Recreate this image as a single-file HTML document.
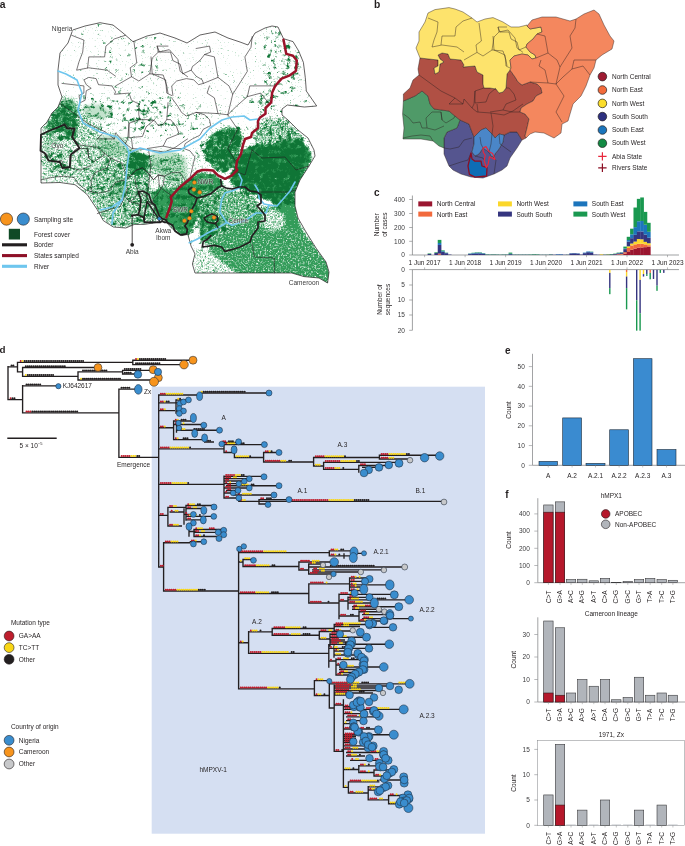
<!DOCTYPE html>
<html><head><meta charset="utf-8"><title>Figure</title>
<style>html,body{margin:0;padding:0;background:#fff}svg{display:block}text{font-family:'Liberation Sans', sans-serif}</style>
</head><body>
<svg width="685" height="846" viewBox="0 0 685 846">
<rect width="685" height="846" fill="#fff"/>
<!-- mapa.panel_a -->
<text x="-0.3" y="7.7" font-size="10.3" font-weight="bold" fill="#231f20">a</text>
<defs>
<clipPath id="landclip"><polygon points="72.7,30.0 85.0,26.0 100.0,22.7 113.0,25.0 123.0,33.0 133.0,41.7 147.0,36.0 160.0,33.0 175.0,38.0 187.0,43.0 200.0,35.0 215.0,32.0 228.0,38.0 240.0,42.0 248.0,45.0 255.0,33.0 265.0,28.0 272.0,26.0 278.0,27.0 283.5,38.7 293.0,41.6 298.7,51.0 303.4,62.4 305.3,77.6 306.3,91.0 316.7,106.0 304.4,107.0 287.3,105.0 282.0,109.0 282.0,115.0 288.0,120.0 298.0,130.0 308.0,138.0 314.0,150.0 315.0,156.0 309.0,166.0 300.0,180.0 295.0,192.0 295.0,206.0 298.0,218.0 306.0,232.0 316.0,248.0 326.0,262.0 329.0,272.0 327.6,283.0 319.0,278.0 304.0,276.6 291.7,273.0 274.3,273.0 224.7,273.0 195.0,273.0 192.4,264.0 195.0,254.0 191.0,246.0 190.3,243.0 187.8,234.4 181.6,235.6 172.9,229.4 166.0,222.0 159.3,222.0 144.4,224.4 134.4,224.4 125.8,228.0 113.3,227.0 103.4,220.7 97.2,209.6 87.3,194.7 75.0,184.7 60.0,182.5 41.0,183.0 41.0,128.0 47.0,122.0 52.0,113.0 58.0,107.0 62.0,97.0 58.0,85.0 58.0,70.0 60.0,53.0 68.0,43.0"/></clipPath>
<filter id="fz" x="30" y="15" width="305" height="275" filterUnits="userSpaceOnUse" color-interpolation-filters="sRGB">
<feGaussianBlur in="SourceGraphic" stdDeviation="2.4" result="d0"/>
<feColorMatrix in="d0" type="matrix" values="0 0 0 0 0 0 0 0 0 0 0 0 0 0 0 1 0 0 0 0" result="d"/>
<feTurbulence type="fractalNoise" baseFrequency="0.22" numOctaves="4" seed="11" result="n"/>
<feTurbulence type="fractalNoise" baseFrequency="0.7" numOctaves="2" seed="3" result="n2"/>
<feColorMatrix in="n" type="matrix" values="0 0 0 0 0 0 0 0 0 0 0 0 0 0 0 1.0 0.5 0 0 -0.25" result="na"/>
<feColorMatrix in="n2" type="matrix" values="0 0 0 0 0 0 0 0 0 0 0 0 0 0 0 0 0 0.5 0 -0.25" result="nb"/>
<feComposite in="na" in2="nb" operator="arithmetic" k1="0" k2="1" k3="1" k4="0" result="nn"/>
<feComposite in="d" in2="nn" operator="arithmetic" k1="0" k2="0.5" k3="0.5" k4="0" result="s"/>
<feColorMatrix in="s" type="matrix" values="0 0 0 0 0.06 0 0 0 0 0.46 0 0 0 0 0.21 0 0 0 7 -3"/>
</filter>
<filter id="fz2" x="30" y="15" width="305" height="275" filterUnits="userSpaceOnUse" color-interpolation-filters="sRGB">
<feGaussianBlur in="SourceGraphic" stdDeviation="1.6" result="d0"/>
<feColorMatrix in="d0" type="matrix" values="0 0 0 0 0 0 0 0 0 0 0 0 0 0 0 1 0 0 0 0" result="d"/>
<feTurbulence type="fractalNoise" baseFrequency="0.6" numOctaves="3" seed="5" result="n"/>
<feColorMatrix in="n" type="matrix" values="0 0 0 0 0 0 0 0 0 0 0 0 0 0 0 1.0 0.5 0 0 -0.25" result="na"/>
<feComposite in="d" in2="na" operator="arithmetic" k1="0" k2="0.5" k3="0.5" k4="0" result="s"/>
<feColorMatrix in="s" type="matrix" values="0 0 0 0 0.2 0 0 0 0 0.61 0 0 0 0 0.35 0 0 0 4 -1.4"/>
</filter>
<filter id="pale" x="30" y="15" width="305" height="275" filterUnits="userSpaceOnUse"><feGaussianBlur stdDeviation="1.5"/></filter>
</defs>
<polygon points="72.7,30.0 85.0,26.0 100.0,22.7 113.0,25.0 123.0,33.0 133.0,41.7 147.0,36.0 160.0,33.0 175.0,38.0 187.0,43.0 200.0,35.0 215.0,32.0 228.0,38.0 240.0,42.0 248.0,45.0 255.0,33.0 265.0,28.0 272.0,26.0 278.0,27.0 283.5,38.7 293.0,41.6 298.7,51.0 303.4,62.4 305.3,77.6 306.3,91.0 316.7,106.0 304.4,107.0 287.3,105.0 282.0,109.0 282.0,115.0 288.0,120.0 298.0,130.0 308.0,138.0 314.0,150.0 315.0,156.0 309.0,166.0 300.0,180.0 295.0,192.0 295.0,206.0 298.0,218.0 306.0,232.0 316.0,248.0 326.0,262.0 329.0,272.0 327.6,283.0 319.0,278.0 304.0,276.6 291.7,273.0 274.3,273.0 224.7,273.0 195.0,273.0 192.4,264.0 195.0,254.0 191.0,246.0 190.3,243.0 187.8,234.4 181.6,235.6 172.9,229.4 166.0,222.0 159.3,222.0 144.4,224.4 134.4,224.4 125.8,228.0 113.3,227.0 103.4,220.7 97.2,209.6 87.3,194.7 75.0,184.7 60.0,182.5 41.0,183.0 41.0,128.0 47.0,122.0 52.0,113.0 58.0,107.0 62.0,97.0 58.0,85.0 58.0,70.0 60.0,53.0 68.0,43.0" fill="#fff"/>
<g clip-path="url(#landclip)">
<g filter="url(#pale)" fill="#a8d6b6" fill-opacity="0.7">
<polygon points="97.0,137.0 112.0,134.0 127.0,140.0 128.0,152.0 118.0,157.0 100.0,155.0"/>
<polygon points="152.0,153.0 170.0,150.0 186.0,158.0 187.0,178.0 172.0,184.0 160.0,176.0 150.0,165.0"/>
<polygon points="84.0,106.0 100.0,104.0 112.0,112.0 104.0,120.0 86.0,118.0"/>
<polygon points="60.0,100.0 72.0,98.0 80.0,110.0 70.0,118.0"/>
<polygon points="110.0,180.0 125.0,178.0 128.0,195.0 115.0,200.0"/>
</g>
<g filter="url(#fz2)">
<rect x="0" y="0" width="343" height="300" fill="#000"/>
<polygon points="41.0,128.0 56.0,108.0 60.0,96.0 76.0,98.0 84.0,112.0 100.0,126.0 128.0,140.0 150.0,142.0 170.0,150.0 187.0,158.0 188.0,178.0 172.0,198.0 167.0,218.0 146.0,224.0 126.0,228.0 112.0,226.0 100.0,218.0 90.0,198.0 76.0,184.0 41.0,183.0" fill="rgb(92,92,92)"/>
<polygon points="41.0,166.0 52.0,174.0 78.0,176.0 76.0,184.0 41.0,183.0" fill="rgb(71,71,71)"/>
<polygon points="46.0,126.0 58.0,104.0 74.0,104.0 79.0,122.0 76.0,140.0 62.0,146.0 48.0,140.0" fill="rgb(153,153,153)"/>
<polygon points="96.0,168.0 112.0,162.0 129.0,164.0 146.0,172.0 168.0,180.0 170.0,200.0 166.0,220.0 146.0,224.0 126.0,228.0 114.0,226.0 100.0,212.0 90.0,190.0" fill="rgb(107,107,107)"/>
<polygon points="129.0,150.0 142.0,146.0 149.0,154.0 148.0,172.0 138.0,178.0 129.0,172.0" fill="rgb(173,173,173)"/>
<polygon points="182.0,157.0 200.0,154.0 206.0,166.0 198.0,176.0 186.0,176.0" fill="rgb(38,38,38)"/>
<polygon points="149.0,174.0 164.0,174.0 165.0,190.0 151.0,190.0" fill="rgb(38,38,38)"/>
<polygon points="66.0,140.0 80.0,140.0 80.0,166.0 68.0,166.0" fill="rgb(71,71,71)"/>
<polygon points="52.0,133.0 64.0,131.0 66.0,146.0 54.0,148.0" fill="rgb(71,71,71)"/>
<polygon points="100.0,128.0 128.0,142.0 150.0,142.0 180.0,140.0 204.0,130.0 216.0,118.0 236.0,112.0 258.0,114.0 258.0,124.0 236.0,124.0 212.0,136.0 196.0,148.0 160.0,158.0 134.0,150.0 118.0,142.0 100.0,136.0" fill="rgb(0,0,0)"/>
<polygon points="206.0,140.0 214.0,132.0 226.0,126.0 238.0,128.0 244.0,136.0 240.0,152.0 234.0,166.0 224.0,174.0 212.0,168.0 204.0,154.0" fill="rgb(153,153,153)"/>
<polygon points="232.0,172.0 238.0,160.0 245.0,149.0 260.0,143.0 272.0,145.0 284.0,140.0 296.0,139.0 304.0,143.0 311.0,152.0 312.0,160.0 304.0,174.0 298.0,184.0 294.0,200.0 280.0,204.0 262.0,198.0 246.0,190.0 238.0,188.0 230.0,184.0" fill="rgb(219,219,219)"/>
<polygon points="258.0,122.0 282.0,118.0 298.0,130.0 306.0,142.0 296.0,140.0 284.0,141.0 272.0,146.0 260.0,144.0 252.0,140.0" fill="rgb(107,107,107)"/>
<polygon points="152.0,196.0 160.0,186.0 170.0,190.0 180.0,186.0 190.0,178.0 200.0,172.0 214.0,174.0 224.0,182.0 216.0,194.0 204.0,200.0 198.0,214.0 192.0,232.0 182.0,236.0 172.0,228.0 164.0,220.0 156.0,214.0" fill="rgb(219,219,219)"/>
<polygon points="198.0,196.0 216.0,194.0 218.0,210.0 204.0,212.0" fill="rgb(71,71,71)"/>
<polygon points="203.0,190.0 222.0,188.0 250.0,192.0 260.0,204.0 256.0,222.0 242.0,244.0 218.0,250.0 203.0,244.0 198.0,222.0" fill="rgb(135,135,135)"/>
<polygon points="200.0,214.0 214.0,212.0 222.0,226.0 212.0,238.0 200.0,240.0" fill="rgb(173,173,173)"/>
<polygon points="207.0,250.0 216.0,240.0 236.0,228.0 253.0,216.0 264.0,206.0 280.0,208.0 294.0,204.0 297.0,213.0 300.0,224.0 306.0,234.0 318.0,250.0 330.0,266.0 332.0,288.0 300.0,282.0 240.0,277.0 226.0,266.0" fill="rgb(173,173,173)"/>
<polygon points="270.0,207.0 285.0,200.0 295.0,192.0 297.0,216.0 300.0,230.0 290.0,228.0 276.0,224.0" fill="rgb(219,219,219)"/>
<polygon points="262.0,214.0 272.0,208.0 284.0,214.0 286.0,226.0 272.0,232.0 262.0,226.0" fill="rgb(92,92,92)"/>
<polygon points="194.0,248.0 206.0,250.0 228.0,270.0 236.0,276.0 194.0,276.0" fill="rgb(71,71,71)"/>
</g>
<g filter="url(#fz)">
<rect x="0" y="0" width="343" height="300" fill="#000"/>
<polygon points="40.0,20.0 330.0,20.0 330.0,290.0 40.0,290.0" fill="rgb(20,20,20)"/>
<polygon points="40.0,92.0 330.0,92.0 330.0,290.0 40.0,290.0" fill="rgb(38,38,38)"/>
<polygon points="85.0,22.0 160.0,30.0 160.0,50.0 120.0,60.0 85.0,45.0" fill="rgb(38,38,38)"/>
<polygon points="100.0,50.0 180.0,50.0 200.0,80.0 175.0,95.0 110.0,92.0" fill="rgb(38,38,38)"/>
<polygon points="175.0,20.0 260.0,20.0 262.0,80.0 230.0,105.0 180.0,100.0 160.0,60.0" fill="rgb(0,0,0)"/>
<polygon points="55.0,40.0 100.0,40.0 100.0,92.0 84.0,96.0 64.0,80.0 55.0,60.0" fill="rgb(0,0,0)"/>
<polygon points="264.0,28.0 280.0,28.0 296.0,50.0 302.0,70.0 298.0,88.0 284.0,96.0 268.0,92.0 262.0,70.0 266.0,50.0" fill="rgb(71,71,71)"/>
<polygon points="292.0,56.0 300.0,58.0 302.0,70.0 296.0,74.0 292.0,66.0" fill="rgb(120,120,120)"/>
<polygon points="258.0,92.0 272.0,88.0 276.0,104.0 262.0,112.0 254.0,104.0" fill="rgb(92,92,92)"/>
<polygon points="84.0,96.0 100.0,92.0 150.0,96.0 176.0,102.0 200.0,104.0 214.0,116.0 204.0,128.0 180.0,136.0 150.0,138.0 128.0,138.0 100.0,126.0 84.0,112.0" fill="rgb(56,56,56)"/>
<polygon points="137.0,102.0 159.0,100.0 162.0,116.0 150.0,126.0 136.0,120.0" fill="rgb(92,92,92)"/>
<polygon points="129.0,118.0 147.0,118.0 148.0,128.0 130.0,128.0" fill="rgb(92,92,92)"/>
<polygon points="84.0,104.0 112.0,104.0 116.0,120.0 100.0,124.0 84.0,116.0" fill="rgb(92,92,92)"/>
<polygon points="41.0,128.0 56.0,108.0 60.0,96.0 76.0,98.0 84.0,112.0 100.0,126.0 128.0,140.0 150.0,142.0 170.0,150.0 187.0,158.0 188.0,178.0 172.0,198.0 167.0,218.0 146.0,224.0 126.0,228.0 112.0,226.0 100.0,218.0 90.0,198.0 76.0,184.0 41.0,183.0" fill="rgb(71,71,71)"/>
<polygon points="48.0,118.0 58.0,102.0 72.0,104.0 77.0,120.0 74.0,136.0 62.0,140.0 50.0,134.0" fill="rgb(135,135,135)"/>
<polygon points="44.0,150.0 54.0,150.0 60.0,160.0 50.0,162.0" fill="rgb(120,120,120)"/>
<polygon points="52.0,166.0 70.0,166.0 70.0,174.0 54.0,174.0" fill="rgb(120,120,120)"/>
<polygon points="41.0,170.0 52.0,174.0 78.0,176.0 76.0,184.0 41.0,183.0" fill="rgb(38,38,38)"/>
<polygon points="96.0,168.0 110.0,162.0 128.0,166.0 128.0,196.0 116.0,204.0 102.0,200.0 94.0,186.0" fill="rgb(92,92,92)"/>
<polygon points="129.0,150.0 142.0,146.0 149.0,154.0 148.0,170.0 138.0,176.0 129.0,172.0" fill="rgb(173,173,173)"/>
<polygon points="128.0,172.0 150.0,172.0 168.0,180.0 170.0,200.0 166.0,220.0 146.0,224.0 126.0,228.0 114.0,226.0 124.0,210.0 128.0,196.0" fill="rgb(92,92,92)"/>
<polygon points="100.0,128.0 128.0,142.0 150.0,142.0 180.0,140.0 204.0,130.0 216.0,118.0 236.0,112.0 258.0,114.0 258.0,124.0 236.0,124.0 212.0,136.0 196.0,148.0 160.0,158.0 134.0,150.0 118.0,142.0 100.0,136.0" fill="rgb(0,0,0)"/>
<polygon points="182.0,157.0 200.0,154.0 206.0,166.0 198.0,176.0 186.0,176.0" fill="rgb(0,0,0)"/>
<polygon points="149.0,174.0 164.0,174.0 164.0,188.0 150.0,188.0" fill="rgb(20,20,20)"/>
<polygon points="206.0,140.0 214.0,132.0 226.0,126.0 238.0,128.0 244.0,136.0 240.0,152.0 234.0,166.0 224.0,174.0 212.0,168.0 204.0,154.0" fill="rgb(153,153,153)"/>
<polygon points="196.0,142.0 206.0,138.0 206.0,160.0 198.0,164.0" fill="rgb(92,92,92)"/>
<polygon points="258.0,106.0 284.0,108.0 300.0,108.0 316.0,106.0 300.0,132.0 282.0,118.0 270.0,120.0 258.0,128.0" fill="rgb(71,71,71)"/>
<polygon points="258.0,120.0 282.0,116.0 300.0,132.0 312.0,146.0 296.0,146.0 270.0,140.0 254.0,136.0" fill="rgb(92,92,92)"/>
<polygon points="232.0,172.0 238.0,160.0 245.0,149.0 260.0,143.0 272.0,145.0 284.0,140.0 296.0,139.0 304.0,143.0 311.0,152.0 312.0,160.0 304.0,174.0 298.0,184.0 294.0,200.0 280.0,204.0 262.0,198.0 246.0,190.0 238.0,188.0 230.0,184.0" fill="rgb(173,173,173)"/>
<polygon points="300.0,162.0 312.0,156.0 312.0,166.0 304.0,176.0" fill="rgb(92,92,92)"/>
<polygon points="168.0,198.0 186.0,182.0 200.0,174.0 214.0,176.0 224.0,184.0 214.0,198.0 204.0,212.0 198.0,230.0 186.0,237.0 172.0,228.0 166.0,218.0" fill="rgb(107,107,107)"/>
<polygon points="199.0,194.0 214.0,192.0 217.0,206.0 204.0,208.0" fill="rgb(38,38,38)"/>
<polygon points="270.0,207.0 285.0,200.0 295.0,192.0 297.0,216.0 292.0,228.0 276.0,224.0" fill="rgb(135,135,135)"/>
<polygon points="290.0,215.0 298.0,218.0 306.0,234.0 300.0,238.0 292.0,230.0" fill="rgb(135,135,135)"/>
<polygon points="203.0,190.0 222.0,188.0 250.0,192.0 260.0,204.0 256.0,222.0 242.0,244.0 218.0,250.0 203.0,244.0 198.0,222.0" fill="rgb(92,92,92)"/>
<polygon points="200.0,214.0 214.0,212.0 222.0,226.0 212.0,238.0 200.0,240.0" fill="rgb(120,120,120)"/>
<polygon points="224.0,196.0 244.0,196.0 248.0,214.0 232.0,222.0 222.0,212.0" fill="rgb(38,38,38)"/>
<polygon points="194.0,248.0 206.0,248.0 230.0,268.0 238.0,276.0 194.0,276.0" fill="rgb(38,38,38)"/>
<polygon points="207.0,251.0 216.0,241.0 236.0,229.0 253.0,217.0 264.0,208.0 280.0,209.0 294.0,205.0 300.0,224.0 318.0,250.0 330.0,266.0 332.0,288.0 240.0,278.0 226.0,267.0" fill="rgb(0,0,0)"/>
</g>
</g>
<polyline points="71.7,35.3 83.9,40.1 82.7,52.1 79.0,61.8 76.6,70.2 88.8,67.8 107.1,70.2 115.6,76.2" fill="none" stroke="#231f20" stroke-width="0.6" stroke-linejoin="round" stroke-linecap="round"/>
<polyline points="87.6,67.8 88.8,56.9 104.6,56.9 105.9,46.1 114.4,38.9 125.4,35.3" fill="none" stroke="#231f20" stroke-width="0.6" stroke-linejoin="round" stroke-linecap="round"/>
<polyline points="133.9,41.3 136.8,63.0 130.2,67.8 131.5,76.7 115.6,85.9" fill="none" stroke="#231f20" stroke-width="0.6" stroke-linejoin="round" stroke-linecap="round"/>
<polyline points="131.5,76.7 138.8,81.0 149.8,73.8 163.2,75.0 166.8,85.9 168.0,93.1" fill="none" stroke="#231f20" stroke-width="0.6" stroke-linejoin="round" stroke-linecap="round"/>
<polyline points="149.8,73.8 152.2,58.1 158.3,52.1 169.3,49.7 177.8,59.3 180.2,71.4 187.6,76.7" fill="none" stroke="#231f20" stroke-width="0.6" stroke-linejoin="round" stroke-linecap="round"/>
<polyline points="158.3,52.1 157.1,46.1 168.0,46.1" fill="none" stroke="#231f20" stroke-width="0.6" stroke-linejoin="round" stroke-linecap="round"/>
<polyline points="157.1,46.1 159.5,52.1 170.5,52.1 172.9,60.6 180.2,64.2 182.7,73.8 191.2,70.2" fill="none" stroke="#231f20" stroke-width="0.6" stroke-linejoin="round" stroke-linecap="round"/>
<polyline points="151.0,56.9 152.2,73.8 165.6,79.8 166.8,93.1 171.7,95.5" fill="none" stroke="#231f20" stroke-width="0.6" stroke-linejoin="round" stroke-linecap="round"/>
<polyline points="203.4,83.4 218.0,77.4 229.0,85.9 232.7,94.3 227.8,114.8" fill="none" stroke="#231f20" stroke-width="0.6" stroke-linejoin="round" stroke-linecap="round"/>
<polyline points="209.5,85.9 207.1,93.1 214.4,97.9 218.0,113.6" fill="none" stroke="#231f20" stroke-width="0.6" stroke-linejoin="round" stroke-linecap="round"/>
<polyline points="196.1,112.4 218.0,113.6 227.8,114.8 236.3,106.3 247.3,96.7 260.7,93.1 269.3,103.9" fill="none" stroke="#231f20" stroke-width="0.6" stroke-linejoin="round" stroke-linecap="round"/>
<polyline points="232.7,94.3 247.3,71.4 244.9,56.9 251.0,47.3 252.2,36.5" fill="none" stroke="#231f20" stroke-width="0.6" stroke-linejoin="round" stroke-linecap="round"/>
<polyline points="218.0,77.4 214.4,56.9 204.6,54.5" fill="none" stroke="#231f20" stroke-width="0.6" stroke-linejoin="round" stroke-linecap="round"/>
<polyline points="227.8,114.8 237.6,129.2 227.8,148.5 235.1,160.6" fill="none" stroke="#231f20" stroke-width="0.6" stroke-linejoin="round" stroke-linecap="round"/>
<polyline points="247.3,96.7 249.8,85.9 269.3,85.9 276.6,85.9" fill="none" stroke="#231f20" stroke-width="0.6" stroke-linejoin="round" stroke-linecap="round"/>
<polyline points="60.7,103.9 87.6,123.2 104.6,131.6 114.4,138.9 115.6,132.8 125.4,143.7 127.8,138.9 129.0,123.2 140.0,119.6" fill="none" stroke="#231f20" stroke-width="0.6" stroke-linejoin="round" stroke-linecap="round"/>
<polyline points="129.0,123.2 129.0,137.7 142.4,136.5 146.1,126.8 154.6,119.6" fill="none" stroke="#231f20" stroke-width="0.6" stroke-linejoin="round" stroke-linecap="round"/>
<polyline points="97.3,138.9 104.6,131.6" fill="none" stroke="#231f20" stroke-width="0.6" stroke-linejoin="round" stroke-linecap="round"/>
<polyline points="97.3,138.9 114.4,138.9" fill="none" stroke="#231f20" stroke-width="0.6" stroke-linejoin="round" stroke-linecap="round"/>
<polyline points="125.4,143.7 131.5,148.5 148.5,149.7 151.0,165.4 149.8,175.0" fill="none" stroke="#231f20" stroke-width="0.6" stroke-linejoin="round" stroke-linecap="round"/>
<polyline points="131.5,138.9 132.7,148.5" fill="none" stroke="#231f20" stroke-width="0.6" stroke-linejoin="round" stroke-linecap="round"/>
<polyline points="148.5,149.7 164.4,152.1 175.4,147.3 183.9,141.3 187.6,138.9" fill="none" stroke="#231f20" stroke-width="0.6" stroke-linejoin="round" stroke-linecap="round"/>
<polyline points="147.3,148.5 163.2,146.1 174.1,148.5 183.9,148.5" fill="none" stroke="#231f20" stroke-width="0.6" stroke-linejoin="round" stroke-linecap="round"/>
<polyline points="163.2,146.1 166.8,138.9 179.0,134.0 176.6,126.8 170.5,119.6 166.8,119.6" fill="none" stroke="#231f20" stroke-width="0.6" stroke-linejoin="round" stroke-linecap="round"/>
<polyline points="41.7,150.9 48.5,155.7 53.4,161.8 62.0,160.6 64.4,167.8 70.5,167.8 80.2,170.2 91.2,165.4" fill="none" stroke="#231f20" stroke-width="0.6" stroke-linejoin="round" stroke-linecap="round"/>
<polyline points="70.5,167.8 69.3,155.7 76.6,148.5 87.6,148.5 88.8,158.1 93.7,161.8 103.4,155.7 104.6,153.3" fill="none" stroke="#231f20" stroke-width="0.6" stroke-linejoin="round" stroke-linecap="round"/>
<polyline points="87.6,148.5 88.8,158.1" fill="none" stroke="#231f20" stroke-width="0.6" stroke-linejoin="round" stroke-linecap="round"/>
<polyline points="41.2,179.8 52.2,177.4 63.2,176.2 74.1,177.4 77.8,183.4" fill="none" stroke="#231f20" stroke-width="0.6" stroke-linejoin="round" stroke-linecap="round"/>
<polyline points="91.2,191.9 98.5,193.1 109.5,190.7 115.6,182.2 125.4,179.8" fill="none" stroke="#231f20" stroke-width="0.6" stroke-linejoin="round" stroke-linecap="round"/>
<polyline points="97.3,213.6 112.0,208.7 120.5,206.3 124.1,197.9" fill="none" stroke="#231f20" stroke-width="0.6" stroke-linejoin="round" stroke-linecap="round"/>
<polyline points="135.1,178.6 136.3,187.1 138.8,191.9" fill="none" stroke="#231f20" stroke-width="0.6" stroke-linejoin="round" stroke-linecap="round"/>
<polyline points="149.8,175.0 148.5,187.1 146.1,196.7" fill="none" stroke="#231f20" stroke-width="0.6" stroke-linejoin="round" stroke-linecap="round"/>
<polyline points="129.0,201.5 138.8,203.9 140.2,206.8" fill="none" stroke="#231f20" stroke-width="0.6" stroke-linejoin="round" stroke-linecap="round"/>
<polyline points="158.3,175.0 159.5,187.1 172.9,196.7" fill="none" stroke="#231f20" stroke-width="0.6" stroke-linejoin="round" stroke-linecap="round"/>
<polyline points="152.2,223.2 154.6,206.3 149.8,201.5" fill="none" stroke="#231f20" stroke-width="0.6" stroke-linejoin="round" stroke-linecap="round"/>
<polyline points="190.0,177.4 192.4,167.8 194.9,156.9 190.0,150.9 183.9,148.5 185.1,143.7 192.4,138.9 199.8,135.3 203.4,129.2 210.7,125.6 209.5,119.6 204.6,114.8 196.1,112.4 186.3,116.0 181.5,112.4 177.8,106.3 171.7,97.9" fill="none" stroke="#231f20" stroke-width="0.6" stroke-linejoin="round" stroke-linecap="round"/>
<polyline points="172.9,95.5 171.7,85.9 176.6,81.0 186.3,78.6 193.7,79.8 198.5,84.7 203.4,83.4 202.2,79.8 196.1,76.2 191.2,70.2 192.4,66.6 199.8,60.6 204.6,54.5 210.7,52.1 209.5,46.1 196.1,48.5" fill="none" stroke="#231f20" stroke-width="0.6" stroke-linejoin="round" stroke-linecap="round"/>
<polyline points="168.0,102.7 166.8,119.6 163.2,124.4 158.3,125.6 154.6,120.8 147.3,119.6 140.0,119.6 138.8,114.8 138.8,103.9 131.5,100.3 129.0,93.1 114.4,94.3 115.6,91.9 112.0,85.9 98.5,84.7 96.1,78.6 88.8,77.4 83.9,79.8 86.3,84.7 91.2,88.3 86.3,90.7 85.1,100.3 80.2,102.7 79.0,95.5 83.9,93.1 83.9,85.9 62.0,83.4" fill="none" stroke="#231f20" stroke-width="0.6" stroke-linejoin="round" stroke-linecap="round"/>
<polyline points="55.9,129.2 64.4,123.2 71.7,129.2 74.1,138.9 79.0,144.9 97.3,147.3 104.6,153.3 110.7,158.1 121.7,163.0 125.4,172.6 127.8,178.6 136.3,170.2 142.4,167.8 149.8,175.0 153.4,179.8 158.3,175.0 164.4,176.2 171.7,172.6 180.2,172.6 186.3,182.2 191.2,179.8" fill="none" stroke="#231f20" stroke-width="0.6" stroke-linejoin="round" stroke-linecap="round"/>
<polyline points="110.7,158.1 107.1,167.8 94.9,172.6 91.2,179.8 91.2,191.9 85.1,189.5 77.8,183.4" fill="none" stroke="#231f20" stroke-width="0.6" stroke-linejoin="round" stroke-linecap="round"/>
<polyline points="127.8,178.6 136.3,170.2 142.4,167.8 149.8,175.0 153.4,179.8 158.3,175.0 164.4,176.2 163.2,184.7 158.3,193.1 153.4,199.1 151.0,205.1 146.1,196.7 138.8,191.9 133.9,199.1 129.0,201.5 125.4,196.7 127.8,187.1" fill="none" stroke="#231f20" stroke-width="0.6" stroke-linejoin="round" stroke-linecap="round"/>
<polyline points="252.0,150.0 262.0,158.0 285.0,157.0 296.0,170.0 309.0,166.0" fill="none" stroke="#231f20" stroke-width="0.6" stroke-linejoin="round" stroke-linecap="round"/>
<polyline points="258.0,192.0 290.0,192.0 295.0,190.0" fill="none" stroke="#231f20" stroke-width="0.6" stroke-linejoin="round" stroke-linecap="round"/>
<polyline points="252.0,244.0 254.4,257.0 274.3,258.0 274.3,273.0" fill="none" stroke="#231f20" stroke-width="0.6" stroke-linejoin="round" stroke-linecap="round"/>
<polyline points="232.0,170.0 245.0,175.0 252.0,150.0" fill="none" stroke="#231f20" stroke-width="0.6" stroke-linejoin="round" stroke-linecap="round"/>
<polygon points="72.7,30.0 85.0,26.0 100.0,22.7 113.0,25.0 123.0,33.0 133.0,41.7 147.0,36.0 160.0,33.0 175.0,38.0 187.0,43.0 200.0,35.0 215.0,32.0 228.0,38.0 240.0,42.0 248.0,45.0 255.0,33.0 265.0,28.0 272.0,26.0 278.0,27.0 283.5,38.7 293.0,41.6 298.7,51.0 303.4,62.4 305.3,77.6 306.3,91.0 316.7,106.0 304.4,107.0 287.3,105.0 282.0,109.0 282.0,115.0 288.0,120.0 298.0,130.0 308.0,138.0 314.0,150.0 315.0,156.0 309.0,166.0 300.0,180.0 295.0,192.0 295.0,206.0 298.0,218.0 306.0,232.0 316.0,248.0 326.0,262.0 329.0,272.0 327.6,283.0 319.0,278.0 304.0,276.6 291.7,273.0 274.3,273.0 224.7,273.0 195.0,273.0 192.4,264.0 195.0,254.0 191.0,246.0 190.3,243.0 187.8,234.4 181.6,235.6 172.9,229.4 166.0,222.0 159.3,222.0 144.4,224.4 134.4,224.4 125.8,228.0 113.3,227.0 103.4,220.7 97.2,209.6 87.3,194.7 75.0,184.7 60.0,182.5 41.0,183.0 41.0,128.0 47.0,122.0 52.0,113.0 58.0,107.0 62.0,97.0 58.0,85.0 58.0,70.0 60.0,53.0 68.0,43.0" fill="none" stroke="#231f20" stroke-width="0.7" stroke-linejoin="round"/>
<polyline points="58.0,71.0 66.0,74.0 77.0,80.0 82.0,93.0 78.0,110.0 83.0,123.0 100.0,132.0 117.0,137.0 127.0,147.0 129.0,153.0" fill="none" stroke="#6ec6ee" stroke-width="1.6" stroke-linejoin="round" stroke-linecap="round"/>
<polyline points="129.0,153.0 128.0,160.0 127.0,167.0 125.0,187.0 122.0,200.0 113.0,213.0 112.0,224.0" fill="none" stroke="#6ec6ee" stroke-width="1.6" stroke-linejoin="round" stroke-linecap="round"/>
<polyline points="122.0,200.0 112.0,207.0 100.0,210.0" fill="none" stroke="#6ec6ee" stroke-width="1.6" stroke-linejoin="round" stroke-linecap="round"/>
<polyline points="129.0,153.0 140.0,148.0 160.0,153.0 180.0,150.0 200.0,139.0 210.0,128.0 222.0,120.0 232.0,117.0 244.0,116.0 250.0,120.0 258.0,119.0" fill="none" stroke="#6ec6ee" stroke-width="1.6" stroke-linejoin="round" stroke-linecap="round"/>
<polyline points="239.0,174.0 242.0,180.0 240.0,187.5 232.0,191.0 225.0,192.8 221.6,199.8 219.8,212.0 223.3,217.3 226.8,222.5 218.0,227.8 207.6,233.0 197.0,239.2 189.2,242.7" fill="none" stroke="#6ec6ee" stroke-width="1.6" stroke-linejoin="round" stroke-linecap="round"/>
<polyline points="226.8,222.5 232.0,225.2 240.0,222.5 246.0,220.0 256.0,213.0 266.0,213.0 269.0,205.0 277.0,206.0 284.0,198.0 290.0,191.0 295.0,182.0" fill="none" stroke="#6ec6ee" stroke-width="1.6" stroke-linejoin="round" stroke-linecap="round"/>
<polyline points="255.0,185.0 258.0,190.0 259.0,198.0 264.0,204.0 269.0,205.0" fill="none" stroke="#6ec6ee" stroke-width="1.6" stroke-linejoin="round" stroke-linecap="round"/>
<polygon points="41.0,134.7 48.6,131.0 64.7,124.7 67.0,128.5 74.7,128.5 72.0,137.0 79.6,148.3 71.0,154.5 69.7,167.0 62.3,168.0 59.8,162.0 48.6,160.7 44.9,153.3 40.5,150.8" fill="none" stroke="#231f20" stroke-width="1.8" stroke-linejoin="round"/>
<polyline points="138.4,191.9 142.8,191.0 148.9,194.5 151.5,202.4 155.0,205.0 159.4,216.4 162.9,219.0 165.9,219.9 167.3,222.5 164.7,222.5 162.0,220.8 160.3,222.5 144.5,222.5 143.6,217.3 141.0,216.4 138.4,214.7 132.3,215.5 138.4,214.7 140.1,207.7 141.0,199.8 138.4,191.9" fill="none" stroke="#231f20" stroke-width="1.7" stroke-linejoin="round" stroke-linecap="round"/>
<polyline points="147.1,201.5 144.2,216.4 144.5,222.3 160.0,222.3 157.7,217.3 147.1,201.5" fill="none" stroke="#231f20" stroke-width="1.4" stroke-linejoin="round" stroke-linecap="round"/>
<polyline points="167.3,222.5 172.5,225.2 175.2,231.3 180.4,234.8 186.5,233.9 187.4,229.5 184.8,226.0 187.4,222.5 190.0,216.4 190.9,211.2 195.3,203.3 197.0,198.0 189.2,193.6 188.3,190.1 191.8,187.5" fill="none" stroke="#231f20" stroke-width="1.7" stroke-linejoin="round" stroke-linecap="round"/>
<polyline points="197.0,198.0 204.0,196.3 211.0,193.6 218.0,187.5 221.6,185.8 220.7,179.6" fill="none" stroke="#231f20" stroke-width="1.7" stroke-linejoin="round" stroke-linecap="round"/>
<polyline points="204.0,218.2 207.6,215.9 212.0,213.8 217.2,216.4 218.0,220.8 215.4,223.4 208.4,222.5 205.8,220.8 204.0,218.2" fill="none" stroke="#231f20" stroke-width="1.5" stroke-linejoin="round" stroke-linecap="round"/>
<polyline points="215.4,223.4 218.0,227.8" fill="none" stroke="#231f20" stroke-width="1.2" stroke-linejoin="round" stroke-linecap="round"/>
<polyline points="221.6,185.8 226.0,188.0 232.0,189.0 239.0,187.0 245.0,187.0 250.0,191.0 257.0,192.0 261.0,195.0 261.0,203.0 257.0,206.0 260.0,209.0 265.0,215.0 265.0,221.0 258.0,222.0 258.0,228.0 252.0,236.0 250.0,242.0 240.0,247.0 234.0,249.0 225.0,251.4 221.6,247.0 214.6,245.3 202.3,247.0 203.2,241.8 207.6,239.2 211.0,235.7" fill="none" stroke="#231f20" stroke-width="1.7" stroke-linejoin="round" stroke-linecap="round"/>
<polyline points="283.5,39.7 286.3,53.9 293.0,55.8 296.8,60.5 295.8,71.0 289.2,75.7 281.6,78.6 275.0,86.2 272.1,92.8 271.2,102.3 265.5,108.0 265.5,113.7 260.0,117.5 258.0,121.0 258.0,128.0 252.0,133.0 251.0,137.0 245.0,139.0 243.0,145.0 241.0,154.0 237.0,161.0 236.0,168.0 237.3,170.0 232.0,175.3 225.0,178.8 218.0,175.3 213.0,170.5 207.0,170.0 202.3,170.0 197.0,171.8 190.0,178.8 179.5,187.5 170.8,197.1 171.7,201.5 169.0,210.3 166.4,217.3" fill="none" stroke="#9a1329" stroke-width="2.5" stroke-linejoin="round" stroke-linecap="round"/>
<circle cx="194.4" cy="182.6" r="2.0" fill="#f7941d" stroke="#7a4a10" stroke-width="0.3"/>
<circle cx="193.9" cy="189.6" r="2.0" fill="#f7941d" stroke="#7a4a10" stroke-width="0.3"/>
<circle cx="199.7" cy="192.2" r="2.0" fill="#f7941d" stroke="#7a4a10" stroke-width="0.3"/>
<circle cx="191.3" cy="211.2" r="2.0" fill="#f7941d" stroke="#7a4a10" stroke-width="0.3"/>
<circle cx="189.5" cy="218.2" r="2.0" fill="#f7941d" stroke="#7a4a10" stroke-width="0.3"/>
<circle cx="184.4" cy="220.8" r="2.0" fill="#f7941d" stroke="#7a4a10" stroke-width="0.3"/>
<circle cx="214.0" cy="217.6" r="2.0" fill="#f7941d" stroke="#7a4a10" stroke-width="0.3"/>
<circle cx="159.3" cy="218.7" r="1.8" fill="#3a8dce" stroke="#231f20" stroke-width="0.3"/>
<line x1="132.2" y1="215.8" x2="132.2" y2="244.8" stroke="#231f20" stroke-width="0.8"/>
<circle cx="132.2" cy="215.8" r="1.3" fill="#231f20"/>
<circle cx="132.2" cy="244.8" r="1.9" fill="#231f20"/>
<text x="62" y="30.5" font-size="6.5" text-anchor="middle" fill="#3a3a3a" stroke="#fff" stroke-width="1.1" stroke-opacity="0.55" paint-order="stroke" stroke-linejoin="round">Nigeria</text>
<text x="304" y="285.3" font-size="6.5" text-anchor="middle" fill="#3a3a3a" stroke="#fff" stroke-width="1.1" stroke-opacity="0.55" paint-order="stroke" stroke-linejoin="round">Cameroon</text>
<text x="57.3" y="148.2" font-size="6.5" text-anchor="middle" fill="#3a3a3a" stroke="#fff" stroke-width="1.1" stroke-opacity="0.55" paint-order="stroke" stroke-linejoin="round">Oyo</text>
<text x="132.2" y="253.7" font-size="6.5" text-anchor="middle" fill="#3a3a3a" stroke="#fff" stroke-width="1.1" stroke-opacity="0.55" paint-order="stroke" stroke-linejoin="round">Abia</text>
<text x="163.3" y="232.5" font-size="6.5" text-anchor="middle" fill="#3a3a3a" stroke="#fff" stroke-width="1.1" stroke-opacity="0.55" paint-order="stroke" stroke-linejoin="round">Akwa</text>
<text x="163.3" y="239.5" font-size="6.5" text-anchor="middle" fill="#3a3a3a" stroke="#fff" stroke-width="1.1" stroke-opacity="0.55" paint-order="stroke" stroke-linejoin="round">Ibom</text>
<text x="205.4" y="184.4" font-size="6.5" text-anchor="middle" fill="#3a3a3a" stroke="#fff" stroke-width="1.1" stroke-opacity="0.55" paint-order="stroke" stroke-linejoin="round">NWR</text>
<text x="180.4" y="211.7" font-size="6.5" text-anchor="middle" fill="#3a3a3a" stroke="#fff" stroke-width="1.1" stroke-opacity="0.55" paint-order="stroke" stroke-linejoin="round">SWR</text>
<text x="238.3" y="222.9" font-size="6.5" text-anchor="middle" fill="#3a3a3a" stroke="#fff" stroke-width="1.1" stroke-opacity="0.55" paint-order="stroke" stroke-linejoin="round">Centre</text>
<circle cx="6.5" cy="219.1" r="6.1" fill="#f7941d" stroke="#231f20" stroke-width="0.6"/>
<circle cx="23.3" cy="219.1" r="6.1" fill="#3a8dce" stroke="#231f20" stroke-width="0.6"/>
<rect x="8.80" y="228.80" width="11.20" height="10.70" fill="#0f4a26"/>
<line x1="2" y1="244.8" x2="27" y2="244.8" stroke="#231f20" stroke-width="3.1"/>
<line x1="2" y1="255.6" x2="27" y2="255.6" stroke="#8e1027" stroke-width="3.1"/>
<line x1="2" y1="266.3" x2="27" y2="266.3" stroke="#6ec6ee" stroke-width="3.1"/>
<text x="34" y="221.5" font-size="6.5" fill="#231f20">Sampling site</text>
<text x="34" y="236.5" font-size="6.5" fill="#231f20">Forest cover</text>
<text x="34" y="247.2" font-size="6.5" fill="#231f20">Border</text>
<text x="34" y="257.9" font-size="6.5" fill="#231f20">States sampled</text>
<text x="34" y="268.5" font-size="6.5" fill="#231f20">River</text>
<!-- mapb.panel_b -->
<text x="374.0" y="7.6" font-size="10.3" font-weight="bold" fill="#231f20">b</text>
<polygon points="460.0,120.0 469.0,124.0 472.0,132.0 474.0,137.0 474.0,144.0 472.0,152.0 475.0,156.0 479.0,154.0 483.0,148.0 489.0,152.0 493.0,159.0 495.0,154.0 499.0,149.0 503.0,142.0 504.0,135.0 510.0,132.0 517.0,132.0 522.0,140.0 517.0,148.0 510.0,158.0 507.0,166.0 502.0,170.0 494.0,174.0 483.0,178.0 471.0,177.0 461.0,174.0 453.0,170.0 449.0,166.0 444.0,154.0 444.0,148.0 444.0,138.0 447.0,132.0 457.0,128.0" fill="#55558f" stroke="#2b1f1f" stroke-width="0.45" stroke-linejoin="round"/>
<polygon points="403.4,101.0 415.0,96.0 422.0,91.0 428.0,96.0 430.0,104.0 434.0,109.0 449.0,111.0 455.0,116.0 460.0,120.0 457.0,128.0 447.0,132.0 444.0,138.0 444.0,148.0 439.0,146.0 433.0,141.0 421.0,139.0 403.0,139.0 404.0,128.0 402.6,114.0" fill="#4f9a68" stroke="#2b1f1f" stroke-width="0.45" stroke-linejoin="round"/>
<polygon points="403.4,101.0 403.4,94.0 410.0,88.0 413.0,80.0 419.0,75.0 418.0,69.0 420.0,58.0 420.0,58.0 438.0,60.0 438.0,66.0 434.0,68.0 435.0,74.0 439.0,72.0 440.0,64.0 444.0,62.0 440.0,59.0 438.0,55.0 442.0,53.0 448.0,54.0 450.0,59.0 461.0,60.0 464.0,65.0 463.0,67.0 475.0,66.0 477.0,72.0 483.0,75.0 483.0,84.0 484.0,88.0 490.0,88.0 496.0,89.0 499.0,93.0 503.0,92.0 506.0,88.0 507.0,74.0 510.0,70.0 510.0,70.0 515.0,77.0 518.0,82.0 522.0,85.0 530.0,82.0 537.0,84.0 541.0,88.0 542.0,93.0 536.0,96.0 533.0,101.0 527.0,104.0 521.0,108.0 520.0,112.0 525.0,114.0 529.0,119.0 527.0,128.0 525.0,136.0 526.0,138.0 522.0,140.0 517.0,132.0 510.0,132.0 504.0,135.0 499.0,134.0 495.0,138.0 492.0,134.0 486.0,128.0 481.0,130.0 474.0,137.0 472.0,132.0 469.0,124.0 460.0,120.0 455.0,116.0 449.0,111.0 434.0,109.0 430.0,104.0 428.0,96.0 422.0,91.0 415.0,96.0" fill="#b05044" stroke="#2b1f1f" stroke-width="0.45" stroke-linejoin="round"/>
<polygon points="428.0,13.0 435.0,9.6 449.0,7.6 455.0,9.0 463.0,12.0 472.0,18.0 477.0,22.0 485.0,19.0 493.0,17.6 503.0,22.0 511.0,27.0 519.0,27.0 527.0,25.0 527.0,26.0 530.0,29.0 541.0,27.0 542.0,32.0 537.0,34.0 533.0,39.0 527.0,44.0 526.0,47.0 530.0,52.0 535.0,55.0 536.0,58.0 532.0,59.0 528.0,55.0 522.0,54.0 514.0,56.0 510.0,60.0 511.0,68.0 510.0,70.0 507.0,74.0 506.0,88.0 503.0,92.0 499.0,93.0 496.0,89.0 490.0,88.0 484.0,88.0 483.0,84.0 483.0,75.0 477.0,72.0 475.0,66.0 463.0,67.0 464.0,65.0 461.0,60.0 450.0,59.0 448.0,54.0 442.0,53.0 438.0,55.0 440.0,59.0 444.0,62.0 440.0,64.0 439.0,72.0 435.0,74.0 434.0,68.0 438.0,66.0 438.0,60.0 420.0,58.0 416.0,48.0 419.0,41.0 419.0,32.0 425.0,22.0" fill="#fde36c" stroke="#2b1f1f" stroke-width="0.45" stroke-linejoin="round"/>
<polygon points="527.0,26.0 532.0,20.0 542.0,17.0 556.0,17.0 570.0,21.0 576.0,19.0 584.0,14.0 594.0,10.0 599.0,14.0 604.0,25.0 610.0,36.0 614.0,41.0 612.0,49.0 602.0,55.0 596.0,60.0 594.0,68.0 590.0,75.0 586.0,86.0 581.0,96.0 573.0,104.0 570.0,114.0 568.0,121.0 562.0,124.0 561.0,133.0 554.0,138.0 544.0,133.0 535.0,132.0 530.0,134.0 526.0,138.0 525.0,136.0 527.0,128.0 529.0,119.0 525.0,114.0 520.0,112.0 521.0,108.0 527.0,104.0 533.0,101.0 536.0,96.0 542.0,93.0 541.0,88.0 537.0,84.0 530.0,82.0 522.0,85.0 518.0,82.0 515.0,77.0 510.0,70.0 511.0,68.0 510.0,60.0 514.0,56.0 522.0,54.0 528.0,55.0 532.0,59.0 536.0,58.0 535.0,55.0 530.0,52.0 526.0,47.0 527.0,44.0 533.0,39.0 537.0,34.0 542.0,32.0 541.0,27.0 530.0,29.0" fill="#f4875e" stroke="#2b1f1f" stroke-width="0.45" stroke-linejoin="round"/>
<polygon points="474.0,137.0 481.0,130.0 486.0,128.0 492.0,134.0 495.0,138.0 499.0,134.0 504.0,135.0 503.0,142.0 499.0,149.0 495.0,154.0 493.0,159.0 489.0,152.0 483.0,148.0 479.0,154.0 475.0,156.0 472.0,152.0 474.0,144.0" fill="#4a86c8" stroke="#2b1f1f" stroke-width="0.45" stroke-linejoin="round"/>
<polyline points="428.0,18.0 438.0,22.0 437.0,32.0 434.0,40.0 432.0,47.0 442.0,45.0 457.0,47.0 464.0,52.0" fill="none" stroke="#2b1f1f" stroke-width="0.45" stroke-linejoin="round"/>
<polyline points="441.0,45.0 442.0,36.0 455.0,36.0 456.0,27.0 463.0,21.0 472.0,18.0" fill="none" stroke="#2b1f1f" stroke-width="0.45" stroke-linejoin="round"/>
<polyline points="479.0,23.0 481.4,41.0 476.0,45.0 477.0,52.4 464.0,60.0" fill="none" stroke="#2b1f1f" stroke-width="0.45" stroke-linejoin="round"/>
<polyline points="477.0,52.4 483.0,56.0 492.0,50.0 503.0,51.0 506.0,60.0 507.0,66.0" fill="none" stroke="#2b1f1f" stroke-width="0.45" stroke-linejoin="round"/>
<polyline points="492.0,50.0 494.0,37.0 499.0,32.0 508.0,30.0 515.0,38.0 517.0,48.0 523.0,52.4" fill="none" stroke="#2b1f1f" stroke-width="0.45" stroke-linejoin="round"/>
<polyline points="499.0,32.0 498.0,27.0 507.0,27.0" fill="none" stroke="#2b1f1f" stroke-width="0.45" stroke-linejoin="round"/>
<polyline points="498.0,27.0 500.0,32.0 509.0,32.0 511.0,39.0 517.0,42.0 519.0,50.0 526.0,47.0" fill="none" stroke="#2b1f1f" stroke-width="0.45" stroke-linejoin="round"/>
<polyline points="493.0,36.0 494.0,50.0 505.0,55.0 506.0,66.0 510.0,68.0" fill="none" stroke="#2b1f1f" stroke-width="0.45" stroke-linejoin="round"/>
<polyline points="536.0,58.0 548.0,53.0 557.0,60.0 560.0,67.0 556.0,84.0" fill="none" stroke="#2b1f1f" stroke-width="0.45" stroke-linejoin="round"/>
<polyline points="541.0,60.0 539.0,66.0 545.0,70.0 548.0,83.0" fill="none" stroke="#2b1f1f" stroke-width="0.45" stroke-linejoin="round"/>
<polyline points="530.0,82.0 548.0,83.0 556.0,84.0 563.0,77.0 572.0,69.0 583.0,66.0 590.0,75.0" fill="none" stroke="#2b1f1f" stroke-width="0.45" stroke-linejoin="round"/>
<polyline points="560.0,67.0 572.0,48.0 570.0,36.0 575.0,28.0 576.0,19.0" fill="none" stroke="#2b1f1f" stroke-width="0.45" stroke-linejoin="round"/>
<polyline points="548.0,53.0 545.0,36.0 537.0,34.0" fill="none" stroke="#2b1f1f" stroke-width="0.45" stroke-linejoin="round"/>
<polyline points="556.0,84.0 564.0,96.0 556.0,112.0 562.0,122.0" fill="none" stroke="#2b1f1f" stroke-width="0.45" stroke-linejoin="round"/>
<polyline points="572.0,69.0 574.0,60.0 590.0,60.0 596.0,60.0" fill="none" stroke="#2b1f1f" stroke-width="0.45" stroke-linejoin="round"/>
<polyline points="419.0,75.0 441.0,91.0 455.0,98.0 463.0,104.0 464.0,99.0 472.0,108.0 474.0,104.0 475.0,91.0 484.0,88.0" fill="none" stroke="#2b1f1f" stroke-width="0.45" stroke-linejoin="round"/>
<polyline points="475.0,91.0 475.0,103.0 486.0,102.0 489.0,94.0 496.0,88.0" fill="none" stroke="#2b1f1f" stroke-width="0.45" stroke-linejoin="round"/>
<polyline points="449.0,104.0 455.0,98.0" fill="none" stroke="#2b1f1f" stroke-width="0.45" stroke-linejoin="round"/>
<polyline points="449.0,104.0 463.0,104.0" fill="none" stroke="#2b1f1f" stroke-width="0.45" stroke-linejoin="round"/>
<polyline points="472.0,108.0 477.0,112.0 491.0,113.0 493.0,126.0 492.0,134.0" fill="none" stroke="#2b1f1f" stroke-width="0.45" stroke-linejoin="round"/>
<polyline points="477.0,104.0 478.0,112.0" fill="none" stroke="#2b1f1f" stroke-width="0.45" stroke-linejoin="round"/>
<polyline points="491.0,113.0 504.0,115.0 513.0,111.0 520.0,106.0 523.0,104.0" fill="none" stroke="#2b1f1f" stroke-width="0.45" stroke-linejoin="round"/>
<polyline points="490.0,112.0 503.0,110.0 512.0,112.0 520.0,112.0" fill="none" stroke="#2b1f1f" stroke-width="0.45" stroke-linejoin="round"/>
<polyline points="503.0,110.0 506.0,104.0 516.0,100.0 514.0,94.0 509.0,88.0 506.0,88.0" fill="none" stroke="#2b1f1f" stroke-width="0.45" stroke-linejoin="round"/>
<polyline points="403.4,114.0 409.0,118.0 413.0,123.0 420.0,122.0 422.0,128.0 427.0,128.0 435.0,130.0 444.0,126.0" fill="none" stroke="#2b1f1f" stroke-width="0.45" stroke-linejoin="round"/>
<polyline points="427.0,128.0 426.0,118.0 432.0,112.0 441.0,112.0 442.0,120.0 446.0,123.0 454.0,118.0 455.0,116.0" fill="none" stroke="#2b1f1f" stroke-width="0.45" stroke-linejoin="round"/>
<polyline points="441.0,112.0 442.0,120.0" fill="none" stroke="#2b1f1f" stroke-width="0.45" stroke-linejoin="round"/>
<polyline points="403.0,138.0 412.0,136.0 421.0,135.0 430.0,136.0 433.0,141.0" fill="none" stroke="#2b1f1f" stroke-width="0.45" stroke-linejoin="round"/>
<polyline points="444.0,148.0 450.0,149.0 459.0,147.0 464.0,140.0 472.0,138.0" fill="none" stroke="#2b1f1f" stroke-width="0.45" stroke-linejoin="round"/>
<polyline points="449.0,166.0 461.0,162.0 468.0,160.0 471.0,153.0" fill="none" stroke="#2b1f1f" stroke-width="0.45" stroke-linejoin="round"/>
<polyline points="480.0,137.0 481.0,144.0 483.0,148.0" fill="none" stroke="#2b1f1f" stroke-width="0.45" stroke-linejoin="round"/>
<polyline points="492.0,134.0 491.0,144.0 489.0,152.0" fill="none" stroke="#2b1f1f" stroke-width="0.45" stroke-linejoin="round"/>
<polyline points="475.0,156.0 483.0,158.0 484.2,160.4" fill="none" stroke="#2b1f1f" stroke-width="0.45" stroke-linejoin="round"/>
<polyline points="499.0,134.0 500.0,144.0 511.0,152.0" fill="none" stroke="#2b1f1f" stroke-width="0.45" stroke-linejoin="round"/>
<polyline points="494.0,174.0 496.0,160.0 492.0,156.0" fill="none" stroke="#2b1f1f" stroke-width="0.45" stroke-linejoin="round"/>
<polygon points="471.0,153.0 472.0,159.0 475.0,161.2 481.0,161.2 482.0,166.0 487.0,167.6 486.6,176.0 475.0,177.2 469.4,174.4 468.0,166.0 469.4,160.0" fill="#0d6db5" stroke="#8b0f24" stroke-width="1.3" stroke-linejoin="round"/>
<polygon points="483.0,148.0 486.0,146.6 489.0,151.6 492.6,153.6 495.0,159.4 492.0,158.0 489.4,156.8 488.2,164.0 486.2,167.6 484.2,160.4 485.2,155.2 483.2,152.0" fill="none" stroke="#e8283c" stroke-width="1.2" stroke-linejoin="round"/>
<circle cx="602.4" cy="76.6" r="4.3" fill="#9e1b32" stroke="#231f20" stroke-width="0.7"/>
<text x="612" y="78.8" font-size="6.5" fill="#231f20">North Central</text>
<circle cx="602.4" cy="90.0" r="4.3" fill="#f26b3c" stroke="#231f20" stroke-width="0.7"/>
<text x="612" y="92.2" font-size="6.5" fill="#231f20">North East</text>
<circle cx="602.4" cy="103.4" r="4.3" fill="#fbdd2b" stroke="#231f20" stroke-width="0.7"/>
<text x="612" y="105.60000000000001" font-size="6.5" fill="#231f20">North West</text>
<circle cx="602.4" cy="116.6" r="4.3" fill="#2e3180" stroke="#231f20" stroke-width="0.7"/>
<text x="612" y="118.8" font-size="6.5" fill="#231f20">South South</text>
<circle cx="602.4" cy="130.0" r="4.3" fill="#1b75bc" stroke="#231f20" stroke-width="0.7"/>
<text x="612" y="132.2" font-size="6.5" fill="#231f20">South East</text>
<circle cx="602.4" cy="143.2" r="4.3" fill="#128a43" stroke="#231f20" stroke-width="0.7"/>
<text x="612" y="145.39999999999998" font-size="6.5" fill="#231f20">South West</text>
<path d="M598.1999999999999 156.4h8.4M602.4 152.20000000000002v8.4" stroke="#e8283c" stroke-width="1.2" fill="none"/>
<text x="612" y="158.6" font-size="6.5" fill="#231f20">Abia State</text>
<path d="M598.1999999999999 167.8h8.4M602.4 163.60000000000002v8.4" stroke="#8b0f24" stroke-width="1.2" fill="none"/>
<text x="612" y="170.0" font-size="6.5" fill="#231f20">Rivers State</text>
<!-- charts.panel_c -->
<text x="374.0" y="195.6" font-size="10" font-weight="bold" fill="#231f20">c</text>
<line x1="412.4" y1="195.5" x2="412.4" y2="255" stroke="#77787b" stroke-width="0.7"/>
<line x1="409.2" y1="199.5" x2="412.4" y2="199.5" stroke="#77787b" stroke-width="0.6"/>
<text x="404.9" y="201.8" font-size="6.5" text-anchor="end" fill="#3a3a3c">400</text>
<line x1="409.2" y1="213.5" x2="412.4" y2="213.5" stroke="#77787b" stroke-width="0.6"/>
<text x="404.9" y="215.8" font-size="6.5" text-anchor="end" fill="#3a3a3c">300</text>
<line x1="409.2" y1="227.5" x2="412.4" y2="227.5" stroke="#77787b" stroke-width="0.6"/>
<text x="404.9" y="229.8" font-size="6.5" text-anchor="end" fill="#3a3a3c">200</text>
<line x1="409.2" y1="241.3" x2="412.4" y2="241.3" stroke="#77787b" stroke-width="0.6"/>
<text x="404.9" y="243.60000000000002" font-size="6.5" text-anchor="end" fill="#3a3a3c">100</text>
<line x1="409.2" y1="255" x2="412.4" y2="255" stroke="#77787b" stroke-width="0.6"/>
<text x="404.9" y="257.3" font-size="6.5" text-anchor="end" fill="#3a3a3c">0</text>
<line x1="412.4" y1="255" x2="679" y2="255" stroke="#77787b" stroke-width="0.7"/>
<line x1="424.6" y1="255" x2="424.6" y2="257.2" stroke="#77787b" stroke-width="0.5"/>
<text x="424.6" y="264.7" font-size="6.5" text-anchor="middle" fill="#231f20">1 Jun 2017</text>
<line x1="465.1" y1="255" x2="465.1" y2="257.2" stroke="#77787b" stroke-width="0.5"/>
<text x="465.1" y="264.7" font-size="6.5" text-anchor="middle" fill="#231f20">1 Jun 2018</text>
<line x1="505.6" y1="255" x2="505.6" y2="257.2" stroke="#77787b" stroke-width="0.5"/>
<text x="505.6" y="264.7" font-size="6.5" text-anchor="middle" fill="#231f20">1 Jun 2019</text>
<line x1="546" y1="255" x2="546" y2="257.2" stroke="#77787b" stroke-width="0.5"/>
<text x="546" y="264.7" font-size="6.5" text-anchor="middle" fill="#231f20">1 Jun 2020</text>
<line x1="586.5" y1="255" x2="586.5" y2="257.2" stroke="#77787b" stroke-width="0.5"/>
<text x="586.5" y="264.7" font-size="6.5" text-anchor="middle" fill="#231f20">1 Jun 2021</text>
<line x1="627" y1="255" x2="627" y2="257.2" stroke="#77787b" stroke-width="0.5"/>
<text x="627" y="264.7" font-size="6.5" text-anchor="middle" fill="#231f20">1 Jun 2022</text>
<line x1="667.5" y1="255" x2="667.5" y2="257.2" stroke="#77787b" stroke-width="0.5"/>
<text x="667.5" y="264.7" font-size="6.5" text-anchor="middle" fill="#231f20">1 Jun 2023</text>
<line x1="412.4" y1="269.6" x2="679" y2="269.6" stroke="#77787b" stroke-width="0.7"/>
<line x1="412.4" y1="269.6" x2="412.4" y2="330.3" stroke="#77787b" stroke-width="0.7"/>
<line x1="424.6" y1="267.4" x2="424.6" y2="269.6" stroke="#77787b" stroke-width="0.5"/>
<line x1="465.1" y1="267.4" x2="465.1" y2="269.6" stroke="#77787b" stroke-width="0.5"/>
<line x1="505.6" y1="267.4" x2="505.6" y2="269.6" stroke="#77787b" stroke-width="0.5"/>
<line x1="546" y1="267.4" x2="546" y2="269.6" stroke="#77787b" stroke-width="0.5"/>
<line x1="586.5" y1="267.4" x2="586.5" y2="269.6" stroke="#77787b" stroke-width="0.5"/>
<line x1="627" y1="267.4" x2="627" y2="269.6" stroke="#77787b" stroke-width="0.5"/>
<line x1="667.5" y1="267.4" x2="667.5" y2="269.6" stroke="#77787b" stroke-width="0.5"/>
<line x1="409.2" y1="269.6" x2="412.4" y2="269.6" stroke="#77787b" stroke-width="0.6"/>
<text x="404.9" y="271.90000000000003" font-size="6.5" text-anchor="end" fill="#3a3a3c">0</text>
<line x1="409.2" y1="285" x2="412.4" y2="285" stroke="#77787b" stroke-width="0.6"/>
<text x="404.9" y="287.3" font-size="6.5" text-anchor="end" fill="#3a3a3c">5</text>
<line x1="409.2" y1="300" x2="412.4" y2="300" stroke="#77787b" stroke-width="0.6"/>
<text x="404.9" y="302.3" font-size="6.5" text-anchor="end" fill="#3a3a3c">10</text>
<line x1="409.2" y1="315" x2="412.4" y2="315" stroke="#77787b" stroke-width="0.6"/>
<text x="404.9" y="317.3" font-size="6.5" text-anchor="end" fill="#3a3a3c">15</text>
<line x1="409.2" y1="330.3" x2="412.4" y2="330.3" stroke="#77787b" stroke-width="0.6"/>
<text x="404.9" y="332.6" font-size="6.5" text-anchor="end" fill="#3a3a3c">20</text>
<text x="379" y="224.7" font-size="6.5" text-anchor="middle" fill="#231f20" transform="rotate(-90 379 224.7)">Number</text>
<text x="387" y="224.7" font-size="6.5" text-anchor="middle" fill="#231f20" transform="rotate(-90 387 224.7)">of cases</text>
<text x="381.5" y="299.5" font-size="6.5" text-anchor="middle" fill="#231f20" transform="rotate(-90 381.5 299.5)">Number of</text>
<text x="389.5" y="299.5" font-size="6.5" text-anchor="middle" fill="#231f20" transform="rotate(-90 389.5 299.5)">sequences</text>
<rect x="418.30" y="201.40" width="13.90" height="5.00" fill="#9a1630"/>
<text x="436.7" y="206.3" font-size="6.5" fill="#231f20">North Central</text>
<rect x="418.30" y="211.60" width="13.90" height="5.00" fill="#f26a3d"/>
<text x="436.7" y="216.5" font-size="6.5" fill="#231f20">North East</text>
<rect x="498.00" y="201.40" width="13.90" height="5.00" fill="#fbd72b"/>
<text x="516.4" y="206.3" font-size="6.5" fill="#231f20">North West</text>
<rect x="498.00" y="211.60" width="13.90" height="5.00" fill="#35357f"/>
<text x="516.4" y="216.5" font-size="6.5" fill="#231f20">South South</text>
<rect x="573.40" y="201.40" width="13.90" height="5.00" fill="#1c75bc"/>
<text x="591.8" y="206.3" font-size="6.5" fill="#231f20">South East</text>
<rect x="573.40" y="211.60" width="13.90" height="5.00" fill="#1a9850"/>
<text x="591.8" y="216.5" font-size="6.5" fill="#231f20">South West</text>
<rect x="427.60" y="254.02" width="3.67" height="0.98" fill="#35357f"/>
<rect x="427.60" y="253.46" width="3.67" height="0.56" fill="#1a9850"/>
<rect x="434.35" y="253.04" width="3.67" height="1.96" fill="#35357f"/>
<rect x="434.35" y="252.34" width="3.67" height="0.70" fill="#1a9850"/>
<rect x="437.73" y="254.44" width="3.67" height="0.56" fill="#9a1630"/>
<rect x="437.73" y="253.60" width="3.67" height="0.84" fill="#f26a3d"/>
<rect x="437.73" y="244.92" width="3.67" height="8.68" fill="#35357f"/>
<rect x="437.73" y="242.96" width="3.67" height="1.96" fill="#1c75bc"/>
<rect x="437.73" y="239.88" width="3.67" height="3.08" fill="#1a9850"/>
<rect x="441.10" y="251.92" width="3.67" height="3.08" fill="#35357f"/>
<rect x="441.10" y="251.22" width="3.67" height="0.70" fill="#1c75bc"/>
<rect x="441.10" y="250.38" width="3.67" height="0.84" fill="#1a9850"/>
<rect x="444.48" y="253.18" width="3.67" height="1.82" fill="#35357f"/>
<rect x="444.48" y="252.90" width="3.67" height="0.28" fill="#1c75bc"/>
<rect x="444.48" y="252.62" width="3.67" height="0.28" fill="#1a9850"/>
<rect x="447.85" y="254.58" width="3.67" height="0.42" fill="#35357f"/>
<rect x="468.10" y="254.08" width="3.67" height="0.92" fill="#35357f"/>
<rect x="468.10" y="253.69" width="3.67" height="0.39" fill="#1c75bc"/>
<rect x="468.10" y="253.46" width="3.67" height="0.23" fill="#1a9850"/>
<rect x="471.48" y="253.66" width="3.67" height="1.34" fill="#35357f"/>
<rect x="471.48" y="253.10" width="3.67" height="0.56" fill="#1c75bc"/>
<rect x="471.48" y="252.76" width="3.67" height="0.34" fill="#1a9850"/>
<rect x="474.85" y="253.40" width="3.67" height="1.60" fill="#35357f"/>
<rect x="474.85" y="252.74" width="3.67" height="0.67" fill="#1c75bc"/>
<rect x="474.85" y="252.34" width="3.67" height="0.40" fill="#1a9850"/>
<rect x="478.23" y="253.40" width="3.67" height="1.60" fill="#35357f"/>
<rect x="478.23" y="252.74" width="3.67" height="0.67" fill="#1c75bc"/>
<rect x="478.23" y="252.34" width="3.67" height="0.40" fill="#1a9850"/>
<rect x="481.60" y="253.82" width="3.67" height="1.18" fill="#35357f"/>
<rect x="481.60" y="253.33" width="3.67" height="0.49" fill="#1c75bc"/>
<rect x="481.60" y="253.04" width="3.67" height="0.29" fill="#1a9850"/>
<rect x="484.98" y="254.65" width="3.67" height="0.35" fill="#35357f"/>
<rect x="484.98" y="254.30" width="3.67" height="0.35" fill="#1a9850"/>
<rect x="488.35" y="254.72" width="3.67" height="0.28" fill="#35357f"/>
<rect x="488.35" y="254.44" width="3.67" height="0.28" fill="#1a9850"/>
<rect x="491.73" y="254.65" width="3.67" height="0.35" fill="#35357f"/>
<rect x="491.73" y="254.30" width="3.67" height="0.35" fill="#1a9850"/>
<rect x="495.10" y="254.72" width="3.67" height="0.28" fill="#35357f"/>
<rect x="495.10" y="254.44" width="3.67" height="0.28" fill="#1a9850"/>
<rect x="498.48" y="254.79" width="3.67" height="0.21" fill="#35357f"/>
<rect x="498.48" y="254.58" width="3.67" height="0.21" fill="#1a9850"/>
<rect x="501.85" y="254.72" width="3.67" height="0.28" fill="#35357f"/>
<rect x="501.85" y="254.44" width="3.67" height="0.28" fill="#1a9850"/>
<rect x="505.23" y="254.72" width="3.67" height="0.28" fill="#35357f"/>
<rect x="505.23" y="254.44" width="3.67" height="0.28" fill="#1a9850"/>
<rect x="508.60" y="254.16" width="3.67" height="0.84" fill="#35357f"/>
<rect x="508.60" y="253.74" width="3.67" height="0.42" fill="#1c75bc"/>
<rect x="508.60" y="252.62" width="3.67" height="1.12" fill="#1a9850"/>
<rect x="511.98" y="254.72" width="3.67" height="0.28" fill="#35357f"/>
<rect x="511.98" y="254.51" width="3.67" height="0.21" fill="#1a9850"/>
<rect x="515.35" y="254.72" width="3.67" height="0.28" fill="#35357f"/>
<rect x="515.35" y="254.51" width="3.67" height="0.21" fill="#1a9850"/>
<rect x="518.73" y="254.72" width="3.67" height="0.28" fill="#35357f"/>
<rect x="518.73" y="254.51" width="3.67" height="0.21" fill="#1a9850"/>
<rect x="522.10" y="254.72" width="3.67" height="0.28" fill="#35357f"/>
<rect x="522.10" y="254.51" width="3.67" height="0.21" fill="#1a9850"/>
<rect x="525.48" y="254.72" width="3.67" height="0.28" fill="#35357f"/>
<rect x="525.48" y="254.51" width="3.67" height="0.21" fill="#1a9850"/>
<rect x="528.85" y="254.78" width="3.67" height="0.22" fill="#35357f"/>
<rect x="528.85" y="254.44" width="3.67" height="0.34" fill="#1a9850"/>
<rect x="532.23" y="254.66" width="3.67" height="0.34" fill="#35357f"/>
<rect x="532.23" y="254.16" width="3.67" height="0.50" fill="#1a9850"/>
<rect x="535.60" y="254.72" width="3.67" height="0.28" fill="#35357f"/>
<rect x="535.60" y="254.30" width="3.67" height="0.42" fill="#1a9850"/>
<rect x="538.98" y="254.79" width="3.67" height="0.21" fill="#35357f"/>
<rect x="538.98" y="254.65" width="3.67" height="0.14" fill="#1a9850"/>
<rect x="542.35" y="254.79" width="3.67" height="0.21" fill="#35357f"/>
<rect x="542.35" y="254.65" width="3.67" height="0.14" fill="#1a9850"/>
<rect x="545.73" y="254.79" width="3.67" height="0.21" fill="#35357f"/>
<rect x="545.73" y="254.65" width="3.67" height="0.14" fill="#1a9850"/>
<rect x="549.10" y="254.58" width="3.67" height="0.42" fill="#35357f"/>
<rect x="549.10" y="254.30" width="3.67" height="0.28" fill="#1a9850"/>
<rect x="552.48" y="254.72" width="3.67" height="0.28" fill="#35357f"/>
<rect x="555.85" y="254.58" width="3.67" height="0.42" fill="#35357f"/>
<rect x="555.85" y="254.16" width="3.67" height="0.42" fill="#1c75bc"/>
<rect x="559.23" y="254.58" width="3.67" height="0.42" fill="#35357f"/>
<rect x="559.23" y="254.16" width="3.67" height="0.42" fill="#1c75bc"/>
<rect x="562.60" y="254.72" width="3.67" height="0.28" fill="#35357f"/>
<rect x="565.98" y="254.72" width="3.67" height="0.28" fill="#35357f"/>
<rect x="565.98" y="254.58" width="3.67" height="0.14" fill="#1a9850"/>
<rect x="569.35" y="253.46" width="3.67" height="1.54" fill="#35357f"/>
<rect x="569.35" y="253.18" width="3.67" height="0.28" fill="#1c75bc"/>
<rect x="572.73" y="253.32" width="3.67" height="1.68" fill="#35357f"/>
<rect x="572.73" y="253.04" width="3.67" height="0.28" fill="#1c75bc"/>
<rect x="576.10" y="253.60" width="3.67" height="1.40" fill="#35357f"/>
<rect x="576.10" y="253.32" width="3.67" height="0.28" fill="#1c75bc"/>
<rect x="579.48" y="254.58" width="3.67" height="0.42" fill="#35357f"/>
<rect x="582.85" y="253.18" width="3.67" height="1.82" fill="#35357f"/>
<rect x="582.85" y="252.62" width="3.67" height="0.56" fill="#1c75bc"/>
<rect x="586.23" y="252.20" width="3.67" height="2.80" fill="#35357f"/>
<rect x="586.23" y="251.50" width="3.67" height="0.70" fill="#1c75bc"/>
<rect x="589.60" y="252.48" width="3.67" height="2.52" fill="#35357f"/>
<rect x="589.60" y="251.92" width="3.67" height="0.56" fill="#1c75bc"/>
<rect x="589.60" y="251.64" width="3.67" height="0.28" fill="#1a9850"/>
<rect x="592.98" y="254.58" width="3.67" height="0.42" fill="#35357f"/>
<rect x="596.35" y="254.72" width="3.67" height="0.28" fill="#35357f"/>
<rect x="599.73" y="254.30" width="3.67" height="0.70" fill="#fbd72b"/>
<rect x="599.73" y="254.16" width="3.67" height="0.14" fill="#35357f"/>
<rect x="603.10" y="254.72" width="3.67" height="0.28" fill="#35357f"/>
<rect x="603.10" y="254.58" width="3.67" height="0.14" fill="#1a9850"/>
<rect x="606.48" y="254.58" width="3.67" height="0.42" fill="#fbd72b"/>
<rect x="606.48" y="254.30" width="3.67" height="0.28" fill="#35357f"/>
<rect x="606.48" y="254.02" width="3.67" height="0.28" fill="#1a9850"/>
<rect x="609.85" y="254.44" width="3.67" height="0.56" fill="#35357f"/>
<rect x="609.85" y="254.02" width="3.67" height="0.42" fill="#1a9850"/>
<rect x="613.23" y="254.72" width="3.67" height="0.28" fill="#9a1630"/>
<rect x="613.23" y="254.02" width="3.67" height="0.70" fill="#35357f"/>
<rect x="613.23" y="253.60" width="3.67" height="0.42" fill="#1a9850"/>
<rect x="616.60" y="254.58" width="3.67" height="0.42" fill="#9a1630"/>
<rect x="616.60" y="254.16" width="3.67" height="0.42" fill="#f26a3d"/>
<rect x="616.60" y="253.32" width="3.67" height="0.84" fill="#35357f"/>
<rect x="616.60" y="253.04" width="3.67" height="0.28" fill="#1c75bc"/>
<rect x="616.60" y="252.62" width="3.67" height="0.42" fill="#1a9850"/>
<rect x="619.98" y="254.58" width="3.67" height="0.42" fill="#9a1630"/>
<rect x="619.98" y="254.16" width="3.67" height="0.42" fill="#f26a3d"/>
<rect x="619.98" y="253.88" width="3.67" height="0.28" fill="#fbd72b"/>
<rect x="619.98" y="252.76" width="3.67" height="1.12" fill="#35357f"/>
<rect x="619.98" y="252.48" width="3.67" height="0.28" fill="#1c75bc"/>
<rect x="619.98" y="252.20" width="3.67" height="0.28" fill="#1a9850"/>
<rect x="623.35" y="253.60" width="3.67" height="1.40" fill="#9a1630"/>
<rect x="623.35" y="252.20" width="3.67" height="1.40" fill="#f26a3d"/>
<rect x="623.35" y="249.12" width="3.67" height="3.08" fill="#35357f"/>
<rect x="623.35" y="248.42" width="3.67" height="0.70" fill="#1c75bc"/>
<rect x="623.35" y="246.60" width="3.67" height="1.82" fill="#1a9850"/>
<rect x="626.73" y="251.36" width="3.67" height="3.64" fill="#9a1630"/>
<rect x="626.73" y="248.00" width="3.67" height="3.36" fill="#f26a3d"/>
<rect x="626.73" y="246.32" width="3.67" height="1.68" fill="#fbd72b"/>
<rect x="626.73" y="241.70" width="3.67" height="4.62" fill="#35357f"/>
<rect x="626.73" y="240.02" width="3.67" height="1.68" fill="#1c75bc"/>
<rect x="626.73" y="236.80" width="3.67" height="3.22" fill="#1a9850"/>
<rect x="630.10" y="249.68" width="3.67" height="5.32" fill="#9a1630"/>
<rect x="630.10" y="245.48" width="3.67" height="4.20" fill="#f26a3d"/>
<rect x="630.10" y="243.52" width="3.67" height="1.96" fill="#fbd72b"/>
<rect x="630.10" y="238.20" width="3.67" height="5.32" fill="#35357f"/>
<rect x="630.10" y="234.28" width="3.67" height="3.92" fill="#1c75bc"/>
<rect x="630.10" y="228.68" width="3.67" height="5.60" fill="#1a9850"/>
<rect x="633.48" y="248.56" width="3.67" height="6.44" fill="#9a1630"/>
<rect x="633.48" y="244.36" width="3.67" height="4.20" fill="#f26a3d"/>
<rect x="633.48" y="241.56" width="3.67" height="2.80" fill="#fbd72b"/>
<rect x="633.48" y="234.84" width="3.67" height="6.72" fill="#35357f"/>
<rect x="633.48" y="227.14" width="3.67" height="7.70" fill="#1c75bc"/>
<rect x="633.48" y="207.54" width="3.67" height="19.60" fill="#1a9850"/>
<rect x="636.85" y="247.72" width="3.67" height="7.28" fill="#9a1630"/>
<rect x="636.85" y="243.80" width="3.67" height="3.92" fill="#f26a3d"/>
<rect x="636.85" y="239.04" width="3.67" height="4.76" fill="#fbd72b"/>
<rect x="636.85" y="231.34" width="3.67" height="7.70" fill="#35357f"/>
<rect x="636.85" y="221.26" width="3.67" height="10.08" fill="#1c75bc"/>
<rect x="636.85" y="198.86" width="3.67" height="22.40" fill="#1a9850"/>
<rect x="640.23" y="247.44" width="3.67" height="7.56" fill="#9a1630"/>
<rect x="640.23" y="243.80" width="3.67" height="3.64" fill="#f26a3d"/>
<rect x="640.23" y="239.32" width="3.67" height="4.48" fill="#fbd72b"/>
<rect x="640.23" y="231.48" width="3.67" height="7.84" fill="#35357f"/>
<rect x="640.23" y="220.98" width="3.67" height="10.50" fill="#1c75bc"/>
<rect x="640.23" y="197.46" width="3.67" height="23.52" fill="#1a9850"/>
<rect x="643.60" y="247.16" width="3.67" height="7.84" fill="#9a1630"/>
<rect x="643.60" y="244.36" width="3.67" height="2.80" fill="#f26a3d"/>
<rect x="643.60" y="241.84" width="3.67" height="2.52" fill="#fbd72b"/>
<rect x="643.60" y="234.56" width="3.67" height="7.28" fill="#35357f"/>
<rect x="643.60" y="224.76" width="3.67" height="9.80" fill="#1c75bc"/>
<rect x="643.60" y="211.88" width="3.67" height="12.88" fill="#1a9850"/>
<rect x="646.98" y="246.60" width="3.67" height="8.40" fill="#9a1630"/>
<rect x="646.98" y="245.20" width="3.67" height="1.40" fill="#f26a3d"/>
<rect x="646.98" y="243.24" width="3.67" height="1.96" fill="#fbd72b"/>
<rect x="646.98" y="237.64" width="3.67" height="5.60" fill="#35357f"/>
<rect x="646.98" y="231.76" width="3.67" height="5.88" fill="#1c75bc"/>
<rect x="646.98" y="222.80" width="3.67" height="8.96" fill="#1a9850"/>
<rect x="609.10" y="269.85" width="1.40" height="3.04" fill="#fbd72b"/>
<rect x="609.10" y="272.89" width="1.40" height="15.20" fill="#35357f"/>
<rect x="609.10" y="288.09" width="1.40" height="6.08" fill="#1a9850"/>
<rect x="625.90" y="269.85" width="1.40" height="2.13" fill="#f26a3d"/>
<rect x="625.90" y="271.98" width="1.40" height="4.56" fill="#fbd72b"/>
<rect x="625.90" y="276.54" width="1.40" height="11.55" fill="#35357f"/>
<rect x="625.90" y="288.09" width="1.40" height="21.28" fill="#1a9850"/>
<rect x="636.00" y="269.85" width="1.40" height="30.40" fill="#35357f"/>
<rect x="636.00" y="300.25" width="1.40" height="30.40" fill="#1a9850"/>
<rect x="639.40" y="269.85" width="1.40" height="10.03" fill="#fbd72b"/>
<rect x="639.40" y="279.88" width="1.40" height="33.44" fill="#35357f"/>
<rect x="639.40" y="313.32" width="1.40" height="17.33" fill="#1a9850"/>
<rect x="642.80" y="269.85" width="1.40" height="4.26" fill="#fbd72b"/>
<rect x="642.80" y="274.11" width="1.40" height="2.43" fill="#35357f"/>
<rect x="646.10" y="269.85" width="1.40" height="4.26" fill="#35357f"/>
<rect x="646.10" y="274.11" width="1.40" height="1.82" fill="#1a9850"/>
<rect x="649.50" y="269.85" width="1.40" height="3.04" fill="#f26a3d"/>
<rect x="649.50" y="272.89" width="1.40" height="6.38" fill="#1a9850"/>
<rect x="652.80" y="269.85" width="1.40" height="9.12" fill="#35357f"/>
<rect x="656.30" y="269.85" width="1.40" height="15.81" fill="#35357f"/>
<rect x="656.30" y="285.66" width="1.40" height="5.17" fill="#1a9850"/>
<rect x="659.60" y="269.85" width="1.40" height="3.04" fill="#1a9850"/>
<rect x="663.10" y="269.85" width="1.40" height="3.04" fill="#35357f"/>
<!-- charts.panel_e -->
<text x="505.0" y="353.6" font-size="10" font-weight="bold" fill="#231f20">e</text>
<line x1="532.5" y1="353.8" x2="532.5" y2="465.3" stroke="#8a8c8e" stroke-width="0.8"/>
<line x1="532.5" y1="465.3" x2="685" y2="465.3" stroke="#8a8c8e" stroke-width="0.8"/>
<line x1="528.8" y1="465.3" x2="532.3" y2="465.3" stroke="#8a8c8e" stroke-width="0.6"/>
<text x="524.8" y="467.6" font-size="6.5" text-anchor="end" fill="#3a3a3c">0</text>
<line x1="528.8" y1="445.56" x2="532.3" y2="445.56" stroke="#8a8c8e" stroke-width="0.6"/>
<text x="524.8" y="447.86" font-size="6.5" text-anchor="end" fill="#3a3a3c">10</text>
<line x1="528.8" y1="425.82" x2="532.3" y2="425.82" stroke="#8a8c8e" stroke-width="0.6"/>
<text x="524.8" y="428.12" font-size="6.5" text-anchor="end" fill="#3a3a3c">20</text>
<line x1="528.8" y1="406.08000000000004" x2="532.3" y2="406.08000000000004" stroke="#8a8c8e" stroke-width="0.6"/>
<text x="524.8" y="408.38000000000005" font-size="6.5" text-anchor="end" fill="#3a3a3c">30</text>
<line x1="528.8" y1="386.34000000000003" x2="532.3" y2="386.34000000000003" stroke="#8a8c8e" stroke-width="0.6"/>
<text x="524.8" y="388.64000000000004" font-size="6.5" text-anchor="end" fill="#3a3a3c">40</text>
<line x1="528.8" y1="366.6" x2="532.3" y2="366.6" stroke="#8a8c8e" stroke-width="0.6"/>
<text x="524.8" y="368.90000000000003" font-size="6.5" text-anchor="end" fill="#3a3a3c">50</text>
<rect x="539.00" y="461.35" width="18.50" height="3.95" fill="#3a8bd0" stroke="#1d2b3a" stroke-width="0.6"/>
<line x1="548.25" y1="465.3" x2="548.25" y2="467.5" stroke="#8a8c8e" stroke-width="0.5"/>
<text x="548.25" y="478" font-size="6.5" text-anchor="middle" fill="#231f20">A</text>
<rect x="562.70" y="417.92" width="18.80" height="47.38" fill="#3a8bd0" stroke="#1d2b3a" stroke-width="0.6"/>
<line x1="572.1" y1="465.3" x2="572.1" y2="467.5" stroke="#8a8c8e" stroke-width="0.5"/>
<text x="572.1" y="478" font-size="6.5" text-anchor="middle" fill="#231f20">A.2</text>
<rect x="586.00" y="463.33" width="19.00" height="1.97" fill="#3a8bd0" stroke="#1d2b3a" stroke-width="0.6"/>
<line x1="595.5" y1="465.3" x2="595.5" y2="467.5" stroke="#8a8c8e" stroke-width="0.5"/>
<text x="595.5" y="478" font-size="6.5" text-anchor="middle" fill="#231f20">A.2.1</text>
<rect x="609.70" y="429.77" width="18.80" height="35.53" fill="#3a8bd0" stroke="#1d2b3a" stroke-width="0.6"/>
<line x1="619.1" y1="465.3" x2="619.1" y2="467.5" stroke="#8a8c8e" stroke-width="0.5"/>
<text x="619.1" y="478" font-size="6.5" text-anchor="middle" fill="#231f20">A.2.2</text>
<rect x="633.40" y="358.70" width="18.60" height="106.60" fill="#3a8bd0" stroke="#1d2b3a" stroke-width="0.6"/>
<line x1="642.7" y1="465.3" x2="642.7" y2="467.5" stroke="#8a8c8e" stroke-width="0.5"/>
<text x="642.7" y="478" font-size="6.5" text-anchor="middle" fill="#231f20">A.2.3</text>
<rect x="657.00" y="449.51" width="19.00" height="15.79" fill="#3a8bd0" stroke="#1d2b3a" stroke-width="0.6"/>
<line x1="666.5" y1="465.3" x2="666.5" y2="467.5" stroke="#8a8c8e" stroke-width="0.5"/>
<text x="666.5" y="478" font-size="6.5" text-anchor="middle" fill="#231f20">A.3</text>
<text x="511.2" y="410" font-size="6.5" text-anchor="middle" fill="#231f20" transform="rotate(-90 511.2 410)">Count</text>
<!-- charts.panel_f -->
<text x="505.2" y="497.6" font-size="10" font-weight="bold" fill="#231f20">f</text>
<text x="611.3" y="498.2" font-size="6.5" text-anchor="middle" fill="#231f20">hMPX1</text>
<line x1="537.8" y1="498.2" x2="537.8" y2="582.7" stroke="#8a8c8e" stroke-width="0.8"/>
<line x1="537.8" y1="582.7" x2="685" y2="582.7" stroke="#8a8c8e" stroke-width="0.8"/>
<line x1="534.3" y1="582.7" x2="537.8" y2="582.7" stroke="#8a8c8e" stroke-width="0.6"/>
<text x="529.8" y="585.0" font-size="6.5" text-anchor="end" fill="#3a3a3c">0</text>
<line x1="534.3" y1="565.5" x2="537.8" y2="565.5" stroke="#8a8c8e" stroke-width="0.6"/>
<text x="529.8" y="567.8" font-size="6.5" text-anchor="end" fill="#3a3a3c">100</text>
<line x1="534.3" y1="548.3000000000001" x2="537.8" y2="548.3000000000001" stroke="#8a8c8e" stroke-width="0.6"/>
<text x="529.8" y="550.6" font-size="6.5" text-anchor="end" fill="#3a3a3c">200</text>
<line x1="534.3" y1="531.1" x2="537.8" y2="531.1" stroke="#8a8c8e" stroke-width="0.6"/>
<text x="529.8" y="533.4" font-size="6.5" text-anchor="end" fill="#3a3a3c">300</text>
<line x1="534.3" y1="513.9000000000001" x2="537.8" y2="513.9000000000001" stroke="#8a8c8e" stroke-width="0.6"/>
<text x="529.8" y="516.2" font-size="6.5" text-anchor="end" fill="#3a3a3c">400</text>
<rect x="543.70" y="504.96" width="9.40" height="77.74" fill="#b1b5bb" stroke="#3a3a3c" stroke-width="0.6"/>
<rect x="543.70" y="512.18" width="9.40" height="70.52" fill="#b5182b" stroke="#3a1a1c" stroke-width="0.6"/>
<line x1="548.4" y1="582.7" x2="548.4" y2="584.9000000000001" stroke="#8a8c8e" stroke-width="0.5"/>
<text x="550.6" y="596.7" font-size="6.5" text-anchor="middle" fill="#231f20" transform="rotate(-90 550.6 596.7)">C&gt;T</text>
<rect x="555.30" y="501.86" width="9.40" height="80.84" fill="#b1b5bb" stroke="#3a3a3c" stroke-width="0.6"/>
<rect x="555.30" y="512.18" width="9.40" height="70.52" fill="#b5182b" stroke="#3a1a1c" stroke-width="0.6"/>
<line x1="560" y1="582.7" x2="560" y2="584.9000000000001" stroke="#8a8c8e" stroke-width="0.5"/>
<text x="562.2" y="596.7" font-size="6.5" text-anchor="middle" fill="#231f20" transform="rotate(-90 562.2 596.7)">G&gt;A</text>
<rect x="566.30" y="579.60" width="9.40" height="3.10" fill="#b1b5bb" stroke="#3a3a3c" stroke-width="0.6"/>
<line x1="571" y1="582.7" x2="571" y2="584.9000000000001" stroke="#8a8c8e" stroke-width="0.5"/>
<text x="573.2" y="596.7" font-size="6.5" text-anchor="middle" fill="#231f20" transform="rotate(-90 573.2 596.7)">A&gt;C</text>
<rect x="577.60" y="579.26" width="9.40" height="3.44" fill="#b1b5bb" stroke="#3a3a3c" stroke-width="0.6"/>
<line x1="582.3" y1="582.7" x2="582.3" y2="584.9000000000001" stroke="#8a8c8e" stroke-width="0.5"/>
<text x="584.5" y="596.7" font-size="6.5" text-anchor="middle" fill="#231f20" transform="rotate(-90 584.5 596.7)">A&gt;G</text>
<rect x="589.10" y="580.81" width="9.40" height="1.89" fill="#b1b5bb" stroke="#3a3a3c" stroke-width="0.6"/>
<line x1="593.8" y1="582.7" x2="593.8" y2="584.9000000000001" stroke="#8a8c8e" stroke-width="0.5"/>
<text x="596.0" y="596.7" font-size="6.5" text-anchor="middle" fill="#231f20" transform="rotate(-90 596.0 596.7)">A&gt;T</text>
<rect x="600.30" y="578.40" width="9.40" height="4.30" fill="#b1b5bb" stroke="#3a3a3c" stroke-width="0.6"/>
<line x1="605" y1="582.7" x2="605" y2="584.9000000000001" stroke="#8a8c8e" stroke-width="0.5"/>
<text x="607.2" y="596.7" font-size="6.5" text-anchor="middle" fill="#231f20" transform="rotate(-90 607.2 596.7)">C&gt;A</text>
<rect x="611.60" y="582.36" width="9.40" height="0.34" fill="#b1b5bb" stroke="#3a3a3c" stroke-width="0.6"/>
<line x1="616.3" y1="582.7" x2="616.3" y2="584.9000000000001" stroke="#8a8c8e" stroke-width="0.5"/>
<text x="618.5" y="596.7" font-size="6.5" text-anchor="middle" fill="#231f20" transform="rotate(-90 618.5 596.7)">C&gt;G</text>
<rect x="623.10" y="581.50" width="9.40" height="1.20" fill="#b1b5bb" stroke="#3a3a3c" stroke-width="0.6"/>
<line x1="627.8" y1="582.7" x2="627.8" y2="584.9000000000001" stroke="#8a8c8e" stroke-width="0.5"/>
<text x="630.0" y="596.7" font-size="6.5" text-anchor="middle" fill="#231f20" transform="rotate(-90 630.0 596.7)">G&gt;C</text>
<rect x="634.30" y="579.60" width="9.40" height="3.10" fill="#b1b5bb" stroke="#3a3a3c" stroke-width="0.6"/>
<line x1="639" y1="582.7" x2="639" y2="584.9000000000001" stroke="#8a8c8e" stroke-width="0.5"/>
<text x="641.2" y="596.7" font-size="6.5" text-anchor="middle" fill="#231f20" transform="rotate(-90 641.2 596.7)">G&gt;T</text>
<rect x="645.50" y="578.40" width="9.40" height="4.30" fill="#b1b5bb" stroke="#3a3a3c" stroke-width="0.6"/>
<line x1="650.2" y1="582.7" x2="650.2" y2="584.9000000000001" stroke="#8a8c8e" stroke-width="0.5"/>
<text x="652.4000000000001" y="596.7" font-size="6.5" text-anchor="middle" fill="#231f20" transform="rotate(-90 652.4000000000001 596.7)">T&gt;A</text>
<rect x="657.00" y="579.60" width="9.40" height="3.10" fill="#b1b5bb" stroke="#3a3a3c" stroke-width="0.6"/>
<line x1="661.7" y1="582.7" x2="661.7" y2="584.9000000000001" stroke="#8a8c8e" stroke-width="0.5"/>
<text x="663.9000000000001" y="596.7" font-size="6.5" text-anchor="middle" fill="#231f20" transform="rotate(-90 663.9000000000001 596.7)">T&gt;C</text>
<rect x="668.20" y="580.29" width="9.40" height="2.41" fill="#b1b5bb" stroke="#3a3a3c" stroke-width="0.6"/>
<line x1="672.9" y1="582.7" x2="672.9" y2="584.9000000000001" stroke="#8a8c8e" stroke-width="0.5"/>
<text x="675.1" y="596.7" font-size="6.5" text-anchor="middle" fill="#231f20" transform="rotate(-90 675.1 596.7)">T&gt;G</text>
<text x="511.2" y="540" font-size="6.5" text-anchor="middle" fill="#231f20" transform="rotate(-90 511.2 540)">Count</text>
<circle cx="605.7" cy="513.9" r="4.3" fill="#b5182b" stroke="#231f20" stroke-width="0.6"/>
<circle cx="605.7" cy="524.3" r="4.3" fill="#b1b5bb" stroke="#231f20" stroke-width="0.6"/>
<text x="615" y="516.1" font-size="6.5" fill="#231f20">APOBEC</text>
<text x="615" y="526.5" font-size="6.5" fill="#231f20">Non-APOBEC</text>
<text x="611.3" y="615.8" font-size="6.5" text-anchor="middle" fill="#231f20">Cameroon lineage</text>
<line x1="537.8" y1="617.3" x2="537.8" y2="702" stroke="#8a8c8e" stroke-width="0.8"/>
<line x1="537.8" y1="702" x2="685" y2="702" stroke="#8a8c8e" stroke-width="0.8"/>
<line x1="534.3" y1="702.0" x2="537.8" y2="702.0" stroke="#8a8c8e" stroke-width="0.6"/>
<text x="529.8" y="704.3" font-size="6.5" text-anchor="end" fill="#3a3a3c">0</text>
<line x1="534.3" y1="679.5" x2="537.8" y2="679.5" stroke="#8a8c8e" stroke-width="0.6"/>
<text x="529.8" y="681.8" font-size="6.5" text-anchor="end" fill="#3a3a3c">10</text>
<line x1="534.3" y1="657.0" x2="537.8" y2="657.0" stroke="#8a8c8e" stroke-width="0.6"/>
<text x="529.8" y="659.3" font-size="6.5" text-anchor="end" fill="#3a3a3c">20</text>
<line x1="534.3" y1="634.5" x2="537.8" y2="634.5" stroke="#8a8c8e" stroke-width="0.6"/>
<text x="529.8" y="636.8" font-size="6.5" text-anchor="end" fill="#3a3a3c">30</text>
<rect x="543.70" y="621.00" width="9.40" height="81.00" fill="#b1b5bb" stroke="#3a3a3c" stroke-width="0.6"/>
<rect x="543.70" y="693.00" width="9.40" height="9.00" fill="#b5182b" stroke="#3a1a1c" stroke-width="0.6"/>
<line x1="548.4" y1="702" x2="548.4" y2="704.2" stroke="#8a8c8e" stroke-width="0.5"/>
<text x="550.6" y="714.8" font-size="6.5" text-anchor="middle" fill="#231f20" transform="rotate(-90 550.6 714.8)">C&gt;T</text>
<rect x="555.30" y="627.75" width="9.40" height="74.25" fill="#b1b5bb" stroke="#3a3a3c" stroke-width="0.6"/>
<rect x="555.30" y="695.25" width="9.40" height="6.75" fill="#b5182b" stroke="#3a1a1c" stroke-width="0.6"/>
<line x1="560" y1="702" x2="560" y2="704.2" stroke="#8a8c8e" stroke-width="0.5"/>
<text x="562.2" y="714.8" font-size="6.5" text-anchor="middle" fill="#231f20" transform="rotate(-90 562.2 714.8)">G&gt;A</text>
<rect x="566.30" y="693.00" width="9.40" height="9.00" fill="#b1b5bb" stroke="#3a3a3c" stroke-width="0.6"/>
<line x1="571" y1="702" x2="571" y2="704.2" stroke="#8a8c8e" stroke-width="0.5"/>
<text x="573.2" y="714.8" font-size="6.5" text-anchor="middle" fill="#231f20" transform="rotate(-90 573.2 714.8)">A&gt;C</text>
<rect x="577.60" y="679.50" width="9.40" height="22.50" fill="#b1b5bb" stroke="#3a3a3c" stroke-width="0.6"/>
<line x1="582.3" y1="702" x2="582.3" y2="704.2" stroke="#8a8c8e" stroke-width="0.5"/>
<text x="584.5" y="714.8" font-size="6.5" text-anchor="middle" fill="#231f20" transform="rotate(-90 584.5 714.8)">A&gt;G</text>
<rect x="589.10" y="686.25" width="9.40" height="15.75" fill="#b1b5bb" stroke="#3a3a3c" stroke-width="0.6"/>
<line x1="593.8" y1="702" x2="593.8" y2="704.2" stroke="#8a8c8e" stroke-width="0.5"/>
<text x="596.0" y="714.8" font-size="6.5" text-anchor="middle" fill="#231f20" transform="rotate(-90 596.0 714.8)">A&gt;T</text>
<rect x="600.30" y="679.50" width="9.40" height="22.50" fill="#b1b5bb" stroke="#3a3a3c" stroke-width="0.6"/>
<line x1="605" y1="702" x2="605" y2="704.2" stroke="#8a8c8e" stroke-width="0.5"/>
<text x="607.2" y="714.8" font-size="6.5" text-anchor="middle" fill="#231f20" transform="rotate(-90 607.2 714.8)">C&gt;A</text>
<rect x="611.60" y="699.75" width="9.40" height="2.25" fill="#b1b5bb" stroke="#3a3a3c" stroke-width="0.6"/>
<line x1="616.3" y1="702" x2="616.3" y2="704.2" stroke="#8a8c8e" stroke-width="0.5"/>
<text x="618.5" y="714.8" font-size="6.5" text-anchor="middle" fill="#231f20" transform="rotate(-90 618.5 714.8)">C&gt;G</text>
<rect x="623.10" y="697.50" width="9.40" height="4.50" fill="#b1b5bb" stroke="#3a3a3c" stroke-width="0.6"/>
<line x1="627.8" y1="702" x2="627.8" y2="704.2" stroke="#8a8c8e" stroke-width="0.5"/>
<text x="630.0" y="714.8" font-size="6.5" text-anchor="middle" fill="#231f20" transform="rotate(-90 630.0 714.8)">G&gt;C</text>
<rect x="634.30" y="677.25" width="9.40" height="24.75" fill="#b1b5bb" stroke="#3a3a3c" stroke-width="0.6"/>
<line x1="639" y1="702" x2="639" y2="704.2" stroke="#8a8c8e" stroke-width="0.5"/>
<text x="641.2" y="714.8" font-size="6.5" text-anchor="middle" fill="#231f20" transform="rotate(-90 641.2 714.8)">G&gt;T</text>
<rect x="645.50" y="695.25" width="9.40" height="6.75" fill="#b1b5bb" stroke="#3a3a3c" stroke-width="0.6"/>
<line x1="650.2" y1="702" x2="650.2" y2="704.2" stroke="#8a8c8e" stroke-width="0.5"/>
<text x="652.4000000000001" y="714.8" font-size="6.5" text-anchor="middle" fill="#231f20" transform="rotate(-90 652.4000000000001 714.8)">T&gt;A</text>
<rect x="657.00" y="693.00" width="9.40" height="9.00" fill="#b1b5bb" stroke="#3a3a3c" stroke-width="0.6"/>
<line x1="661.7" y1="702" x2="661.7" y2="704.2" stroke="#8a8c8e" stroke-width="0.5"/>
<text x="663.9000000000001" y="714.8" font-size="6.5" text-anchor="middle" fill="#231f20" transform="rotate(-90 663.9000000000001 714.8)">T&gt;C</text>
<rect x="668.20" y="695.25" width="9.40" height="6.75" fill="#b1b5bb" stroke="#3a3a3c" stroke-width="0.6"/>
<line x1="672.9" y1="702" x2="672.9" y2="704.2" stroke="#8a8c8e" stroke-width="0.5"/>
<text x="675.1" y="714.8" font-size="6.5" text-anchor="middle" fill="#231f20" transform="rotate(-90 675.1 714.8)">T&gt;G</text>
<text x="515.7" y="659.7" font-size="6.5" text-anchor="middle" fill="#231f20" transform="rotate(-90 515.7 659.7)">Count</text>
<text x="611.3" y="737" font-size="6.5" text-anchor="middle" fill="#231f20">1971, Zx</text>
<rect x="537.50" y="740.50" width="146.90" height="84.80" fill="none" stroke="#808285" stroke-width="0.5"/>
<line x1="534.3" y1="825.3" x2="537.8" y2="825.3" stroke="#8a8c8e" stroke-width="0.6"/>
<text x="529.8" y="827.5999999999999" font-size="6.5" text-anchor="end" fill="#3a3a3c">0</text>
<line x1="534.3" y1="800.0" x2="537.8" y2="800.0" stroke="#8a8c8e" stroke-width="0.6"/>
<text x="529.8" y="802.3" font-size="6.5" text-anchor="end" fill="#3a3a3c">5</text>
<line x1="534.3" y1="774.6999999999999" x2="537.8" y2="774.6999999999999" stroke="#8a8c8e" stroke-width="0.6"/>
<text x="529.8" y="776.9999999999999" font-size="6.5" text-anchor="end" fill="#3a3a3c">10</text>
<line x1="534.3" y1="749.4" x2="537.8" y2="749.4" stroke="#8a8c8e" stroke-width="0.6"/>
<text x="529.8" y="751.6999999999999" font-size="6.5" text-anchor="end" fill="#3a3a3c">15</text>
<rect x="543.70" y="794.94" width="9.40" height="30.36" fill="#b1b5bb" stroke="#3a3a3c" stroke-width="0.6"/>
<line x1="548.4" y1="825.3" x2="548.4" y2="827.5" stroke="#8a8c8e" stroke-width="0.5"/>
<text x="550.6" y="838.3" font-size="6.5" text-anchor="middle" fill="#231f20" transform="rotate(-90 550.6 838.3)">C&gt;T</text>
<rect x="555.30" y="744.34" width="9.40" height="80.96" fill="#b1b5bb" stroke="#3a3a3c" stroke-width="0.6"/>
<rect x="555.30" y="805.06" width="9.40" height="20.24" fill="#b5182b" stroke="#3a1a1c" stroke-width="0.6"/>
<line x1="560" y1="825.3" x2="560" y2="827.5" stroke="#8a8c8e" stroke-width="0.5"/>
<text x="562.2" y="838.3" font-size="6.5" text-anchor="middle" fill="#231f20" transform="rotate(-90 562.2 838.3)">G&gt;A</text>
<line x1="566.3" y1="825.0" x2="575.7" y2="825.0" stroke="#b1b5bb" stroke-width="0.8"/>
<line x1="571" y1="825.3" x2="571" y2="827.5" stroke="#8a8c8e" stroke-width="0.5"/>
<text x="573.2" y="838.3" font-size="6.5" text-anchor="middle" fill="#231f20" transform="rotate(-90 573.2 838.3)">A&gt;C</text>
<rect x="577.60" y="810.12" width="9.40" height="15.18" fill="#b1b5bb" stroke="#3a3a3c" stroke-width="0.6"/>
<line x1="582.3" y1="825.3" x2="582.3" y2="827.5" stroke="#8a8c8e" stroke-width="0.5"/>
<text x="584.5" y="838.3" font-size="6.5" text-anchor="middle" fill="#231f20" transform="rotate(-90 584.5 838.3)">A&gt;G</text>
<line x1="589.0999999999999" y1="825.0" x2="598.5" y2="825.0" stroke="#b1b5bb" stroke-width="0.8"/>
<line x1="593.8" y1="825.3" x2="593.8" y2="827.5" stroke="#8a8c8e" stroke-width="0.5"/>
<text x="596.0" y="838.3" font-size="6.5" text-anchor="middle" fill="#231f20" transform="rotate(-90 596.0 838.3)">A&gt;T</text>
<rect x="600.30" y="800.00" width="9.40" height="25.30" fill="#b1b5bb" stroke="#3a3a3c" stroke-width="0.6"/>
<line x1="605" y1="825.3" x2="605" y2="827.5" stroke="#8a8c8e" stroke-width="0.5"/>
<text x="607.2" y="838.3" font-size="6.5" text-anchor="middle" fill="#231f20" transform="rotate(-90 607.2 838.3)">C&gt;A</text>
<line x1="611.5999999999999" y1="825.0" x2="621.0" y2="825.0" stroke="#b1b5bb" stroke-width="0.8"/>
<line x1="616.3" y1="825.3" x2="616.3" y2="827.5" stroke="#8a8c8e" stroke-width="0.5"/>
<text x="618.5" y="838.3" font-size="6.5" text-anchor="middle" fill="#231f20" transform="rotate(-90 618.5 838.3)">C&gt;G</text>
<line x1="623.0999999999999" y1="825.0" x2="632.5" y2="825.0" stroke="#b1b5bb" stroke-width="0.8"/>
<line x1="627.8" y1="825.3" x2="627.8" y2="827.5" stroke="#8a8c8e" stroke-width="0.5"/>
<text x="630.0" y="838.3" font-size="6.5" text-anchor="middle" fill="#231f20" transform="rotate(-90 630.0 838.3)">G&gt;C</text>
<rect x="634.30" y="810.12" width="9.40" height="15.18" fill="#b1b5bb" stroke="#3a3a3c" stroke-width="0.6"/>
<line x1="639" y1="825.3" x2="639" y2="827.5" stroke="#8a8c8e" stroke-width="0.5"/>
<text x="641.2" y="838.3" font-size="6.5" text-anchor="middle" fill="#231f20" transform="rotate(-90 641.2 838.3)">G&gt;T</text>
<line x1="645.5" y1="825.0" x2="654.9000000000001" y2="825.0" stroke="#b1b5bb" stroke-width="0.8"/>
<line x1="650.2" y1="825.3" x2="650.2" y2="827.5" stroke="#8a8c8e" stroke-width="0.5"/>
<text x="652.4000000000001" y="838.3" font-size="6.5" text-anchor="middle" fill="#231f20" transform="rotate(-90 652.4000000000001 838.3)">T&gt;A</text>
<rect x="657.00" y="805.06" width="9.40" height="20.24" fill="#b1b5bb" stroke="#3a3a3c" stroke-width="0.6"/>
<line x1="661.7" y1="825.3" x2="661.7" y2="827.5" stroke="#8a8c8e" stroke-width="0.5"/>
<text x="663.9000000000001" y="838.3" font-size="6.5" text-anchor="middle" fill="#231f20" transform="rotate(-90 663.9000000000001 838.3)">T&gt;C</text>
<line x1="668.1999999999999" y1="825.0" x2="677.6" y2="825.0" stroke="#b1b5bb" stroke-width="0.8"/>
<line x1="672.9" y1="825.3" x2="672.9" y2="827.5" stroke="#8a8c8e" stroke-width="0.5"/>
<text x="675.1" y="838.3" font-size="6.5" text-anchor="middle" fill="#231f20" transform="rotate(-90 675.1 838.3)">T&gt;G</text>
<text x="515.7" y="783" font-size="6.5" text-anchor="middle" fill="#231f20" transform="rotate(-90 515.7 783)">Count</text>
<!-- tree.panel_d -->
<rect x="151.70" y="386.70" width="333.30" height="447.00" fill="#d5dff2"/>
<path d="M8.0 366.1V400.3M8.0 366.8H17.5M17.5 361.7V372.6M17.5 362.4H132.8M132.8 359.5V365.3M132.8 360.2H193.0M132.8 364.6H184.0M17.5 371.9H22.6M22.6 366.8V377.0M22.6 367.5H97.0M22.6 376.3H78.0M78.0 371.2V380.7M78.0 371.9H122.6M122.6 369.7V374.7M122.6 370.4H150.0M122.6 374.0H135.0M78.0 380.0H153.0M8.0 399.6H22.6M22.6 385.1V413.5M22.6 385.8H56.2M22.6 412.8H118.9M118.9 388.4V458.0M118.9 389.1H136.0M118.9 457.3H158.7M158.7 394.3V567.7M158.7 395.0H199.6M199.6 393.0H269.0M158.7 402.9H178.0M176.0 399.3V413.7M176.0 400.0H188.0M176.0 408.6H180.0M176.0 411.0H183.0M158.7 410.6H175.0M158.7 427.7H173.6M173.6 420.3V440.3M173.6 421.0H193.0M173.6 424.5H203.0M176.5 423.8V432.7M176.5 430.2H219.5M173.6 439.6H204.0M204.0 442.0H214.0M158.7 448.8H224.0M224.0 443.9V453.2M224.0 444.6H264.4M221.0 442.5H238.0M224.0 452.5H234.4M234.4 448.3V458.2M234.4 457.5H263.6M263.6 451.8V462.7M263.6 452.5H279.0M263.6 462.0H313.6M313.6 456.8V466.7M313.6 457.5H379.4M379.4 454.5V459.7M379.4 455.2H439.7M379.4 459.0H408.0M313.6 466.0H323.6M323.6 461.7V470.1M323.6 462.4H399.0M323.6 469.4H358.8M358.8 464.8V472.7M358.8 465.5H388.0M362.0 467.4H379.0M158.7 484.3H224.0M224.0 475.6V498.7M224.0 476.3H264.0M224.0 478.6H249.0M224.0 481.0H244.0M224.0 483.6H238.0M226.0 485.7H279.0M224.0 488.0H249.0M226.0 490.5H238.0M224.0 493.0H233.0M233.0 495.0H274.0M224.0 498.0H238.8M238.8 492.3V502.0M238.8 501.3H259.0M259.0 498.9V504.7M259.0 499.6H289.0M259.0 504.0H266.0M259.0 501.3H443.0M158.7 515.4H167.9M167.9 506.7V526.7M167.9 507.4H186.0M186.0 504.8V520.7M186.0 505.5H214.0M186.0 508.5H203.0M169.5 512.0H184.0M184.0 508.3V524.7M184.0 514.4H193.0M186.0 516.4H213.0M186.0 519.9H203.0M167.9 526.0H182.0M189.0 525.3V536.7M189.0 531.5H196.0M194.0 528.8V537.2M194.0 529.5H223.0M194.0 532.3H218.0M194.0 536.5H219.0M158.7 567.0H163.6M163.6 542.0V591.7M163.6 542.7H190.0M189.7 541.7H203.0M163.6 591.0H238.6M238.6 546.3V689.5M238.6 552.6H329.3M238.6 562.0H243.0M243.0 558.8V567.2M243.0 559.5H252.0M243.0 566.5H298.9M238.6 593.5H308.8M329.3 550.2V556.5M329.3 550.9H352.0M329.3 555.8H350.0M344.0 553.3V558.7M354.0 553.3H364.0M298.9 561.3V570.7M298.9 562.0H331.0M298.9 570.0H308.7M308.7 563.3V574.7M308.7 564.0H321.0M308.7 567.0H404.0M312.0 569.8H383.0M312.0 572.0H360.0M308.7 574.0H331.0M308.8 583.2V603.7M308.8 583.9H349.6M349.6 577.3V591.3M349.6 578.0H366.0M349.6 581.4H362.0M349.6 584.9H389.8M349.6 587.0H360.0M349.6 590.6H361.0M308.8 603.0H339.0M339.0 593.6V619.3M339.0 594.3H394.0M339.0 601.0H348.0M348.0 596.6V609.7M348.0 597.3H369.0M348.0 599.8H409.2M348.0 603.0H374.0M352.0 606.7H398.8M352.0 609.2H378.0M339.0 616.0H359.0M359.0 610.3V621.7M359.0 611.7H384.0M362.0 614.6H389.0M362.0 618.6H410.9M359.0 621.0H384.0M238.6 642.7H248.6M248.6 631.1V654.0M248.6 631.8H272.2M272.2 627.8V635.9M272.2 628.5H334.2M272.2 635.2H319.3M248.6 653.3H328.8M334.2 623.8V631.7M334.2 624.5H372.0M334.2 626.5H360.0M372.0 627.3H393.0M334.2 631.0H352.0M319.3 630.8V639.7M319.3 631.5H340.0M319.3 639.0H330.0M330.0 633.3V646.7M330.0 634.2H340.0M330.0 637.2H366.0M330.0 640.0H345.0M330.0 642.0H350.0M330.0 644.2H389.3M328.8 644.0V667.7M328.8 648.4H369.0M334.0 651.0H348.0M334.0 655.0H358.0M334.0 645.3V657.7M328.8 661.0H336.0M336.0 658.3V675.7M336.0 659.6H364.0M336.0 665.0H343.0M339.0 667.0H383.8M339.0 669.5H364.0M339.0 672.5H357.0M336.0 675.0H351.0M238.6 688.8H314.4M314.4 679.9V696.2M314.4 680.6H329.0M314.4 695.5H329.3M329.3 683.1V708.7M329.3 683.8H409.7M334.2 686.0H390.0M334.2 688.0H378.0M334.2 690.5H383.0M334.2 693.0H373.0M334.2 695.0H349.0M329.3 708.0H334.2M334.2 684.8V752.1M334.2 705.0H343.4M343.4 699.3V788.0M343.4 706.7H353.0M343.4 709.4H403.7M343.4 713.6H363.0M346.0 716.9H378.0M346.0 720.6H363.0M343.4 723.6H353.0M343.4 729.0H378.0M343.4 734.7H393.8M343.4 736.5H356.0M343.4 738.5H356.0M343.4 740.5H356.0M343.4 742.5H356.0M343.4 745.9H373.0M334.2 751.4H343.4M343.4 749.0H365.0M346.0 752.5H383.0M346.0 756.0H365.0M350.0 760.3H388.0M343.4 769.5H358.8M358.8 765.1V773.2M358.8 765.8H380.0M358.8 772.5H374.0M374.0 769.3V776.7M374.0 770.0H392.0M374.0 776.0H386.0M343.4 787.3H348.4M348.4 781.2V793.7M348.4 781.9H379.4M379.4 780.0H402.0M348.4 793.0H368.2M368.2 786.1V800.5M368.2 786.8H383.0M368.2 790.0H378.0M368.2 799.8H388.6M388.6 794.8V804.4M388.6 795.5H405.0M388.6 803.7H400.0" fill="none" stroke="#231f20" stroke-width="1.35"/>
<path d="M19.7 361.1a1 1 0 1 0 2 0a1 1 0 1 0 -2 0zM135.0 358.9a1 1 0 1 0 2 0a1 1 0 1 0 -2 0zM9.6 398.3a1 1 0 1 0 2 0a1 1 0 1 0 -2 0zM25.5 411.5a1 1 0 1 0 2 0a1 1 0 1 0 -2 0zM27.4 411.5a1 1 0 1 0 2 0a1 1 0 1 0 -2 0zM29.4 411.5a1 1 0 1 0 2 0a1 1 0 1 0 -2 0zM120.7 456.0a1 1 0 1 0 2 0a1 1 0 1 0 -2 0zM122.7 456.0a1 1 0 1 0 2 0a1 1 0 1 0 -2 0zM124.6 456.0a1 1 0 1 0 2 0a1 1 0 1 0 -2 0zM126.6 456.0a1 1 0 1 0 2 0a1 1 0 1 0 -2 0zM128.5 456.0a1 1 0 1 0 2 0a1 1 0 1 0 -2 0zM159.9 393.7a1 1 0 1 0 2 0a1 1 0 1 0 -2 0zM161.8 393.7a1 1 0 1 0 2 0a1 1 0 1 0 -2 0zM163.8 393.7a1 1 0 1 0 2 0a1 1 0 1 0 -2 0zM159.9 401.6a1 1 0 1 0 2 0a1 1 0 1 0 -2 0zM161.8 401.6a1 1 0 1 0 2 0a1 1 0 1 0 -2 0zM159.9 409.3a1 1 0 1 0 2 0a1 1 0 1 0 -2 0zM161.8 409.3a1 1 0 1 0 2 0a1 1 0 1 0 -2 0zM159.9 426.4a1 1 0 1 0 2 0a1 1 0 1 0 -2 0zM161.8 426.4a1 1 0 1 0 2 0a1 1 0 1 0 -2 0zM174.8 419.7a1 1 0 1 0 2 0a1 1 0 1 0 -2 0zM174.8 423.2a1 1 0 1 0 2 0a1 1 0 1 0 -2 0zM176.7 423.2a1 1 0 1 0 2 0a1 1 0 1 0 -2 0zM178.7 423.2a1 1 0 1 0 2 0a1 1 0 1 0 -2 0zM177.7 428.9a1 1 0 1 0 2 0a1 1 0 1 0 -2 0zM179.6 428.9a1 1 0 1 0 2 0a1 1 0 1 0 -2 0zM174.8 438.3a1 1 0 1 0 2 0a1 1 0 1 0 -2 0zM159.9 447.5a1 1 0 1 0 2 0a1 1 0 1 0 -2 0zM161.8 447.5a1 1 0 1 0 2 0a1 1 0 1 0 -2 0zM163.8 447.5a1 1 0 1 0 2 0a1 1 0 1 0 -2 0zM165.7 447.5a1 1 0 1 0 2 0a1 1 0 1 0 -2 0zM167.7 447.5a1 1 0 1 0 2 0a1 1 0 1 0 -2 0zM225.2 443.3a1 1 0 1 0 2 0a1 1 0 1 0 -2 0zM222.2 441.2a1 1 0 1 0 2 0a1 1 0 1 0 -2 0zM224.1 441.2a1 1 0 1 0 2 0a1 1 0 1 0 -2 0zM225.2 451.2a1 1 0 1 0 2 0a1 1 0 1 0 -2 0zM264.8 451.2a1 1 0 1 0 2 0a1 1 0 1 0 -2 0zM266.8 451.2a1 1 0 1 0 2 0a1 1 0 1 0 -2 0zM264.8 460.7a1 1 0 1 0 2 0a1 1 0 1 0 -2 0zM266.8 460.7a1 1 0 1 0 2 0a1 1 0 1 0 -2 0zM268.7 460.7a1 1 0 1 0 2 0a1 1 0 1 0 -2 0zM270.6 460.7a1 1 0 1 0 2 0a1 1 0 1 0 -2 0zM272.6 460.7a1 1 0 1 0 2 0a1 1 0 1 0 -2 0zM274.5 460.7a1 1 0 1 0 2 0a1 1 0 1 0 -2 0zM276.5 460.7a1 1 0 1 0 2 0a1 1 0 1 0 -2 0zM278.4 460.7a1 1 0 1 0 2 0a1 1 0 1 0 -2 0zM314.8 456.2a1 1 0 1 0 2 0a1 1 0 1 0 -2 0zM316.8 456.2a1 1 0 1 0 2 0a1 1 0 1 0 -2 0zM318.7 456.2a1 1 0 1 0 2 0a1 1 0 1 0 -2 0zM320.6 456.2a1 1 0 1 0 2 0a1 1 0 1 0 -2 0zM322.6 456.2a1 1 0 1 0 2 0a1 1 0 1 0 -2 0zM380.6 453.9a1 1 0 1 0 2 0a1 1 0 1 0 -2 0zM382.5 453.9a1 1 0 1 0 2 0a1 1 0 1 0 -2 0zM384.5 453.9a1 1 0 1 0 2 0a1 1 0 1 0 -2 0zM386.4 453.9a1 1 0 1 0 2 0a1 1 0 1 0 -2 0zM380.6 457.7a1 1 0 1 0 2 0a1 1 0 1 0 -2 0zM382.5 457.7a1 1 0 1 0 2 0a1 1 0 1 0 -2 0zM384.5 457.7a1 1 0 1 0 2 0a1 1 0 1 0 -2 0zM386.4 457.7a1 1 0 1 0 2 0a1 1 0 1 0 -2 0zM324.8 461.1a1 1 0 1 0 2 0a1 1 0 1 0 -2 0zM326.8 461.1a1 1 0 1 0 2 0a1 1 0 1 0 -2 0zM328.7 461.1a1 1 0 1 0 2 0a1 1 0 1 0 -2 0zM330.6 461.1a1 1 0 1 0 2 0a1 1 0 1 0 -2 0zM332.6 461.1a1 1 0 1 0 2 0a1 1 0 1 0 -2 0zM334.5 461.1a1 1 0 1 0 2 0a1 1 0 1 0 -2 0zM336.5 461.1a1 1 0 1 0 2 0a1 1 0 1 0 -2 0zM338.4 461.1a1 1 0 1 0 2 0a1 1 0 1 0 -2 0zM324.8 468.1a1 1 0 1 0 2 0a1 1 0 1 0 -2 0zM326.8 468.1a1 1 0 1 0 2 0a1 1 0 1 0 -2 0zM328.7 468.1a1 1 0 1 0 2 0a1 1 0 1 0 -2 0zM330.6 468.1a1 1 0 1 0 2 0a1 1 0 1 0 -2 0zM332.6 468.1a1 1 0 1 0 2 0a1 1 0 1 0 -2 0zM360.0 464.2a1 1 0 1 0 2 0a1 1 0 1 0 -2 0zM361.9 464.2a1 1 0 1 0 2 0a1 1 0 1 0 -2 0zM363.9 464.2a1 1 0 1 0 2 0a1 1 0 1 0 -2 0zM159.9 483.0a1 1 0 1 0 2 0a1 1 0 1 0 -2 0zM161.8 483.0a1 1 0 1 0 2 0a1 1 0 1 0 -2 0zM163.8 483.0a1 1 0 1 0 2 0a1 1 0 1 0 -2 0zM165.7 483.0a1 1 0 1 0 2 0a1 1 0 1 0 -2 0zM167.7 483.0a1 1 0 1 0 2 0a1 1 0 1 0 -2 0zM169.6 483.0a1 1 0 1 0 2 0a1 1 0 1 0 -2 0zM225.2 475.0a1 1 0 1 0 2 0a1 1 0 1 0 -2 0zM227.1 475.0a1 1 0 1 0 2 0a1 1 0 1 0 -2 0zM229.1 475.0a1 1 0 1 0 2 0a1 1 0 1 0 -2 0zM231.0 475.0a1 1 0 1 0 2 0a1 1 0 1 0 -2 0zM233.0 475.0a1 1 0 1 0 2 0a1 1 0 1 0 -2 0zM225.2 477.3a1 1 0 1 0 2 0a1 1 0 1 0 -2 0zM227.1 477.3a1 1 0 1 0 2 0a1 1 0 1 0 -2 0zM229.1 477.3a1 1 0 1 0 2 0a1 1 0 1 0 -2 0zM225.2 479.7a1 1 0 1 0 2 0a1 1 0 1 0 -2 0zM227.1 479.7a1 1 0 1 0 2 0a1 1 0 1 0 -2 0zM225.2 482.3a1 1 0 1 0 2 0a1 1 0 1 0 -2 0zM227.2 484.4a1 1 0 1 0 2 0a1 1 0 1 0 -2 0zM229.1 484.4a1 1 0 1 0 2 0a1 1 0 1 0 -2 0zM225.2 486.7a1 1 0 1 0 2 0a1 1 0 1 0 -2 0zM227.1 486.7a1 1 0 1 0 2 0a1 1 0 1 0 -2 0zM229.1 486.7a1 1 0 1 0 2 0a1 1 0 1 0 -2 0zM227.2 489.2a1 1 0 1 0 2 0a1 1 0 1 0 -2 0zM229.1 489.2a1 1 0 1 0 2 0a1 1 0 1 0 -2 0zM225.2 491.7a1 1 0 1 0 2 0a1 1 0 1 0 -2 0zM238.1 493.7a1 1 0 1 0 2 0a1 1 0 1 0 -2 0zM225.2 496.7a1 1 0 1 0 2 0a1 1 0 1 0 -2 0zM227.1 496.7a1 1 0 1 0 2 0a1 1 0 1 0 -2 0zM240.0 500.0a1 1 0 1 0 2 0a1 1 0 1 0 -2 0zM260.2 498.3a1 1 0 1 0 2 0a1 1 0 1 0 -2 0zM262.1 498.3a1 1 0 1 0 2 0a1 1 0 1 0 -2 0zM291.4 500.0a1 1 0 1 0 2 0a1 1 0 1 0 -2 0zM293.3 500.0a1 1 0 1 0 2 0a1 1 0 1 0 -2 0zM295.3 500.0a1 1 0 1 0 2 0a1 1 0 1 0 -2 0zM297.2 500.0a1 1 0 1 0 2 0a1 1 0 1 0 -2 0zM299.2 500.0a1 1 0 1 0 2 0a1 1 0 1 0 -2 0zM301.1 500.0a1 1 0 1 0 2 0a1 1 0 1 0 -2 0zM303.1 500.0a1 1 0 1 0 2 0a1 1 0 1 0 -2 0zM305.0 500.0a1 1 0 1 0 2 0a1 1 0 1 0 -2 0zM307.0 500.0a1 1 0 1 0 2 0a1 1 0 1 0 -2 0zM308.9 500.0a1 1 0 1 0 2 0a1 1 0 1 0 -2 0zM310.9 500.0a1 1 0 1 0 2 0a1 1 0 1 0 -2 0zM312.8 500.0a1 1 0 1 0 2 0a1 1 0 1 0 -2 0zM314.8 500.0a1 1 0 1 0 2 0a1 1 0 1 0 -2 0zM316.7 500.0a1 1 0 1 0 2 0a1 1 0 1 0 -2 0zM318.7 500.0a1 1 0 1 0 2 0a1 1 0 1 0 -2 0zM320.6 500.0a1 1 0 1 0 2 0a1 1 0 1 0 -2 0zM322.6 500.0a1 1 0 1 0 2 0a1 1 0 1 0 -2 0zM324.5 500.0a1 1 0 1 0 2 0a1 1 0 1 0 -2 0zM326.5 500.0a1 1 0 1 0 2 0a1 1 0 1 0 -2 0zM159.9 514.1a1 1 0 1 0 2 0a1 1 0 1 0 -2 0zM161.8 514.1a1 1 0 1 0 2 0a1 1 0 1 0 -2 0zM169.1 506.1a1 1 0 1 0 2 0a1 1 0 1 0 -2 0zM171.0 506.1a1 1 0 1 0 2 0a1 1 0 1 0 -2 0zM187.2 504.2a1 1 0 1 0 2 0a1 1 0 1 0 -2 0zM187.2 507.2a1 1 0 1 0 2 0a1 1 0 1 0 -2 0zM189.1 507.2a1 1 0 1 0 2 0a1 1 0 1 0 -2 0zM170.7 510.7a1 1 0 1 0 2 0a1 1 0 1 0 -2 0zM185.2 513.1a1 1 0 1 0 2 0a1 1 0 1 0 -2 0zM187.2 515.1a1 1 0 1 0 2 0a1 1 0 1 0 -2 0zM187.2 518.6a1 1 0 1 0 2 0a1 1 0 1 0 -2 0zM189.1 518.6a1 1 0 1 0 2 0a1 1 0 1 0 -2 0zM169.1 524.7a1 1 0 1 0 2 0a1 1 0 1 0 -2 0zM171.0 524.7a1 1 0 1 0 2 0a1 1 0 1 0 -2 0zM195.2 528.2a1 1 0 1 0 2 0a1 1 0 1 0 -2 0zM208.8 528.2a1 1 0 1 0 2 0a1 1 0 1 0 -2 0zM210.8 528.2a1 1 0 1 0 2 0a1 1 0 1 0 -2 0zM212.7 528.2a1 1 0 1 0 2 0a1 1 0 1 0 -2 0zM195.2 531.0a1 1 0 1 0 2 0a1 1 0 1 0 -2 0zM197.1 531.0a1 1 0 1 0 2 0a1 1 0 1 0 -2 0zM195.2 535.2a1 1 0 1 0 2 0a1 1 0 1 0 -2 0zM197.1 535.2a1 1 0 1 0 2 0a1 1 0 1 0 -2 0zM159.9 565.7a1 1 0 1 0 2 0a1 1 0 1 0 -2 0zM161.8 565.7a1 1 0 1 0 2 0a1 1 0 1 0 -2 0zM164.8 541.4a1 1 0 1 0 2 0a1 1 0 1 0 -2 0zM166.7 541.4a1 1 0 1 0 2 0a1 1 0 1 0 -2 0zM168.7 541.4a1 1 0 1 0 2 0a1 1 0 1 0 -2 0zM190.9 540.4a1 1 0 1 0 2 0a1 1 0 1 0 -2 0zM192.8 540.4a1 1 0 1 0 2 0a1 1 0 1 0 -2 0zM164.8 589.7a1 1 0 1 0 2 0a1 1 0 1 0 -2 0zM166.7 589.7a1 1 0 1 0 2 0a1 1 0 1 0 -2 0zM168.7 589.7a1 1 0 1 0 2 0a1 1 0 1 0 -2 0zM170.6 589.7a1 1 0 1 0 2 0a1 1 0 1 0 -2 0zM172.6 589.7a1 1 0 1 0 2 0a1 1 0 1 0 -2 0zM174.5 589.7a1 1 0 1 0 2 0a1 1 0 1 0 -2 0zM239.8 551.3a1 1 0 1 0 2 0a1 1 0 1 0 -2 0zM241.7 551.3a1 1 0 1 0 2 0a1 1 0 1 0 -2 0zM243.7 551.3a1 1 0 1 0 2 0a1 1 0 1 0 -2 0zM245.6 551.3a1 1 0 1 0 2 0a1 1 0 1 0 -2 0zM247.6 551.3a1 1 0 1 0 2 0a1 1 0 1 0 -2 0zM249.5 551.3a1 1 0 1 0 2 0a1 1 0 1 0 -2 0zM251.5 551.3a1 1 0 1 0 2 0a1 1 0 1 0 -2 0zM253.4 551.3a1 1 0 1 0 2 0a1 1 0 1 0 -2 0zM255.4 551.3a1 1 0 1 0 2 0a1 1 0 1 0 -2 0zM257.3 551.3a1 1 0 1 0 2 0a1 1 0 1 0 -2 0zM259.3 551.3a1 1 0 1 0 2 0a1 1 0 1 0 -2 0zM261.2 551.3a1 1 0 1 0 2 0a1 1 0 1 0 -2 0zM244.2 565.2a1 1 0 1 0 2 0a1 1 0 1 0 -2 0zM246.1 565.2a1 1 0 1 0 2 0a1 1 0 1 0 -2 0zM248.1 565.2a1 1 0 1 0 2 0a1 1 0 1 0 -2 0zM250.0 565.2a1 1 0 1 0 2 0a1 1 0 1 0 -2 0zM252.0 565.2a1 1 0 1 0 2 0a1 1 0 1 0 -2 0zM253.9 565.2a1 1 0 1 0 2 0a1 1 0 1 0 -2 0zM239.8 592.2a1 1 0 1 0 2 0a1 1 0 1 0 -2 0zM241.7 592.2a1 1 0 1 0 2 0a1 1 0 1 0 -2 0zM243.7 592.2a1 1 0 1 0 2 0a1 1 0 1 0 -2 0zM245.6 592.2a1 1 0 1 0 2 0a1 1 0 1 0 -2 0zM247.6 592.2a1 1 0 1 0 2 0a1 1 0 1 0 -2 0zM249.5 592.2a1 1 0 1 0 2 0a1 1 0 1 0 -2 0zM251.5 592.2a1 1 0 1 0 2 0a1 1 0 1 0 -2 0zM253.4 592.2a1 1 0 1 0 2 0a1 1 0 1 0 -2 0zM330.5 549.6a1 1 0 1 0 2 0a1 1 0 1 0 -2 0zM332.4 549.6a1 1 0 1 0 2 0a1 1 0 1 0 -2 0zM330.5 554.5a1 1 0 1 0 2 0a1 1 0 1 0 -2 0zM332.4 554.5a1 1 0 1 0 2 0a1 1 0 1 0 -2 0zM300.1 560.7a1 1 0 1 0 2 0a1 1 0 1 0 -2 0zM302.0 560.7a1 1 0 1 0 2 0a1 1 0 1 0 -2 0zM304.0 560.7a1 1 0 1 0 2 0a1 1 0 1 0 -2 0zM305.9 560.7a1 1 0 1 0 2 0a1 1 0 1 0 -2 0zM307.9 560.7a1 1 0 1 0 2 0a1 1 0 1 0 -2 0zM300.1 568.7a1 1 0 1 0 2 0a1 1 0 1 0 -2 0zM302.0 568.7a1 1 0 1 0 2 0a1 1 0 1 0 -2 0zM309.9 562.7a1 1 0 1 0 2 0a1 1 0 1 0 -2 0zM313.2 568.5a1 1 0 1 0 2 0a1 1 0 1 0 -2 0zM315.1 568.5a1 1 0 1 0 2 0a1 1 0 1 0 -2 0zM313.2 570.7a1 1 0 1 0 2 0a1 1 0 1 0 -2 0zM315.1 570.7a1 1 0 1 0 2 0a1 1 0 1 0 -2 0zM317.1 570.7a1 1 0 1 0 2 0a1 1 0 1 0 -2 0zM309.9 572.7a1 1 0 1 0 2 0a1 1 0 1 0 -2 0zM311.8 572.7a1 1 0 1 0 2 0a1 1 0 1 0 -2 0zM313.8 572.7a1 1 0 1 0 2 0a1 1 0 1 0 -2 0zM315.7 572.7a1 1 0 1 0 2 0a1 1 0 1 0 -2 0zM310.0 582.6a1 1 0 1 0 2 0a1 1 0 1 0 -2 0zM311.9 582.6a1 1 0 1 0 2 0a1 1 0 1 0 -2 0zM313.9 582.6a1 1 0 1 0 2 0a1 1 0 1 0 -2 0zM315.8 582.6a1 1 0 1 0 2 0a1 1 0 1 0 -2 0zM317.8 582.6a1 1 0 1 0 2 0a1 1 0 1 0 -2 0zM319.7 582.6a1 1 0 1 0 2 0a1 1 0 1 0 -2 0zM321.7 582.6a1 1 0 1 0 2 0a1 1 0 1 0 -2 0zM350.8 576.7a1 1 0 1 0 2 0a1 1 0 1 0 -2 0zM352.8 576.7a1 1 0 1 0 2 0a1 1 0 1 0 -2 0zM350.8 580.1a1 1 0 1 0 2 0a1 1 0 1 0 -2 0zM352.8 580.1a1 1 0 1 0 2 0a1 1 0 1 0 -2 0zM350.8 583.6a1 1 0 1 0 2 0a1 1 0 1 0 -2 0zM350.8 585.7a1 1 0 1 0 2 0a1 1 0 1 0 -2 0zM352.8 585.7a1 1 0 1 0 2 0a1 1 0 1 0 -2 0zM350.8 589.3a1 1 0 1 0 2 0a1 1 0 1 0 -2 0zM352.8 589.3a1 1 0 1 0 2 0a1 1 0 1 0 -2 0zM310.0 601.7a1 1 0 1 0 2 0a1 1 0 1 0 -2 0zM311.9 601.7a1 1 0 1 0 2 0a1 1 0 1 0 -2 0zM313.9 601.7a1 1 0 1 0 2 0a1 1 0 1 0 -2 0zM315.8 601.7a1 1 0 1 0 2 0a1 1 0 1 0 -2 0zM317.8 601.7a1 1 0 1 0 2 0a1 1 0 1 0 -2 0zM319.7 601.7a1 1 0 1 0 2 0a1 1 0 1 0 -2 0zM340.2 593.0a1 1 0 1 0 2 0a1 1 0 1 0 -2 0zM342.1 593.0a1 1 0 1 0 2 0a1 1 0 1 0 -2 0zM344.1 593.0a1 1 0 1 0 2 0a1 1 0 1 0 -2 0zM346.0 593.0a1 1 0 1 0 2 0a1 1 0 1 0 -2 0zM340.2 599.7a1 1 0 1 0 2 0a1 1 0 1 0 -2 0zM342.1 599.7a1 1 0 1 0 2 0a1 1 0 1 0 -2 0zM349.2 596.0a1 1 0 1 0 2 0a1 1 0 1 0 -2 0zM351.1 596.0a1 1 0 1 0 2 0a1 1 0 1 0 -2 0zM349.2 598.5a1 1 0 1 0 2 0a1 1 0 1 0 -2 0zM349.2 601.7a1 1 0 1 0 2 0a1 1 0 1 0 -2 0zM351.1 601.7a1 1 0 1 0 2 0a1 1 0 1 0 -2 0zM353.1 601.7a1 1 0 1 0 2 0a1 1 0 1 0 -2 0zM353.2 605.4a1 1 0 1 0 2 0a1 1 0 1 0 -2 0zM355.1 605.4a1 1 0 1 0 2 0a1 1 0 1 0 -2 0zM364.9 605.4a1 1 0 1 0 2 0a1 1 0 1 0 -2 0zM366.8 605.4a1 1 0 1 0 2 0a1 1 0 1 0 -2 0zM368.8 605.4a1 1 0 1 0 2 0a1 1 0 1 0 -2 0zM353.2 607.9a1 1 0 1 0 2 0a1 1 0 1 0 -2 0zM340.2 614.7a1 1 0 1 0 2 0a1 1 0 1 0 -2 0zM342.1 614.7a1 1 0 1 0 2 0a1 1 0 1 0 -2 0zM344.1 614.7a1 1 0 1 0 2 0a1 1 0 1 0 -2 0zM360.2 610.4a1 1 0 1 0 2 0a1 1 0 1 0 -2 0zM362.1 610.4a1 1 0 1 0 2 0a1 1 0 1 0 -2 0zM364.1 610.4a1 1 0 1 0 2 0a1 1 0 1 0 -2 0zM363.2 613.3a1 1 0 1 0 2 0a1 1 0 1 0 -2 0zM363.2 617.3a1 1 0 1 0 2 0a1 1 0 1 0 -2 0zM365.1 617.3a1 1 0 1 0 2 0a1 1 0 1 0 -2 0zM367.1 617.3a1 1 0 1 0 2 0a1 1 0 1 0 -2 0zM360.2 619.7a1 1 0 1 0 2 0a1 1 0 1 0 -2 0zM362.1 619.7a1 1 0 1 0 2 0a1 1 0 1 0 -2 0zM239.8 641.4a1 1 0 1 0 2 0a1 1 0 1 0 -2 0zM249.8 630.5a1 1 0 1 0 2 0a1 1 0 1 0 -2 0zM273.4 627.2a1 1 0 1 0 2 0a1 1 0 1 0 -2 0zM275.3 627.2a1 1 0 1 0 2 0a1 1 0 1 0 -2 0zM277.3 627.2a1 1 0 1 0 2 0a1 1 0 1 0 -2 0zM279.2 627.2a1 1 0 1 0 2 0a1 1 0 1 0 -2 0zM281.2 627.2a1 1 0 1 0 2 0a1 1 0 1 0 -2 0zM283.1 627.2a1 1 0 1 0 2 0a1 1 0 1 0 -2 0zM273.4 633.9a1 1 0 1 0 2 0a1 1 0 1 0 -2 0zM275.3 633.9a1 1 0 1 0 2 0a1 1 0 1 0 -2 0zM277.3 633.9a1 1 0 1 0 2 0a1 1 0 1 0 -2 0zM279.2 633.9a1 1 0 1 0 2 0a1 1 0 1 0 -2 0zM281.2 633.9a1 1 0 1 0 2 0a1 1 0 1 0 -2 0zM283.1 633.9a1 1 0 1 0 2 0a1 1 0 1 0 -2 0zM285.1 633.9a1 1 0 1 0 2 0a1 1 0 1 0 -2 0zM287.0 633.9a1 1 0 1 0 2 0a1 1 0 1 0 -2 0zM249.8 652.0a1 1 0 1 0 2 0a1 1 0 1 0 -2 0zM251.7 652.0a1 1 0 1 0 2 0a1 1 0 1 0 -2 0zM253.7 652.0a1 1 0 1 0 2 0a1 1 0 1 0 -2 0zM255.6 652.0a1 1 0 1 0 2 0a1 1 0 1 0 -2 0zM257.6 652.0a1 1 0 1 0 2 0a1 1 0 1 0 -2 0zM259.5 652.0a1 1 0 1 0 2 0a1 1 0 1 0 -2 0zM335.4 623.2a1 1 0 1 0 2 0a1 1 0 1 0 -2 0zM337.3 623.2a1 1 0 1 0 2 0a1 1 0 1 0 -2 0zM339.3 623.2a1 1 0 1 0 2 0a1 1 0 1 0 -2 0zM341.2 623.2a1 1 0 1 0 2 0a1 1 0 1 0 -2 0zM335.4 625.2a1 1 0 1 0 2 0a1 1 0 1 0 -2 0zM337.3 625.2a1 1 0 1 0 2 0a1 1 0 1 0 -2 0zM339.3 625.2a1 1 0 1 0 2 0a1 1 0 1 0 -2 0zM335.4 629.7a1 1 0 1 0 2 0a1 1 0 1 0 -2 0zM337.3 629.7a1 1 0 1 0 2 0a1 1 0 1 0 -2 0zM320.5 630.2a1 1 0 1 0 2 0a1 1 0 1 0 -2 0zM322.4 630.2a1 1 0 1 0 2 0a1 1 0 1 0 -2 0zM324.4 630.2a1 1 0 1 0 2 0a1 1 0 1 0 -2 0zM331.2 632.9a1 1 0 1 0 2 0a1 1 0 1 0 -2 0zM333.1 632.9a1 1 0 1 0 2 0a1 1 0 1 0 -2 0zM335.1 632.9a1 1 0 1 0 2 0a1 1 0 1 0 -2 0zM337.0 632.9a1 1 0 1 0 2 0a1 1 0 1 0 -2 0zM331.2 635.9a1 1 0 1 0 2 0a1 1 0 1 0 -2 0zM333.1 635.9a1 1 0 1 0 2 0a1 1 0 1 0 -2 0zM335.1 635.9a1 1 0 1 0 2 0a1 1 0 1 0 -2 0zM337.0 635.9a1 1 0 1 0 2 0a1 1 0 1 0 -2 0zM339.0 635.9a1 1 0 1 0 2 0a1 1 0 1 0 -2 0zM331.2 638.7a1 1 0 1 0 2 0a1 1 0 1 0 -2 0zM333.1 638.7a1 1 0 1 0 2 0a1 1 0 1 0 -2 0zM335.1 638.7a1 1 0 1 0 2 0a1 1 0 1 0 -2 0zM337.0 638.7a1 1 0 1 0 2 0a1 1 0 1 0 -2 0zM331.2 640.7a1 1 0 1 0 2 0a1 1 0 1 0 -2 0zM333.1 640.7a1 1 0 1 0 2 0a1 1 0 1 0 -2 0zM335.1 640.7a1 1 0 1 0 2 0a1 1 0 1 0 -2 0zM337.0 640.7a1 1 0 1 0 2 0a1 1 0 1 0 -2 0zM339.0 640.7a1 1 0 1 0 2 0a1 1 0 1 0 -2 0zM331.2 642.9a1 1 0 1 0 2 0a1 1 0 1 0 -2 0zM333.1 642.9a1 1 0 1 0 2 0a1 1 0 1 0 -2 0zM335.1 642.9a1 1 0 1 0 2 0a1 1 0 1 0 -2 0zM330.0 647.1a1 1 0 1 0 2 0a1 1 0 1 0 -2 0zM335.2 649.7a1 1 0 1 0 2 0a1 1 0 1 0 -2 0zM330.0 659.7a1 1 0 1 0 2 0a1 1 0 1 0 -2 0zM337.2 658.3a1 1 0 1 0 2 0a1 1 0 1 0 -2 0zM339.1 658.3a1 1 0 1 0 2 0a1 1 0 1 0 -2 0zM337.2 663.7a1 1 0 1 0 2 0a1 1 0 1 0 -2 0zM340.2 665.7a1 1 0 1 0 2 0a1 1 0 1 0 -2 0zM359.7 665.7a1 1 0 1 0 2 0a1 1 0 1 0 -2 0zM361.6 665.7a1 1 0 1 0 2 0a1 1 0 1 0 -2 0zM340.2 668.2a1 1 0 1 0 2 0a1 1 0 1 0 -2 0zM340.2 671.2a1 1 0 1 0 2 0a1 1 0 1 0 -2 0zM342.1 671.2a1 1 0 1 0 2 0a1 1 0 1 0 -2 0zM337.2 673.7a1 1 0 1 0 2 0a1 1 0 1 0 -2 0zM339.1 673.7a1 1 0 1 0 2 0a1 1 0 1 0 -2 0zM239.8 687.5a1 1 0 1 0 2 0a1 1 0 1 0 -2 0zM241.7 687.5a1 1 0 1 0 2 0a1 1 0 1 0 -2 0zM243.7 687.5a1 1 0 1 0 2 0a1 1 0 1 0 -2 0zM245.6 687.5a1 1 0 1 0 2 0a1 1 0 1 0 -2 0zM247.6 687.5a1 1 0 1 0 2 0a1 1 0 1 0 -2 0zM249.5 687.5a1 1 0 1 0 2 0a1 1 0 1 0 -2 0zM251.5 687.5a1 1 0 1 0 2 0a1 1 0 1 0 -2 0zM253.4 687.5a1 1 0 1 0 2 0a1 1 0 1 0 -2 0zM255.4 687.5a1 1 0 1 0 2 0a1 1 0 1 0 -2 0zM257.3 687.5a1 1 0 1 0 2 0a1 1 0 1 0 -2 0zM259.3 687.5a1 1 0 1 0 2 0a1 1 0 1 0 -2 0zM261.2 687.5a1 1 0 1 0 2 0a1 1 0 1 0 -2 0zM263.2 687.5a1 1 0 1 0 2 0a1 1 0 1 0 -2 0zM265.1 687.5a1 1 0 1 0 2 0a1 1 0 1 0 -2 0zM315.6 679.3a1 1 0 1 0 2 0a1 1 0 1 0 -2 0zM315.6 694.2a1 1 0 1 0 2 0a1 1 0 1 0 -2 0zM332.0 682.5a1 1 0 1 0 2 0a1 1 0 1 0 -2 0zM333.9 682.5a1 1 0 1 0 2 0a1 1 0 1 0 -2 0zM335.9 682.5a1 1 0 1 0 2 0a1 1 0 1 0 -2 0zM337.8 682.5a1 1 0 1 0 2 0a1 1 0 1 0 -2 0zM339.8 682.5a1 1 0 1 0 2 0a1 1 0 1 0 -2 0zM341.7 682.5a1 1 0 1 0 2 0a1 1 0 1 0 -2 0zM343.7 682.5a1 1 0 1 0 2 0a1 1 0 1 0 -2 0zM345.6 682.5a1 1 0 1 0 2 0a1 1 0 1 0 -2 0zM335.4 684.7a1 1 0 1 0 2 0a1 1 0 1 0 -2 0zM337.3 684.7a1 1 0 1 0 2 0a1 1 0 1 0 -2 0zM339.3 684.7a1 1 0 1 0 2 0a1 1 0 1 0 -2 0zM341.2 684.7a1 1 0 1 0 2 0a1 1 0 1 0 -2 0zM343.2 684.7a1 1 0 1 0 2 0a1 1 0 1 0 -2 0zM345.1 684.7a1 1 0 1 0 2 0a1 1 0 1 0 -2 0zM347.1 684.7a1 1 0 1 0 2 0a1 1 0 1 0 -2 0zM349.0 684.7a1 1 0 1 0 2 0a1 1 0 1 0 -2 0zM335.4 686.7a1 1 0 1 0 2 0a1 1 0 1 0 -2 0zM337.3 686.7a1 1 0 1 0 2 0a1 1 0 1 0 -2 0zM339.3 686.7a1 1 0 1 0 2 0a1 1 0 1 0 -2 0zM341.2 686.7a1 1 0 1 0 2 0a1 1 0 1 0 -2 0zM343.2 686.7a1 1 0 1 0 2 0a1 1 0 1 0 -2 0zM345.1 686.7a1 1 0 1 0 2 0a1 1 0 1 0 -2 0zM347.1 686.7a1 1 0 1 0 2 0a1 1 0 1 0 -2 0zM335.4 689.2a1 1 0 1 0 2 0a1 1 0 1 0 -2 0zM337.3 689.2a1 1 0 1 0 2 0a1 1 0 1 0 -2 0zM339.3 689.2a1 1 0 1 0 2 0a1 1 0 1 0 -2 0zM341.2 689.2a1 1 0 1 0 2 0a1 1 0 1 0 -2 0zM343.2 689.2a1 1 0 1 0 2 0a1 1 0 1 0 -2 0zM345.1 689.2a1 1 0 1 0 2 0a1 1 0 1 0 -2 0zM347.1 689.2a1 1 0 1 0 2 0a1 1 0 1 0 -2 0zM335.4 691.7a1 1 0 1 0 2 0a1 1 0 1 0 -2 0zM337.3 691.7a1 1 0 1 0 2 0a1 1 0 1 0 -2 0zM339.3 691.7a1 1 0 1 0 2 0a1 1 0 1 0 -2 0zM341.2 691.7a1 1 0 1 0 2 0a1 1 0 1 0 -2 0zM343.2 691.7a1 1 0 1 0 2 0a1 1 0 1 0 -2 0zM345.1 691.7a1 1 0 1 0 2 0a1 1 0 1 0 -2 0zM335.4 703.7a1 1 0 1 0 2 0a1 1 0 1 0 -2 0zM337.3 703.7a1 1 0 1 0 2 0a1 1 0 1 0 -2 0zM339.3 703.7a1 1 0 1 0 2 0a1 1 0 1 0 -2 0zM344.6 705.4a1 1 0 1 0 2 0a1 1 0 1 0 -2 0zM346.5 705.4a1 1 0 1 0 2 0a1 1 0 1 0 -2 0zM344.6 708.1a1 1 0 1 0 2 0a1 1 0 1 0 -2 0zM346.5 708.1a1 1 0 1 0 2 0a1 1 0 1 0 -2 0zM348.5 708.1a1 1 0 1 0 2 0a1 1 0 1 0 -2 0zM366.0 708.1a1 1 0 1 0 2 0a1 1 0 1 0 -2 0zM368.0 708.1a1 1 0 1 0 2 0a1 1 0 1 0 -2 0zM369.9 708.1a1 1 0 1 0 2 0a1 1 0 1 0 -2 0zM344.6 712.3a1 1 0 1 0 2 0a1 1 0 1 0 -2 0zM346.5 712.3a1 1 0 1 0 2 0a1 1 0 1 0 -2 0zM348.5 712.3a1 1 0 1 0 2 0a1 1 0 1 0 -2 0zM347.2 715.6a1 1 0 1 0 2 0a1 1 0 1 0 -2 0zM349.1 715.6a1 1 0 1 0 2 0a1 1 0 1 0 -2 0zM351.1 715.6a1 1 0 1 0 2 0a1 1 0 1 0 -2 0zM353.0 715.6a1 1 0 1 0 2 0a1 1 0 1 0 -2 0zM355.0 715.6a1 1 0 1 0 2 0a1 1 0 1 0 -2 0zM347.2 719.3a1 1 0 1 0 2 0a1 1 0 1 0 -2 0zM349.1 719.3a1 1 0 1 0 2 0a1 1 0 1 0 -2 0zM344.6 727.7a1 1 0 1 0 2 0a1 1 0 1 0 -2 0zM346.5 727.7a1 1 0 1 0 2 0a1 1 0 1 0 -2 0zM348.5 727.7a1 1 0 1 0 2 0a1 1 0 1 0 -2 0zM360.2 727.7a1 1 0 1 0 2 0a1 1 0 1 0 -2 0zM362.1 727.7a1 1 0 1 0 2 0a1 1 0 1 0 -2 0zM344.6 733.4a1 1 0 1 0 2 0a1 1 0 1 0 -2 0zM346.5 733.4a1 1 0 1 0 2 0a1 1 0 1 0 -2 0zM348.5 733.4a1 1 0 1 0 2 0a1 1 0 1 0 -2 0zM350.4 733.4a1 1 0 1 0 2 0a1 1 0 1 0 -2 0zM352.4 733.4a1 1 0 1 0 2 0a1 1 0 1 0 -2 0zM354.3 733.4a1 1 0 1 0 2 0a1 1 0 1 0 -2 0zM344.6 735.2a1 1 0 1 0 2 0a1 1 0 1 0 -2 0zM346.5 735.2a1 1 0 1 0 2 0a1 1 0 1 0 -2 0zM348.5 735.2a1 1 0 1 0 2 0a1 1 0 1 0 -2 0zM350.4 735.2a1 1 0 1 0 2 0a1 1 0 1 0 -2 0zM344.6 737.2a1 1 0 1 0 2 0a1 1 0 1 0 -2 0zM346.5 737.2a1 1 0 1 0 2 0a1 1 0 1 0 -2 0zM348.5 737.2a1 1 0 1 0 2 0a1 1 0 1 0 -2 0zM350.4 737.2a1 1 0 1 0 2 0a1 1 0 1 0 -2 0zM344.6 739.2a1 1 0 1 0 2 0a1 1 0 1 0 -2 0zM346.5 739.2a1 1 0 1 0 2 0a1 1 0 1 0 -2 0zM348.5 739.2a1 1 0 1 0 2 0a1 1 0 1 0 -2 0zM350.4 739.2a1 1 0 1 0 2 0a1 1 0 1 0 -2 0zM344.6 741.2a1 1 0 1 0 2 0a1 1 0 1 0 -2 0zM346.5 741.2a1 1 0 1 0 2 0a1 1 0 1 0 -2 0zM348.5 741.2a1 1 0 1 0 2 0a1 1 0 1 0 -2 0zM350.4 741.2a1 1 0 1 0 2 0a1 1 0 1 0 -2 0zM344.6 744.6a1 1 0 1 0 2 0a1 1 0 1 0 -2 0zM346.5 744.6a1 1 0 1 0 2 0a1 1 0 1 0 -2 0zM348.5 744.6a1 1 0 1 0 2 0a1 1 0 1 0 -2 0zM335.4 750.1a1 1 0 1 0 2 0a1 1 0 1 0 -2 0zM337.3 750.1a1 1 0 1 0 2 0a1 1 0 1 0 -2 0zM344.6 747.7a1 1 0 1 0 2 0a1 1 0 1 0 -2 0zM346.5 747.7a1 1 0 1 0 2 0a1 1 0 1 0 -2 0zM348.5 747.7a1 1 0 1 0 2 0a1 1 0 1 0 -2 0zM347.2 751.2a1 1 0 1 0 2 0a1 1 0 1 0 -2 0zM349.1 751.2a1 1 0 1 0 2 0a1 1 0 1 0 -2 0zM370.6 751.2a1 1 0 1 0 2 0a1 1 0 1 0 -2 0zM372.5 751.2a1 1 0 1 0 2 0a1 1 0 1 0 -2 0zM374.5 751.2a1 1 0 1 0 2 0a1 1 0 1 0 -2 0zM347.2 754.7a1 1 0 1 0 2 0a1 1 0 1 0 -2 0zM349.1 754.7a1 1 0 1 0 2 0a1 1 0 1 0 -2 0zM351.2 759.0a1 1 0 1 0 2 0a1 1 0 1 0 -2 0zM374.6 759.0a1 1 0 1 0 2 0a1 1 0 1 0 -2 0zM376.5 759.0a1 1 0 1 0 2 0a1 1 0 1 0 -2 0zM360.0 764.5a1 1 0 1 0 2 0a1 1 0 1 0 -2 0zM361.9 764.5a1 1 0 1 0 2 0a1 1 0 1 0 -2 0zM360.0 771.2a1 1 0 1 0 2 0a1 1 0 1 0 -2 0zM361.9 771.2a1 1 0 1 0 2 0a1 1 0 1 0 -2 0zM363.9 771.2a1 1 0 1 0 2 0a1 1 0 1 0 -2 0zM375.2 768.7a1 1 0 1 0 2 0a1 1 0 1 0 -2 0zM377.1 768.7a1 1 0 1 0 2 0a1 1 0 1 0 -2 0zM375.2 774.7a1 1 0 1 0 2 0a1 1 0 1 0 -2 0zM377.1 774.7a1 1 0 1 0 2 0a1 1 0 1 0 -2 0zM349.6 780.6a1 1 0 1 0 2 0a1 1 0 1 0 -2 0zM351.5 780.6a1 1 0 1 0 2 0a1 1 0 1 0 -2 0zM353.5 780.6a1 1 0 1 0 2 0a1 1 0 1 0 -2 0zM355.4 780.6a1 1 0 1 0 2 0a1 1 0 1 0 -2 0zM357.4 780.6a1 1 0 1 0 2 0a1 1 0 1 0 -2 0zM359.3 780.6a1 1 0 1 0 2 0a1 1 0 1 0 -2 0zM349.6 791.7a1 1 0 1 0 2 0a1 1 0 1 0 -2 0zM351.5 791.7a1 1 0 1 0 2 0a1 1 0 1 0 -2 0zM369.4 788.7a1 1 0 1 0 2 0a1 1 0 1 0 -2 0zM369.4 798.5a1 1 0 1 0 2 0a1 1 0 1 0 -2 0zM371.3 798.5a1 1 0 1 0 2 0a1 1 0 1 0 -2 0zM373.3 798.5a1 1 0 1 0 2 0a1 1 0 1 0 -2 0zM375.2 798.5a1 1 0 1 0 2 0a1 1 0 1 0 -2 0zM389.8 794.2a1 1 0 1 0 2 0a1 1 0 1 0 -2 0zM391.8 794.2a1 1 0 1 0 2 0a1 1 0 1 0 -2 0z" fill="#be1e2d"/>
<path d="M21.6 361.1a1 1 0 1 0 2 0a1 1 0 1 0 -2 0zM136.9 358.9a1 1 0 1 0 2 0a1 1 0 1 0 -2 0zM24.8 375.0a1 1 0 1 0 2 0a1 1 0 1 0 -2 0zM80.0 378.7a1 1 0 1 0 2 0a1 1 0 1 0 -2 0zM130.4 456.0a1 1 0 1 0 2 0a1 1 0 1 0 -2 0zM132.4 456.0a1 1 0 1 0 2 0a1 1 0 1 0 -2 0zM134.3 456.0a1 1 0 1 0 2 0a1 1 0 1 0 -2 0zM165.7 393.7a1 1 0 1 0 2 0a1 1 0 1 0 -2 0zM167.7 393.7a1 1 0 1 0 2 0a1 1 0 1 0 -2 0zM169.6 393.7a1 1 0 1 0 2 0a1 1 0 1 0 -2 0zM171.6 393.7a1 1 0 1 0 2 0a1 1 0 1 0 -2 0zM173.5 393.7a1 1 0 1 0 2 0a1 1 0 1 0 -2 0zM175.5 393.7a1 1 0 1 0 2 0a1 1 0 1 0 -2 0zM177.4 393.7a1 1 0 1 0 2 0a1 1 0 1 0 -2 0zM179.4 393.7a1 1 0 1 0 2 0a1 1 0 1 0 -2 0zM181.3 393.7a1 1 0 1 0 2 0a1 1 0 1 0 -2 0zM200.8 391.7a1 1 0 1 0 2 0a1 1 0 1 0 -2 0zM163.8 401.6a1 1 0 1 0 2 0a1 1 0 1 0 -2 0zM177.2 398.7a1 1 0 1 0 2 0a1 1 0 1 0 -2 0zM163.8 409.3a1 1 0 1 0 2 0a1 1 0 1 0 -2 0zM163.8 426.4a1 1 0 1 0 2 0a1 1 0 1 0 -2 0zM176.7 419.7a1 1 0 1 0 2 0a1 1 0 1 0 -2 0zM182.6 423.2a1 1 0 1 0 2 0a1 1 0 1 0 -2 0zM181.6 428.9a1 1 0 1 0 2 0a1 1 0 1 0 -2 0zM183.5 428.9a1 1 0 1 0 2 0a1 1 0 1 0 -2 0zM176.7 438.3a1 1 0 1 0 2 0a1 1 0 1 0 -2 0zM169.6 447.5a1 1 0 1 0 2 0a1 1 0 1 0 -2 0zM171.6 447.5a1 1 0 1 0 2 0a1 1 0 1 0 -2 0zM173.5 447.5a1 1 0 1 0 2 0a1 1 0 1 0 -2 0zM175.5 447.5a1 1 0 1 0 2 0a1 1 0 1 0 -2 0zM177.4 447.5a1 1 0 1 0 2 0a1 1 0 1 0 -2 0zM179.4 447.5a1 1 0 1 0 2 0a1 1 0 1 0 -2 0zM181.3 447.5a1 1 0 1 0 2 0a1 1 0 1 0 -2 0zM183.3 447.5a1 1 0 1 0 2 0a1 1 0 1 0 -2 0zM185.2 447.5a1 1 0 1 0 2 0a1 1 0 1 0 -2 0zM187.2 447.5a1 1 0 1 0 2 0a1 1 0 1 0 -2 0zM227.1 443.3a1 1 0 1 0 2 0a1 1 0 1 0 -2 0zM229.1 443.3a1 1 0 1 0 2 0a1 1 0 1 0 -2 0zM231.0 443.3a1 1 0 1 0 2 0a1 1 0 1 0 -2 0zM233.0 443.3a1 1 0 1 0 2 0a1 1 0 1 0 -2 0zM235.6 456.2a1 1 0 1 0 2 0a1 1 0 1 0 -2 0zM237.5 456.2a1 1 0 1 0 2 0a1 1 0 1 0 -2 0zM239.5 456.2a1 1 0 1 0 2 0a1 1 0 1 0 -2 0zM241.4 456.2a1 1 0 1 0 2 0a1 1 0 1 0 -2 0zM243.4 456.2a1 1 0 1 0 2 0a1 1 0 1 0 -2 0zM245.3 456.2a1 1 0 1 0 2 0a1 1 0 1 0 -2 0zM247.3 456.2a1 1 0 1 0 2 0a1 1 0 1 0 -2 0zM268.7 451.2a1 1 0 1 0 2 0a1 1 0 1 0 -2 0zM280.4 460.7a1 1 0 1 0 2 0a1 1 0 1 0 -2 0zM282.3 460.7a1 1 0 1 0 2 0a1 1 0 1 0 -2 0zM284.3 460.7a1 1 0 1 0 2 0a1 1 0 1 0 -2 0zM324.5 456.2a1 1 0 1 0 2 0a1 1 0 1 0 -2 0zM326.5 456.2a1 1 0 1 0 2 0a1 1 0 1 0 -2 0zM328.4 456.2a1 1 0 1 0 2 0a1 1 0 1 0 -2 0zM330.4 456.2a1 1 0 1 0 2 0a1 1 0 1 0 -2 0zM332.3 456.2a1 1 0 1 0 2 0a1 1 0 1 0 -2 0zM334.3 456.2a1 1 0 1 0 2 0a1 1 0 1 0 -2 0zM336.2 456.2a1 1 0 1 0 2 0a1 1 0 1 0 -2 0zM338.2 456.2a1 1 0 1 0 2 0a1 1 0 1 0 -2 0zM340.1 456.2a1 1 0 1 0 2 0a1 1 0 1 0 -2 0zM342.1 456.2a1 1 0 1 0 2 0a1 1 0 1 0 -2 0zM388.4 453.9a1 1 0 1 0 2 0a1 1 0 1 0 -2 0zM390.3 453.9a1 1 0 1 0 2 0a1 1 0 1 0 -2 0zM392.3 453.9a1 1 0 1 0 2 0a1 1 0 1 0 -2 0zM394.2 453.9a1 1 0 1 0 2 0a1 1 0 1 0 -2 0zM396.2 453.9a1 1 0 1 0 2 0a1 1 0 1 0 -2 0zM398.1 453.9a1 1 0 1 0 2 0a1 1 0 1 0 -2 0zM400.1 453.9a1 1 0 1 0 2 0a1 1 0 1 0 -2 0zM402.0 453.9a1 1 0 1 0 2 0a1 1 0 1 0 -2 0zM404.0 453.9a1 1 0 1 0 2 0a1 1 0 1 0 -2 0zM388.4 457.7a1 1 0 1 0 2 0a1 1 0 1 0 -2 0zM390.3 457.7a1 1 0 1 0 2 0a1 1 0 1 0 -2 0zM392.3 457.7a1 1 0 1 0 2 0a1 1 0 1 0 -2 0zM314.8 464.7a1 1 0 1 0 2 0a1 1 0 1 0 -2 0zM316.8 464.7a1 1 0 1 0 2 0a1 1 0 1 0 -2 0zM318.7 464.7a1 1 0 1 0 2 0a1 1 0 1 0 -2 0zM340.4 461.1a1 1 0 1 0 2 0a1 1 0 1 0 -2 0zM342.3 461.1a1 1 0 1 0 2 0a1 1 0 1 0 -2 0zM344.3 461.1a1 1 0 1 0 2 0a1 1 0 1 0 -2 0zM346.2 461.1a1 1 0 1 0 2 0a1 1 0 1 0 -2 0zM348.2 461.1a1 1 0 1 0 2 0a1 1 0 1 0 -2 0zM350.1 461.1a1 1 0 1 0 2 0a1 1 0 1 0 -2 0zM352.1 461.1a1 1 0 1 0 2 0a1 1 0 1 0 -2 0zM354.0 461.1a1 1 0 1 0 2 0a1 1 0 1 0 -2 0zM334.5 468.1a1 1 0 1 0 2 0a1 1 0 1 0 -2 0zM336.5 468.1a1 1 0 1 0 2 0a1 1 0 1 0 -2 0zM338.4 468.1a1 1 0 1 0 2 0a1 1 0 1 0 -2 0zM171.6 483.0a1 1 0 1 0 2 0a1 1 0 1 0 -2 0zM173.5 483.0a1 1 0 1 0 2 0a1 1 0 1 0 -2 0zM175.5 483.0a1 1 0 1 0 2 0a1 1 0 1 0 -2 0zM177.4 483.0a1 1 0 1 0 2 0a1 1 0 1 0 -2 0zM179.4 483.0a1 1 0 1 0 2 0a1 1 0 1 0 -2 0zM181.3 483.0a1 1 0 1 0 2 0a1 1 0 1 0 -2 0zM183.3 483.0a1 1 0 1 0 2 0a1 1 0 1 0 -2 0zM185.2 483.0a1 1 0 1 0 2 0a1 1 0 1 0 -2 0zM234.9 475.0a1 1 0 1 0 2 0a1 1 0 1 0 -2 0zM236.9 475.0a1 1 0 1 0 2 0a1 1 0 1 0 -2 0zM238.8 475.0a1 1 0 1 0 2 0a1 1 0 1 0 -2 0zM233.0 477.3a1 1 0 1 0 2 0a1 1 0 1 0 -2 0zM234.9 477.3a1 1 0 1 0 2 0a1 1 0 1 0 -2 0zM229.1 482.3a1 1 0 1 0 2 0a1 1 0 1 0 -2 0zM236.9 484.4a1 1 0 1 0 2 0a1 1 0 1 0 -2 0zM238.9 484.4a1 1 0 1 0 2 0a1 1 0 1 0 -2 0zM240.8 484.4a1 1 0 1 0 2 0a1 1 0 1 0 -2 0zM242.8 484.4a1 1 0 1 0 2 0a1 1 0 1 0 -2 0zM244.7 484.4a1 1 0 1 0 2 0a1 1 0 1 0 -2 0zM246.7 484.4a1 1 0 1 0 2 0a1 1 0 1 0 -2 0zM242.0 493.7a1 1 0 1 0 2 0a1 1 0 1 0 -2 0zM243.9 493.7a1 1 0 1 0 2 0a1 1 0 1 0 -2 0zM245.9 493.7a1 1 0 1 0 2 0a1 1 0 1 0 -2 0zM247.8 493.7a1 1 0 1 0 2 0a1 1 0 1 0 -2 0zM249.8 493.7a1 1 0 1 0 2 0a1 1 0 1 0 -2 0zM241.9 500.0a1 1 0 1 0 2 0a1 1 0 1 0 -2 0zM243.9 500.0a1 1 0 1 0 2 0a1 1 0 1 0 -2 0zM328.4 500.0a1 1 0 1 0 2 0a1 1 0 1 0 -2 0zM330.4 500.0a1 1 0 1 0 2 0a1 1 0 1 0 -2 0zM332.3 500.0a1 1 0 1 0 2 0a1 1 0 1 0 -2 0zM334.3 500.0a1 1 0 1 0 2 0a1 1 0 1 0 -2 0zM336.2 500.0a1 1 0 1 0 2 0a1 1 0 1 0 -2 0zM338.2 500.0a1 1 0 1 0 2 0a1 1 0 1 0 -2 0zM340.1 500.0a1 1 0 1 0 2 0a1 1 0 1 0 -2 0zM342.1 500.0a1 1 0 1 0 2 0a1 1 0 1 0 -2 0zM344.0 500.0a1 1 0 1 0 2 0a1 1 0 1 0 -2 0zM346.0 500.0a1 1 0 1 0 2 0a1 1 0 1 0 -2 0zM347.9 500.0a1 1 0 1 0 2 0a1 1 0 1 0 -2 0zM349.9 500.0a1 1 0 1 0 2 0a1 1 0 1 0 -2 0zM351.8 500.0a1 1 0 1 0 2 0a1 1 0 1 0 -2 0zM173.0 506.1a1 1 0 1 0 2 0a1 1 0 1 0 -2 0zM174.9 506.1a1 1 0 1 0 2 0a1 1 0 1 0 -2 0zM189.1 504.2a1 1 0 1 0 2 0a1 1 0 1 0 -2 0zM191.1 504.2a1 1 0 1 0 2 0a1 1 0 1 0 -2 0zM193.0 504.2a1 1 0 1 0 2 0a1 1 0 1 0 -2 0zM193.0 507.2a1 1 0 1 0 2 0a1 1 0 1 0 -2 0zM195.0 507.2a1 1 0 1 0 2 0a1 1 0 1 0 -2 0zM174.6 510.7a1 1 0 1 0 2 0a1 1 0 1 0 -2 0zM176.5 510.7a1 1 0 1 0 2 0a1 1 0 1 0 -2 0zM189.1 515.1a1 1 0 1 0 2 0a1 1 0 1 0 -2 0zM191.1 515.1a1 1 0 1 0 2 0a1 1 0 1 0 -2 0zM193.0 515.1a1 1 0 1 0 2 0a1 1 0 1 0 -2 0zM195.0 515.1a1 1 0 1 0 2 0a1 1 0 1 0 -2 0zM173.0 524.7a1 1 0 1 0 2 0a1 1 0 1 0 -2 0zM174.9 524.7a1 1 0 1 0 2 0a1 1 0 1 0 -2 0zM176.9 524.7a1 1 0 1 0 2 0a1 1 0 1 0 -2 0zM197.1 528.2a1 1 0 1 0 2 0a1 1 0 1 0 -2 0zM199.1 528.2a1 1 0 1 0 2 0a1 1 0 1 0 -2 0zM201.0 528.2a1 1 0 1 0 2 0a1 1 0 1 0 -2 0zM201.0 531.0a1 1 0 1 0 2 0a1 1 0 1 0 -2 0zM203.0 531.0a1 1 0 1 0 2 0a1 1 0 1 0 -2 0zM199.1 535.2a1 1 0 1 0 2 0a1 1 0 1 0 -2 0zM170.6 541.4a1 1 0 1 0 2 0a1 1 0 1 0 -2 0zM172.6 541.4a1 1 0 1 0 2 0a1 1 0 1 0 -2 0zM174.5 541.4a1 1 0 1 0 2 0a1 1 0 1 0 -2 0zM176.5 541.4a1 1 0 1 0 2 0a1 1 0 1 0 -2 0zM194.8 540.4a1 1 0 1 0 2 0a1 1 0 1 0 -2 0zM176.5 589.7a1 1 0 1 0 2 0a1 1 0 1 0 -2 0zM178.4 589.7a1 1 0 1 0 2 0a1 1 0 1 0 -2 0zM180.4 589.7a1 1 0 1 0 2 0a1 1 0 1 0 -2 0zM182.3 589.7a1 1 0 1 0 2 0a1 1 0 1 0 -2 0zM184.3 589.7a1 1 0 1 0 2 0a1 1 0 1 0 -2 0zM186.2 589.7a1 1 0 1 0 2 0a1 1 0 1 0 -2 0zM188.2 589.7a1 1 0 1 0 2 0a1 1 0 1 0 -2 0zM190.1 589.7a1 1 0 1 0 2 0a1 1 0 1 0 -2 0zM192.1 589.7a1 1 0 1 0 2 0a1 1 0 1 0 -2 0zM194.0 589.7a1 1 0 1 0 2 0a1 1 0 1 0 -2 0zM196.0 589.7a1 1 0 1 0 2 0a1 1 0 1 0 -2 0zM263.2 551.3a1 1 0 1 0 2 0a1 1 0 1 0 -2 0zM265.1 551.3a1 1 0 1 0 2 0a1 1 0 1 0 -2 0zM267.1 551.3a1 1 0 1 0 2 0a1 1 0 1 0 -2 0zM269.0 551.3a1 1 0 1 0 2 0a1 1 0 1 0 -2 0zM271.0 551.3a1 1 0 1 0 2 0a1 1 0 1 0 -2 0zM272.9 551.3a1 1 0 1 0 2 0a1 1 0 1 0 -2 0zM274.9 551.3a1 1 0 1 0 2 0a1 1 0 1 0 -2 0zM276.8 551.3a1 1 0 1 0 2 0a1 1 0 1 0 -2 0zM278.8 551.3a1 1 0 1 0 2 0a1 1 0 1 0 -2 0zM280.7 551.3a1 1 0 1 0 2 0a1 1 0 1 0 -2 0zM282.7 551.3a1 1 0 1 0 2 0a1 1 0 1 0 -2 0zM284.6 551.3a1 1 0 1 0 2 0a1 1 0 1 0 -2 0zM239.8 560.7a1 1 0 1 0 2 0a1 1 0 1 0 -2 0zM244.2 558.2a1 1 0 1 0 2 0a1 1 0 1 0 -2 0zM246.1 558.2a1 1 0 1 0 2 0a1 1 0 1 0 -2 0zM248.1 558.2a1 1 0 1 0 2 0a1 1 0 1 0 -2 0zM255.9 565.2a1 1 0 1 0 2 0a1 1 0 1 0 -2 0zM257.8 565.2a1 1 0 1 0 2 0a1 1 0 1 0 -2 0zM259.8 565.2a1 1 0 1 0 2 0a1 1 0 1 0 -2 0zM261.7 565.2a1 1 0 1 0 2 0a1 1 0 1 0 -2 0zM263.7 565.2a1 1 0 1 0 2 0a1 1 0 1 0 -2 0zM265.6 565.2a1 1 0 1 0 2 0a1 1 0 1 0 -2 0zM267.6 565.2a1 1 0 1 0 2 0a1 1 0 1 0 -2 0zM255.4 592.2a1 1 0 1 0 2 0a1 1 0 1 0 -2 0zM257.3 592.2a1 1 0 1 0 2 0a1 1 0 1 0 -2 0zM259.3 592.2a1 1 0 1 0 2 0a1 1 0 1 0 -2 0zM261.2 592.2a1 1 0 1 0 2 0a1 1 0 1 0 -2 0zM263.2 592.2a1 1 0 1 0 2 0a1 1 0 1 0 -2 0zM265.1 592.2a1 1 0 1 0 2 0a1 1 0 1 0 -2 0zM267.1 592.2a1 1 0 1 0 2 0a1 1 0 1 0 -2 0zM334.4 549.6a1 1 0 1 0 2 0a1 1 0 1 0 -2 0zM336.3 549.6a1 1 0 1 0 2 0a1 1 0 1 0 -2 0zM334.4 554.5a1 1 0 1 0 2 0a1 1 0 1 0 -2 0zM311.8 560.7a1 1 0 1 0 2 0a1 1 0 1 0 -2 0zM313.7 560.7a1 1 0 1 0 2 0a1 1 0 1 0 -2 0zM315.7 560.7a1 1 0 1 0 2 0a1 1 0 1 0 -2 0zM317.6 560.7a1 1 0 1 0 2 0a1 1 0 1 0 -2 0zM311.8 562.7a1 1 0 1 0 2 0a1 1 0 1 0 -2 0zM313.8 562.7a1 1 0 1 0 2 0a1 1 0 1 0 -2 0zM319.0 568.5a1 1 0 1 0 2 0a1 1 0 1 0 -2 0zM321.0 568.5a1 1 0 1 0 2 0a1 1 0 1 0 -2 0zM322.9 568.5a1 1 0 1 0 2 0a1 1 0 1 0 -2 0zM321.0 570.7a1 1 0 1 0 2 0a1 1 0 1 0 -2 0zM322.9 570.7a1 1 0 1 0 2 0a1 1 0 1 0 -2 0zM325.6 582.6a1 1 0 1 0 2 0a1 1 0 1 0 -2 0zM354.7 576.7a1 1 0 1 0 2 0a1 1 0 1 0 -2 0zM358.6 576.7a1 1 0 1 0 2 0a1 1 0 1 0 -2 0zM352.8 583.6a1 1 0 1 0 2 0a1 1 0 1 0 -2 0zM354.7 583.6a1 1 0 1 0 2 0a1 1 0 1 0 -2 0zM366.4 583.6a1 1 0 1 0 2 0a1 1 0 1 0 -2 0zM354.7 585.7a1 1 0 1 0 2 0a1 1 0 1 0 -2 0zM356.6 589.3a1 1 0 1 0 2 0a1 1 0 1 0 -2 0zM349.9 593.0a1 1 0 1 0 2 0a1 1 0 1 0 -2 0zM351.1 598.5a1 1 0 1 0 2 0a1 1 0 1 0 -2 0zM353.1 598.5a1 1 0 1 0 2 0a1 1 0 1 0 -2 0zM355.0 598.5a1 1 0 1 0 2 0a1 1 0 1 0 -2 0zM357.0 598.5a1 1 0 1 0 2 0a1 1 0 1 0 -2 0zM355.0 601.7a1 1 0 1 0 2 0a1 1 0 1 0 -2 0zM357.0 601.7a1 1 0 1 0 2 0a1 1 0 1 0 -2 0zM358.9 601.7a1 1 0 1 0 2 0a1 1 0 1 0 -2 0zM360.9 601.7a1 1 0 1 0 2 0a1 1 0 1 0 -2 0zM357.1 605.4a1 1 0 1 0 2 0a1 1 0 1 0 -2 0zM359.0 605.4a1 1 0 1 0 2 0a1 1 0 1 0 -2 0zM361.0 605.4a1 1 0 1 0 2 0a1 1 0 1 0 -2 0zM362.9 605.4a1 1 0 1 0 2 0a1 1 0 1 0 -2 0zM355.1 607.9a1 1 0 1 0 2 0a1 1 0 1 0 -2 0zM357.1 607.9a1 1 0 1 0 2 0a1 1 0 1 0 -2 0zM365.1 613.3a1 1 0 1 0 2 0a1 1 0 1 0 -2 0zM367.1 613.3a1 1 0 1 0 2 0a1 1 0 1 0 -2 0zM369.0 617.3a1 1 0 1 0 2 0a1 1 0 1 0 -2 0zM371.0 617.3a1 1 0 1 0 2 0a1 1 0 1 0 -2 0zM364.1 619.7a1 1 0 1 0 2 0a1 1 0 1 0 -2 0zM241.7 641.4a1 1 0 1 0 2 0a1 1 0 1 0 -2 0zM251.7 630.5a1 1 0 1 0 2 0a1 1 0 1 0 -2 0zM253.7 630.5a1 1 0 1 0 2 0a1 1 0 1 0 -2 0zM255.6 630.5a1 1 0 1 0 2 0a1 1 0 1 0 -2 0zM285.1 627.2a1 1 0 1 0 2 0a1 1 0 1 0 -2 0zM287.0 627.2a1 1 0 1 0 2 0a1 1 0 1 0 -2 0zM289.0 627.2a1 1 0 1 0 2 0a1 1 0 1 0 -2 0zM290.9 627.2a1 1 0 1 0 2 0a1 1 0 1 0 -2 0zM292.9 627.2a1 1 0 1 0 2 0a1 1 0 1 0 -2 0zM294.8 627.2a1 1 0 1 0 2 0a1 1 0 1 0 -2 0zM296.8 627.2a1 1 0 1 0 2 0a1 1 0 1 0 -2 0zM298.7 627.2a1 1 0 1 0 2 0a1 1 0 1 0 -2 0zM290.9 633.9a1 1 0 1 0 2 0a1 1 0 1 0 -2 0zM292.9 633.9a1 1 0 1 0 2 0a1 1 0 1 0 -2 0zM294.8 633.9a1 1 0 1 0 2 0a1 1 0 1 0 -2 0zM296.8 633.9a1 1 0 1 0 2 0a1 1 0 1 0 -2 0zM298.7 633.9a1 1 0 1 0 2 0a1 1 0 1 0 -2 0zM261.5 652.0a1 1 0 1 0 2 0a1 1 0 1 0 -2 0zM263.4 652.0a1 1 0 1 0 2 0a1 1 0 1 0 -2 0zM265.4 652.0a1 1 0 1 0 2 0a1 1 0 1 0 -2 0zM267.3 652.0a1 1 0 1 0 2 0a1 1 0 1 0 -2 0zM269.3 652.0a1 1 0 1 0 2 0a1 1 0 1 0 -2 0zM271.2 652.0a1 1 0 1 0 2 0a1 1 0 1 0 -2 0zM273.2 652.0a1 1 0 1 0 2 0a1 1 0 1 0 -2 0zM275.1 652.0a1 1 0 1 0 2 0a1 1 0 1 0 -2 0zM277.1 652.0a1 1 0 1 0 2 0a1 1 0 1 0 -2 0zM279.0 652.0a1 1 0 1 0 2 0a1 1 0 1 0 -2 0zM281.0 652.0a1 1 0 1 0 2 0a1 1 0 1 0 -2 0zM282.9 652.0a1 1 0 1 0 2 0a1 1 0 1 0 -2 0zM284.9 652.0a1 1 0 1 0 2 0a1 1 0 1 0 -2 0zM286.8 652.0a1 1 0 1 0 2 0a1 1 0 1 0 -2 0zM343.2 623.2a1 1 0 1 0 2 0a1 1 0 1 0 -2 0zM345.1 623.2a1 1 0 1 0 2 0a1 1 0 1 0 -2 0zM347.1 623.2a1 1 0 1 0 2 0a1 1 0 1 0 -2 0zM349.0 623.2a1 1 0 1 0 2 0a1 1 0 1 0 -2 0zM351.0 623.2a1 1 0 1 0 2 0a1 1 0 1 0 -2 0zM352.9 623.2a1 1 0 1 0 2 0a1 1 0 1 0 -2 0zM354.9 623.2a1 1 0 1 0 2 0a1 1 0 1 0 -2 0zM356.8 623.2a1 1 0 1 0 2 0a1 1 0 1 0 -2 0zM358.8 623.2a1 1 0 1 0 2 0a1 1 0 1 0 -2 0zM343.2 625.2a1 1 0 1 0 2 0a1 1 0 1 0 -2 0zM345.1 625.2a1 1 0 1 0 2 0a1 1 0 1 0 -2 0zM347.1 625.2a1 1 0 1 0 2 0a1 1 0 1 0 -2 0zM339.3 629.7a1 1 0 1 0 2 0a1 1 0 1 0 -2 0zM328.3 630.2a1 1 0 1 0 2 0a1 1 0 1 0 -2 0zM330.2 630.2a1 1 0 1 0 2 0a1 1 0 1 0 -2 0zM320.5 637.7a1 1 0 1 0 2 0a1 1 0 1 0 -2 0zM322.4 637.7a1 1 0 1 0 2 0a1 1 0 1 0 -2 0zM324.4 637.7a1 1 0 1 0 2 0a1 1 0 1 0 -2 0zM342.9 635.9a1 1 0 1 0 2 0a1 1 0 1 0 -2 0zM344.8 635.9a1 1 0 1 0 2 0a1 1 0 1 0 -2 0zM339.0 642.9a1 1 0 1 0 2 0a1 1 0 1 0 -2 0zM340.9 642.9a1 1 0 1 0 2 0a1 1 0 1 0 -2 0zM333.9 647.1a1 1 0 1 0 2 0a1 1 0 1 0 -2 0zM335.8 647.1a1 1 0 1 0 2 0a1 1 0 1 0 -2 0zM337.1 649.7a1 1 0 1 0 2 0a1 1 0 1 0 -2 0zM335.2 653.7a1 1 0 1 0 2 0a1 1 0 1 0 -2 0zM337.1 653.7a1 1 0 1 0 2 0a1 1 0 1 0 -2 0zM339.1 653.7a1 1 0 1 0 2 0a1 1 0 1 0 -2 0zM343.0 658.3a1 1 0 1 0 2 0a1 1 0 1 0 -2 0zM345.0 658.3a1 1 0 1 0 2 0a1 1 0 1 0 -2 0zM346.9 658.3a1 1 0 1 0 2 0a1 1 0 1 0 -2 0zM344.1 665.7a1 1 0 1 0 2 0a1 1 0 1 0 -2 0zM346.0 665.7a1 1 0 1 0 2 0a1 1 0 1 0 -2 0zM348.0 665.7a1 1 0 1 0 2 0a1 1 0 1 0 -2 0zM349.9 665.7a1 1 0 1 0 2 0a1 1 0 1 0 -2 0zM351.9 665.7a1 1 0 1 0 2 0a1 1 0 1 0 -2 0zM365.5 665.7a1 1 0 1 0 2 0a1 1 0 1 0 -2 0zM342.1 668.2a1 1 0 1 0 2 0a1 1 0 1 0 -2 0zM344.1 671.2a1 1 0 1 0 2 0a1 1 0 1 0 -2 0zM346.0 671.2a1 1 0 1 0 2 0a1 1 0 1 0 -2 0zM341.1 673.7a1 1 0 1 0 2 0a1 1 0 1 0 -2 0zM267.1 687.5a1 1 0 1 0 2 0a1 1 0 1 0 -2 0zM269.0 687.5a1 1 0 1 0 2 0a1 1 0 1 0 -2 0zM271.0 687.5a1 1 0 1 0 2 0a1 1 0 1 0 -2 0zM272.9 687.5a1 1 0 1 0 2 0a1 1 0 1 0 -2 0zM274.9 687.5a1 1 0 1 0 2 0a1 1 0 1 0 -2 0zM276.8 687.5a1 1 0 1 0 2 0a1 1 0 1 0 -2 0zM317.5 679.3a1 1 0 1 0 2 0a1 1 0 1 0 -2 0zM319.5 679.3a1 1 0 1 0 2 0a1 1 0 1 0 -2 0zM321.4 679.3a1 1 0 1 0 2 0a1 1 0 1 0 -2 0zM317.5 694.2a1 1 0 1 0 2 0a1 1 0 1 0 -2 0zM319.5 694.2a1 1 0 1 0 2 0a1 1 0 1 0 -2 0zM347.6 682.5a1 1 0 1 0 2 0a1 1 0 1 0 -2 0zM349.5 682.5a1 1 0 1 0 2 0a1 1 0 1 0 -2 0zM351.5 682.5a1 1 0 1 0 2 0a1 1 0 1 0 -2 0zM353.4 682.5a1 1 0 1 0 2 0a1 1 0 1 0 -2 0zM355.4 682.5a1 1 0 1 0 2 0a1 1 0 1 0 -2 0zM357.3 682.5a1 1 0 1 0 2 0a1 1 0 1 0 -2 0zM398.3 682.5a1 1 0 1 0 2 0a1 1 0 1 0 -2 0zM400.2 682.5a1 1 0 1 0 2 0a1 1 0 1 0 -2 0zM402.2 682.5a1 1 0 1 0 2 0a1 1 0 1 0 -2 0zM404.1 682.5a1 1 0 1 0 2 0a1 1 0 1 0 -2 0zM352.9 684.7a1 1 0 1 0 2 0a1 1 0 1 0 -2 0zM354.9 684.7a1 1 0 1 0 2 0a1 1 0 1 0 -2 0zM351.0 686.7a1 1 0 1 0 2 0a1 1 0 1 0 -2 0zM352.9 686.7a1 1 0 1 0 2 0a1 1 0 1 0 -2 0zM354.9 686.7a1 1 0 1 0 2 0a1 1 0 1 0 -2 0zM351.0 689.2a1 1 0 1 0 2 0a1 1 0 1 0 -2 0zM352.9 689.2a1 1 0 1 0 2 0a1 1 0 1 0 -2 0zM354.9 689.2a1 1 0 1 0 2 0a1 1 0 1 0 -2 0zM356.8 689.2a1 1 0 1 0 2 0a1 1 0 1 0 -2 0zM358.8 689.2a1 1 0 1 0 2 0a1 1 0 1 0 -2 0zM349.0 691.7a1 1 0 1 0 2 0a1 1 0 1 0 -2 0zM335.4 693.7a1 1 0 1 0 2 0a1 1 0 1 0 -2 0zM337.3 693.7a1 1 0 1 0 2 0a1 1 0 1 0 -2 0zM339.3 693.7a1 1 0 1 0 2 0a1 1 0 1 0 -2 0zM341.2 693.7a1 1 0 1 0 2 0a1 1 0 1 0 -2 0zM343.2 693.7a1 1 0 1 0 2 0a1 1 0 1 0 -2 0zM373.8 708.1a1 1 0 1 0 2 0a1 1 0 1 0 -2 0zM375.8 708.1a1 1 0 1 0 2 0a1 1 0 1 0 -2 0zM377.7 708.1a1 1 0 1 0 2 0a1 1 0 1 0 -2 0zM379.7 708.1a1 1 0 1 0 2 0a1 1 0 1 0 -2 0zM381.6 708.1a1 1 0 1 0 2 0a1 1 0 1 0 -2 0zM383.6 708.1a1 1 0 1 0 2 0a1 1 0 1 0 -2 0zM385.5 708.1a1 1 0 1 0 2 0a1 1 0 1 0 -2 0zM387.5 708.1a1 1 0 1 0 2 0a1 1 0 1 0 -2 0zM350.4 712.3a1 1 0 1 0 2 0a1 1 0 1 0 -2 0zM358.9 715.6a1 1 0 1 0 2 0a1 1 0 1 0 -2 0zM360.8 715.6a1 1 0 1 0 2 0a1 1 0 1 0 -2 0zM344.6 722.3a1 1 0 1 0 2 0a1 1 0 1 0 -2 0zM350.4 727.7a1 1 0 1 0 2 0a1 1 0 1 0 -2 0zM352.4 727.7a1 1 0 1 0 2 0a1 1 0 1 0 -2 0zM358.2 733.4a1 1 0 1 0 2 0a1 1 0 1 0 -2 0zM360.2 733.4a1 1 0 1 0 2 0a1 1 0 1 0 -2 0zM352.4 747.7a1 1 0 1 0 2 0a1 1 0 1 0 -2 0zM354.3 747.7a1 1 0 1 0 2 0a1 1 0 1 0 -2 0zM356.3 747.7a1 1 0 1 0 2 0a1 1 0 1 0 -2 0zM351.1 751.2a1 1 0 1 0 2 0a1 1 0 1 0 -2 0zM376.4 751.2a1 1 0 1 0 2 0a1 1 0 1 0 -2 0zM378.4 751.2a1 1 0 1 0 2 0a1 1 0 1 0 -2 0zM351.1 754.7a1 1 0 1 0 2 0a1 1 0 1 0 -2 0zM353.0 754.7a1 1 0 1 0 2 0a1 1 0 1 0 -2 0zM355.0 754.7a1 1 0 1 0 2 0a1 1 0 1 0 -2 0zM355.1 759.0a1 1 0 1 0 2 0a1 1 0 1 0 -2 0zM357.0 759.0a1 1 0 1 0 2 0a1 1 0 1 0 -2 0zM344.6 768.2a1 1 0 1 0 2 0a1 1 0 1 0 -2 0zM346.5 768.2a1 1 0 1 0 2 0a1 1 0 1 0 -2 0zM348.5 768.2a1 1 0 1 0 2 0a1 1 0 1 0 -2 0zM363.9 764.5a1 1 0 1 0 2 0a1 1 0 1 0 -2 0zM367.8 771.2a1 1 0 1 0 2 0a1 1 0 1 0 -2 0zM379.1 774.7a1 1 0 1 0 2 0a1 1 0 1 0 -2 0zM344.6 786.0a1 1 0 1 0 2 0a1 1 0 1 0 -2 0zM361.3 780.6a1 1 0 1 0 2 0a1 1 0 1 0 -2 0zM363.2 780.6a1 1 0 1 0 2 0a1 1 0 1 0 -2 0zM365.2 780.6a1 1 0 1 0 2 0a1 1 0 1 0 -2 0zM367.1 780.6a1 1 0 1 0 2 0a1 1 0 1 0 -2 0zM369.1 780.6a1 1 0 1 0 2 0a1 1 0 1 0 -2 0zM371.0 780.6a1 1 0 1 0 2 0a1 1 0 1 0 -2 0zM373.0 780.6a1 1 0 1 0 2 0a1 1 0 1 0 -2 0zM374.9 780.6a1 1 0 1 0 2 0a1 1 0 1 0 -2 0zM384.5 778.7a1 1 0 1 0 2 0a1 1 0 1 0 -2 0zM386.4 778.7a1 1 0 1 0 2 0a1 1 0 1 0 -2 0zM355.4 791.7a1 1 0 1 0 2 0a1 1 0 1 0 -2 0zM357.4 791.7a1 1 0 1 0 2 0a1 1 0 1 0 -2 0zM359.3 791.7a1 1 0 1 0 2 0a1 1 0 1 0 -2 0zM361.3 791.7a1 1 0 1 0 2 0a1 1 0 1 0 -2 0zM369.4 785.5a1 1 0 1 0 2 0a1 1 0 1 0 -2 0zM371.3 785.5a1 1 0 1 0 2 0a1 1 0 1 0 -2 0zM373.3 785.5a1 1 0 1 0 2 0a1 1 0 1 0 -2 0zM371.3 788.7a1 1 0 1 0 2 0a1 1 0 1 0 -2 0zM373.3 788.7a1 1 0 1 0 2 0a1 1 0 1 0 -2 0zM379.1 798.5a1 1 0 1 0 2 0a1 1 0 1 0 -2 0zM381.1 798.5a1 1 0 1 0 2 0a1 1 0 1 0 -2 0zM395.6 794.2a1 1 0 1 0 2 0a1 1 0 1 0 -2 0zM389.8 802.4a1 1 0 1 0 2 0a1 1 0 1 0 -2 0zM391.8 802.4a1 1 0 1 0 2 0a1 1 0 1 0 -2 0zM393.7 802.4a1 1 0 1 0 2 0a1 1 0 1 0 -2 0z" fill="#f9d616"/>
<path d="M10.5 365.5a1 1 0 1 0 2 0a1 1 0 1 0 -2 0zM12.4 365.5a1 1 0 1 0 2 0a1 1 0 1 0 -2 0zM23.6 361.1a1 1 0 1 0 2 0a1 1 0 1 0 -2 0zM25.5 361.1a1 1 0 1 0 2 0a1 1 0 1 0 -2 0zM27.5 361.1a1 1 0 1 0 2 0a1 1 0 1 0 -2 0zM29.4 361.1a1 1 0 1 0 2 0a1 1 0 1 0 -2 0zM31.4 361.1a1 1 0 1 0 2 0a1 1 0 1 0 -2 0zM33.3 361.1a1 1 0 1 0 2 0a1 1 0 1 0 -2 0zM35.3 361.1a1 1 0 1 0 2 0a1 1 0 1 0 -2 0zM37.2 361.1a1 1 0 1 0 2 0a1 1 0 1 0 -2 0zM39.2 361.1a1 1 0 1 0 2 0a1 1 0 1 0 -2 0zM41.2 361.1a1 1 0 1 0 2 0a1 1 0 1 0 -2 0zM43.1 361.1a1 1 0 1 0 2 0a1 1 0 1 0 -2 0zM45.1 361.1a1 1 0 1 0 2 0a1 1 0 1 0 -2 0zM47.0 361.1a1 1 0 1 0 2 0a1 1 0 1 0 -2 0zM49.0 361.1a1 1 0 1 0 2 0a1 1 0 1 0 -2 0zM50.9 361.1a1 1 0 1 0 2 0a1 1 0 1 0 -2 0zM52.9 361.1a1 1 0 1 0 2 0a1 1 0 1 0 -2 0zM54.8 361.1a1 1 0 1 0 2 0a1 1 0 1 0 -2 0zM56.8 361.1a1 1 0 1 0 2 0a1 1 0 1 0 -2 0zM58.7 361.1a1 1 0 1 0 2 0a1 1 0 1 0 -2 0zM60.7 361.1a1 1 0 1 0 2 0a1 1 0 1 0 -2 0zM62.6 361.1a1 1 0 1 0 2 0a1 1 0 1 0 -2 0zM64.6 361.1a1 1 0 1 0 2 0a1 1 0 1 0 -2 0zM66.5 361.1a1 1 0 1 0 2 0a1 1 0 1 0 -2 0zM68.5 361.1a1 1 0 1 0 2 0a1 1 0 1 0 -2 0zM70.4 361.1a1 1 0 1 0 2 0a1 1 0 1 0 -2 0zM72.4 361.1a1 1 0 1 0 2 0a1 1 0 1 0 -2 0zM74.3 361.1a1 1 0 1 0 2 0a1 1 0 1 0 -2 0zM76.3 361.1a1 1 0 1 0 2 0a1 1 0 1 0 -2 0zM78.2 361.1a1 1 0 1 0 2 0a1 1 0 1 0 -2 0zM80.2 361.1a1 1 0 1 0 2 0a1 1 0 1 0 -2 0zM82.1 361.1a1 1 0 1 0 2 0a1 1 0 1 0 -2 0zM138.9 358.9a1 1 0 1 0 2 0a1 1 0 1 0 -2 0zM140.8 358.9a1 1 0 1 0 2 0a1 1 0 1 0 -2 0zM142.8 358.9a1 1 0 1 0 2 0a1 1 0 1 0 -2 0zM144.7 358.9a1 1 0 1 0 2 0a1 1 0 1 0 -2 0zM146.7 358.9a1 1 0 1 0 2 0a1 1 0 1 0 -2 0zM148.6 358.9a1 1 0 1 0 2 0a1 1 0 1 0 -2 0zM150.6 358.9a1 1 0 1 0 2 0a1 1 0 1 0 -2 0zM152.5 358.9a1 1 0 1 0 2 0a1 1 0 1 0 -2 0zM154.5 358.9a1 1 0 1 0 2 0a1 1 0 1 0 -2 0zM156.4 358.9a1 1 0 1 0 2 0a1 1 0 1 0 -2 0zM158.4 358.9a1 1 0 1 0 2 0a1 1 0 1 0 -2 0zM160.3 358.9a1 1 0 1 0 2 0a1 1 0 1 0 -2 0zM162.3 358.9a1 1 0 1 0 2 0a1 1 0 1 0 -2 0zM164.2 358.9a1 1 0 1 0 2 0a1 1 0 1 0 -2 0zM135.0 363.3a1 1 0 1 0 2 0a1 1 0 1 0 -2 0zM136.9 363.3a1 1 0 1 0 2 0a1 1 0 1 0 -2 0zM138.9 363.3a1 1 0 1 0 2 0a1 1 0 1 0 -2 0zM140.8 363.3a1 1 0 1 0 2 0a1 1 0 1 0 -2 0zM142.8 363.3a1 1 0 1 0 2 0a1 1 0 1 0 -2 0zM144.7 363.3a1 1 0 1 0 2 0a1 1 0 1 0 -2 0zM146.7 363.3a1 1 0 1 0 2 0a1 1 0 1 0 -2 0zM148.6 363.3a1 1 0 1 0 2 0a1 1 0 1 0 -2 0zM150.6 363.3a1 1 0 1 0 2 0a1 1 0 1 0 -2 0zM152.5 363.3a1 1 0 1 0 2 0a1 1 0 1 0 -2 0zM154.5 363.3a1 1 0 1 0 2 0a1 1 0 1 0 -2 0zM156.4 363.3a1 1 0 1 0 2 0a1 1 0 1 0 -2 0zM158.4 363.3a1 1 0 1 0 2 0a1 1 0 1 0 -2 0zM24.8 366.2a1 1 0 1 0 2 0a1 1 0 1 0 -2 0zM26.8 366.2a1 1 0 1 0 2 0a1 1 0 1 0 -2 0zM28.7 366.2a1 1 0 1 0 2 0a1 1 0 1 0 -2 0zM30.6 366.2a1 1 0 1 0 2 0a1 1 0 1 0 -2 0zM32.6 366.2a1 1 0 1 0 2 0a1 1 0 1 0 -2 0zM34.6 366.2a1 1 0 1 0 2 0a1 1 0 1 0 -2 0zM36.5 366.2a1 1 0 1 0 2 0a1 1 0 1 0 -2 0zM38.5 366.2a1 1 0 1 0 2 0a1 1 0 1 0 -2 0zM40.4 366.2a1 1 0 1 0 2 0a1 1 0 1 0 -2 0zM42.4 366.2a1 1 0 1 0 2 0a1 1 0 1 0 -2 0zM44.3 366.2a1 1 0 1 0 2 0a1 1 0 1 0 -2 0zM46.3 366.2a1 1 0 1 0 2 0a1 1 0 1 0 -2 0zM48.2 366.2a1 1 0 1 0 2 0a1 1 0 1 0 -2 0zM50.2 366.2a1 1 0 1 0 2 0a1 1 0 1 0 -2 0zM52.1 366.2a1 1 0 1 0 2 0a1 1 0 1 0 -2 0zM54.1 366.2a1 1 0 1 0 2 0a1 1 0 1 0 -2 0zM56.0 366.2a1 1 0 1 0 2 0a1 1 0 1 0 -2 0zM58.0 366.2a1 1 0 1 0 2 0a1 1 0 1 0 -2 0zM59.9 366.2a1 1 0 1 0 2 0a1 1 0 1 0 -2 0zM61.9 366.2a1 1 0 1 0 2 0a1 1 0 1 0 -2 0zM63.8 366.2a1 1 0 1 0 2 0a1 1 0 1 0 -2 0zM26.8 375.0a1 1 0 1 0 2 0a1 1 0 1 0 -2 0zM28.7 375.0a1 1 0 1 0 2 0a1 1 0 1 0 -2 0zM30.6 375.0a1 1 0 1 0 2 0a1 1 0 1 0 -2 0zM32.6 375.0a1 1 0 1 0 2 0a1 1 0 1 0 -2 0zM34.6 375.0a1 1 0 1 0 2 0a1 1 0 1 0 -2 0zM36.5 375.0a1 1 0 1 0 2 0a1 1 0 1 0 -2 0zM38.5 375.0a1 1 0 1 0 2 0a1 1 0 1 0 -2 0zM40.4 375.0a1 1 0 1 0 2 0a1 1 0 1 0 -2 0zM42.4 375.0a1 1 0 1 0 2 0a1 1 0 1 0 -2 0zM44.3 375.0a1 1 0 1 0 2 0a1 1 0 1 0 -2 0zM46.3 375.0a1 1 0 1 0 2 0a1 1 0 1 0 -2 0zM48.2 375.0a1 1 0 1 0 2 0a1 1 0 1 0 -2 0zM50.2 375.0a1 1 0 1 0 2 0a1 1 0 1 0 -2 0zM52.1 375.0a1 1 0 1 0 2 0a1 1 0 1 0 -2 0zM82.0 370.6a1 1 0 1 0 2 0a1 1 0 1 0 -2 0zM84.0 370.6a1 1 0 1 0 2 0a1 1 0 1 0 -2 0zM85.9 370.6a1 1 0 1 0 2 0a1 1 0 1 0 -2 0zM87.9 370.6a1 1 0 1 0 2 0a1 1 0 1 0 -2 0zM89.8 370.6a1 1 0 1 0 2 0a1 1 0 1 0 -2 0zM91.8 370.6a1 1 0 1 0 2 0a1 1 0 1 0 -2 0zM93.7 370.6a1 1 0 1 0 2 0a1 1 0 1 0 -2 0zM95.7 370.6a1 1 0 1 0 2 0a1 1 0 1 0 -2 0zM97.6 370.6a1 1 0 1 0 2 0a1 1 0 1 0 -2 0zM99.6 370.6a1 1 0 1 0 2 0a1 1 0 1 0 -2 0zM101.5 370.6a1 1 0 1 0 2 0a1 1 0 1 0 -2 0zM103.5 370.6a1 1 0 1 0 2 0a1 1 0 1 0 -2 0zM105.4 370.6a1 1 0 1 0 2 0a1 1 0 1 0 -2 0zM123.8 369.1a1 1 0 1 0 2 0a1 1 0 1 0 -2 0zM125.8 369.1a1 1 0 1 0 2 0a1 1 0 1 0 -2 0zM127.7 369.1a1 1 0 1 0 2 0a1 1 0 1 0 -2 0zM129.7 369.1a1 1 0 1 0 2 0a1 1 0 1 0 -2 0zM131.6 369.1a1 1 0 1 0 2 0a1 1 0 1 0 -2 0zM133.5 369.1a1 1 0 1 0 2 0a1 1 0 1 0 -2 0zM135.5 369.1a1 1 0 1 0 2 0a1 1 0 1 0 -2 0zM137.4 369.1a1 1 0 1 0 2 0a1 1 0 1 0 -2 0zM139.4 369.1a1 1 0 1 0 2 0a1 1 0 1 0 -2 0zM123.8 372.7a1 1 0 1 0 2 0a1 1 0 1 0 -2 0zM125.8 372.7a1 1 0 1 0 2 0a1 1 0 1 0 -2 0zM127.7 372.7a1 1 0 1 0 2 0a1 1 0 1 0 -2 0zM129.7 372.7a1 1 0 1 0 2 0a1 1 0 1 0 -2 0zM82.0 378.7a1 1 0 1 0 2 0a1 1 0 1 0 -2 0zM83.9 378.7a1 1 0 1 0 2 0a1 1 0 1 0 -2 0zM85.9 378.7a1 1 0 1 0 2 0a1 1 0 1 0 -2 0zM87.8 378.7a1 1 0 1 0 2 0a1 1 0 1 0 -2 0zM89.8 378.7a1 1 0 1 0 2 0a1 1 0 1 0 -2 0zM91.7 378.7a1 1 0 1 0 2 0a1 1 0 1 0 -2 0zM93.7 378.7a1 1 0 1 0 2 0a1 1 0 1 0 -2 0zM95.6 378.7a1 1 0 1 0 2 0a1 1 0 1 0 -2 0zM97.6 378.7a1 1 0 1 0 2 0a1 1 0 1 0 -2 0zM99.5 378.7a1 1 0 1 0 2 0a1 1 0 1 0 -2 0zM101.5 378.7a1 1 0 1 0 2 0a1 1 0 1 0 -2 0zM103.4 378.7a1 1 0 1 0 2 0a1 1 0 1 0 -2 0zM105.4 378.7a1 1 0 1 0 2 0a1 1 0 1 0 -2 0zM107.3 378.7a1 1 0 1 0 2 0a1 1 0 1 0 -2 0zM109.3 378.7a1 1 0 1 0 2 0a1 1 0 1 0 -2 0zM111.2 378.7a1 1 0 1 0 2 0a1 1 0 1 0 -2 0zM113.2 378.7a1 1 0 1 0 2 0a1 1 0 1 0 -2 0zM115.1 378.7a1 1 0 1 0 2 0a1 1 0 1 0 -2 0zM117.1 378.7a1 1 0 1 0 2 0a1 1 0 1 0 -2 0zM119.0 378.7a1 1 0 1 0 2 0a1 1 0 1 0 -2 0zM11.5 398.3a1 1 0 1 0 2 0a1 1 0 1 0 -2 0zM13.5 398.3a1 1 0 1 0 2 0a1 1 0 1 0 -2 0zM25.5 384.5a1 1 0 1 0 2 0a1 1 0 1 0 -2 0zM27.4 384.5a1 1 0 1 0 2 0a1 1 0 1 0 -2 0zM29.4 384.5a1 1 0 1 0 2 0a1 1 0 1 0 -2 0zM31.3 384.5a1 1 0 1 0 2 0a1 1 0 1 0 -2 0zM33.3 384.5a1 1 0 1 0 2 0a1 1 0 1 0 -2 0zM35.2 384.5a1 1 0 1 0 2 0a1 1 0 1 0 -2 0zM37.2 384.5a1 1 0 1 0 2 0a1 1 0 1 0 -2 0zM39.2 384.5a1 1 0 1 0 2 0a1 1 0 1 0 -2 0zM31.3 411.5a1 1 0 1 0 2 0a1 1 0 1 0 -2 0zM33.3 411.5a1 1 0 1 0 2 0a1 1 0 1 0 -2 0zM35.2 411.5a1 1 0 1 0 2 0a1 1 0 1 0 -2 0zM37.2 411.5a1 1 0 1 0 2 0a1 1 0 1 0 -2 0zM39.2 411.5a1 1 0 1 0 2 0a1 1 0 1 0 -2 0zM41.1 411.5a1 1 0 1 0 2 0a1 1 0 1 0 -2 0zM43.1 411.5a1 1 0 1 0 2 0a1 1 0 1 0 -2 0zM45.0 411.5a1 1 0 1 0 2 0a1 1 0 1 0 -2 0zM47.0 411.5a1 1 0 1 0 2 0a1 1 0 1 0 -2 0zM48.9 411.5a1 1 0 1 0 2 0a1 1 0 1 0 -2 0zM50.9 411.5a1 1 0 1 0 2 0a1 1 0 1 0 -2 0zM52.8 411.5a1 1 0 1 0 2 0a1 1 0 1 0 -2 0zM54.8 411.5a1 1 0 1 0 2 0a1 1 0 1 0 -2 0zM56.7 411.5a1 1 0 1 0 2 0a1 1 0 1 0 -2 0zM58.7 411.5a1 1 0 1 0 2 0a1 1 0 1 0 -2 0zM60.6 411.5a1 1 0 1 0 2 0a1 1 0 1 0 -2 0zM62.6 411.5a1 1 0 1 0 2 0a1 1 0 1 0 -2 0zM64.5 411.5a1 1 0 1 0 2 0a1 1 0 1 0 -2 0zM66.5 411.5a1 1 0 1 0 2 0a1 1 0 1 0 -2 0zM68.4 411.5a1 1 0 1 0 2 0a1 1 0 1 0 -2 0zM70.4 411.5a1 1 0 1 0 2 0a1 1 0 1 0 -2 0zM72.3 411.5a1 1 0 1 0 2 0a1 1 0 1 0 -2 0zM74.3 411.5a1 1 0 1 0 2 0a1 1 0 1 0 -2 0zM76.2 411.5a1 1 0 1 0 2 0a1 1 0 1 0 -2 0zM120.5 387.8a1 1 0 1 0 2 0a1 1 0 1 0 -2 0zM122.5 387.8a1 1 0 1 0 2 0a1 1 0 1 0 -2 0zM124.4 387.8a1 1 0 1 0 2 0a1 1 0 1 0 -2 0zM126.4 387.8a1 1 0 1 0 2 0a1 1 0 1 0 -2 0zM128.3 387.8a1 1 0 1 0 2 0a1 1 0 1 0 -2 0zM136.3 456.0a1 1 0 1 0 2 0a1 1 0 1 0 -2 0zM138.2 456.0a1 1 0 1 0 2 0a1 1 0 1 0 -2 0zM202.7 391.7a1 1 0 1 0 2 0a1 1 0 1 0 -2 0zM204.7 391.7a1 1 0 1 0 2 0a1 1 0 1 0 -2 0zM206.6 391.7a1 1 0 1 0 2 0a1 1 0 1 0 -2 0zM208.6 391.7a1 1 0 1 0 2 0a1 1 0 1 0 -2 0zM210.5 391.7a1 1 0 1 0 2 0a1 1 0 1 0 -2 0zM212.5 391.7a1 1 0 1 0 2 0a1 1 0 1 0 -2 0zM214.4 391.7a1 1 0 1 0 2 0a1 1 0 1 0 -2 0zM216.4 391.7a1 1 0 1 0 2 0a1 1 0 1 0 -2 0zM218.3 391.7a1 1 0 1 0 2 0a1 1 0 1 0 -2 0zM220.3 391.7a1 1 0 1 0 2 0a1 1 0 1 0 -2 0zM222.2 391.7a1 1 0 1 0 2 0a1 1 0 1 0 -2 0zM224.2 391.7a1 1 0 1 0 2 0a1 1 0 1 0 -2 0zM226.1 391.7a1 1 0 1 0 2 0a1 1 0 1 0 -2 0zM228.1 391.7a1 1 0 1 0 2 0a1 1 0 1 0 -2 0zM230.0 391.7a1 1 0 1 0 2 0a1 1 0 1 0 -2 0zM232.0 391.7a1 1 0 1 0 2 0a1 1 0 1 0 -2 0zM233.9 391.7a1 1 0 1 0 2 0a1 1 0 1 0 -2 0zM235.9 391.7a1 1 0 1 0 2 0a1 1 0 1 0 -2 0zM237.8 391.7a1 1 0 1 0 2 0a1 1 0 1 0 -2 0zM239.8 391.7a1 1 0 1 0 2 0a1 1 0 1 0 -2 0zM241.7 391.7a1 1 0 1 0 2 0a1 1 0 1 0 -2 0zM243.7 391.7a1 1 0 1 0 2 0a1 1 0 1 0 -2 0zM165.7 401.6a1 1 0 1 0 2 0a1 1 0 1 0 -2 0zM167.7 401.6a1 1 0 1 0 2 0a1 1 0 1 0 -2 0zM179.1 398.7a1 1 0 1 0 2 0a1 1 0 1 0 -2 0zM177.2 409.7a1 1 0 1 0 2 0a1 1 0 1 0 -2 0zM180.6 419.7a1 1 0 1 0 2 0a1 1 0 1 0 -2 0zM182.6 419.7a1 1 0 1 0 2 0a1 1 0 1 0 -2 0zM184.5 419.7a1 1 0 1 0 2 0a1 1 0 1 0 -2 0zM193.3 428.9a1 1 0 1 0 2 0a1 1 0 1 0 -2 0zM195.2 428.9a1 1 0 1 0 2 0a1 1 0 1 0 -2 0zM197.2 428.9a1 1 0 1 0 2 0a1 1 0 1 0 -2 0zM199.1 428.9a1 1 0 1 0 2 0a1 1 0 1 0 -2 0zM201.1 428.9a1 1 0 1 0 2 0a1 1 0 1 0 -2 0zM203.0 428.9a1 1 0 1 0 2 0a1 1 0 1 0 -2 0zM182.6 438.3a1 1 0 1 0 2 0a1 1 0 1 0 -2 0zM184.5 438.3a1 1 0 1 0 2 0a1 1 0 1 0 -2 0zM186.5 438.3a1 1 0 1 0 2 0a1 1 0 1 0 -2 0zM205.2 440.7a1 1 0 1 0 2 0a1 1 0 1 0 -2 0zM207.1 440.7a1 1 0 1 0 2 0a1 1 0 1 0 -2 0zM209.1 440.7a1 1 0 1 0 2 0a1 1 0 1 0 -2 0zM189.1 447.5a1 1 0 1 0 2 0a1 1 0 1 0 -2 0zM236.9 443.3a1 1 0 1 0 2 0a1 1 0 1 0 -2 0zM238.8 443.3a1 1 0 1 0 2 0a1 1 0 1 0 -2 0zM240.8 443.3a1 1 0 1 0 2 0a1 1 0 1 0 -2 0zM242.7 443.3a1 1 0 1 0 2 0a1 1 0 1 0 -2 0zM228.0 441.2a1 1 0 1 0 2 0a1 1 0 1 0 -2 0zM230.0 441.2a1 1 0 1 0 2 0a1 1 0 1 0 -2 0zM231.9 441.2a1 1 0 1 0 2 0a1 1 0 1 0 -2 0zM249.2 456.2a1 1 0 1 0 2 0a1 1 0 1 0 -2 0zM270.6 451.2a1 1 0 1 0 2 0a1 1 0 1 0 -2 0zM288.2 460.7a1 1 0 1 0 2 0a1 1 0 1 0 -2 0zM290.1 460.7a1 1 0 1 0 2 0a1 1 0 1 0 -2 0zM344.0 456.2a1 1 0 1 0 2 0a1 1 0 1 0 -2 0zM405.9 453.9a1 1 0 1 0 2 0a1 1 0 1 0 -2 0zM407.9 453.9a1 1 0 1 0 2 0a1 1 0 1 0 -2 0zM356.0 461.1a1 1 0 1 0 2 0a1 1 0 1 0 -2 0zM357.9 461.1a1 1 0 1 0 2 0a1 1 0 1 0 -2 0zM342.3 468.1a1 1 0 1 0 2 0a1 1 0 1 0 -2 0zM187.2 483.0a1 1 0 1 0 2 0a1 1 0 1 0 -2 0zM240.8 475.0a1 1 0 1 0 2 0a1 1 0 1 0 -2 0zM242.7 475.0a1 1 0 1 0 2 0a1 1 0 1 0 -2 0zM250.6 484.4a1 1 0 1 0 2 0a1 1 0 1 0 -2 0zM252.5 484.4a1 1 0 1 0 2 0a1 1 0 1 0 -2 0zM266.0 498.3a1 1 0 1 0 2 0a1 1 0 1 0 -2 0zM268.0 498.3a1 1 0 1 0 2 0a1 1 0 1 0 -2 0zM269.9 498.3a1 1 0 1 0 2 0a1 1 0 1 0 -2 0zM353.8 500.0a1 1 0 1 0 2 0a1 1 0 1 0 -2 0zM355.7 500.0a1 1 0 1 0 2 0a1 1 0 1 0 -2 0zM357.7 500.0a1 1 0 1 0 2 0a1 1 0 1 0 -2 0zM359.6 500.0a1 1 0 1 0 2 0a1 1 0 1 0 -2 0zM361.6 500.0a1 1 0 1 0 2 0a1 1 0 1 0 -2 0zM363.5 500.0a1 1 0 1 0 2 0a1 1 0 1 0 -2 0zM365.5 500.0a1 1 0 1 0 2 0a1 1 0 1 0 -2 0zM367.4 500.0a1 1 0 1 0 2 0a1 1 0 1 0 -2 0zM196.9 504.2a1 1 0 1 0 2 0a1 1 0 1 0 -2 0zM198.9 504.2a1 1 0 1 0 2 0a1 1 0 1 0 -2 0zM198.9 515.1a1 1 0 1 0 2 0a1 1 0 1 0 -2 0zM203.0 535.2a1 1 0 1 0 2 0a1 1 0 1 0 -2 0zM197.9 589.7a1 1 0 1 0 2 0a1 1 0 1 0 -2 0zM199.9 589.7a1 1 0 1 0 2 0a1 1 0 1 0 -2 0zM201.8 589.7a1 1 0 1 0 2 0a1 1 0 1 0 -2 0zM203.8 589.7a1 1 0 1 0 2 0a1 1 0 1 0 -2 0zM271.5 565.2a1 1 0 1 0 2 0a1 1 0 1 0 -2 0zM273.4 565.2a1 1 0 1 0 2 0a1 1 0 1 0 -2 0zM271.0 592.2a1 1 0 1 0 2 0a1 1 0 1 0 -2 0zM272.9 592.2a1 1 0 1 0 2 0a1 1 0 1 0 -2 0zM274.9 592.2a1 1 0 1 0 2 0a1 1 0 1 0 -2 0zM276.8 592.2a1 1 0 1 0 2 0a1 1 0 1 0 -2 0zM340.2 549.6a1 1 0 1 0 2 0a1 1 0 1 0 -2 0zM342.2 549.6a1 1 0 1 0 2 0a1 1 0 1 0 -2 0zM338.3 554.5a1 1 0 1 0 2 0a1 1 0 1 0 -2 0zM329.8 565.7a1 1 0 1 0 2 0a1 1 0 1 0 -2 0zM331.8 565.7a1 1 0 1 0 2 0a1 1 0 1 0 -2 0zM333.7 565.7a1 1 0 1 0 2 0a1 1 0 1 0 -2 0zM335.6 565.7a1 1 0 1 0 2 0a1 1 0 1 0 -2 0zM337.6 565.7a1 1 0 1 0 2 0a1 1 0 1 0 -2 0zM339.5 565.7a1 1 0 1 0 2 0a1 1 0 1 0 -2 0zM341.5 565.7a1 1 0 1 0 2 0a1 1 0 1 0 -2 0zM343.4 565.7a1 1 0 1 0 2 0a1 1 0 1 0 -2 0zM345.4 565.7a1 1 0 1 0 2 0a1 1 0 1 0 -2 0zM347.3 565.7a1 1 0 1 0 2 0a1 1 0 1 0 -2 0zM349.3 565.7a1 1 0 1 0 2 0a1 1 0 1 0 -2 0zM351.2 565.7a1 1 0 1 0 2 0a1 1 0 1 0 -2 0zM353.2 565.7a1 1 0 1 0 2 0a1 1 0 1 0 -2 0zM355.1 565.7a1 1 0 1 0 2 0a1 1 0 1 0 -2 0zM357.1 565.7a1 1 0 1 0 2 0a1 1 0 1 0 -2 0zM359.0 565.7a1 1 0 1 0 2 0a1 1 0 1 0 -2 0zM361.0 565.7a1 1 0 1 0 2 0a1 1 0 1 0 -2 0zM362.9 565.7a1 1 0 1 0 2 0a1 1 0 1 0 -2 0zM364.9 565.7a1 1 0 1 0 2 0a1 1 0 1 0 -2 0zM366.8 565.7a1 1 0 1 0 2 0a1 1 0 1 0 -2 0zM368.8 565.7a1 1 0 1 0 2 0a1 1 0 1 0 -2 0zM370.7 565.7a1 1 0 1 0 2 0a1 1 0 1 0 -2 0zM372.7 565.7a1 1 0 1 0 2 0a1 1 0 1 0 -2 0zM327.5 601.7a1 1 0 1 0 2 0a1 1 0 1 0 -2 0zM376.5 598.5a1 1 0 1 0 2 0a1 1 0 1 0 -2 0zM378.4 598.5a1 1 0 1 0 2 0a1 1 0 1 0 -2 0zM380.4 598.5a1 1 0 1 0 2 0a1 1 0 1 0 -2 0zM382.3 598.5a1 1 0 1 0 2 0a1 1 0 1 0 -2 0zM384.3 598.5a1 1 0 1 0 2 0a1 1 0 1 0 -2 0zM349.9 614.7a1 1 0 1 0 2 0a1 1 0 1 0 -2 0zM351.9 614.7a1 1 0 1 0 2 0a1 1 0 1 0 -2 0zM259.5 630.5a1 1 0 1 0 2 0a1 1 0 1 0 -2 0zM302.6 627.2a1 1 0 1 0 2 0a1 1 0 1 0 -2 0zM304.6 627.2a1 1 0 1 0 2 0a1 1 0 1 0 -2 0zM302.6 633.9a1 1 0 1 0 2 0a1 1 0 1 0 -2 0zM304.6 633.9a1 1 0 1 0 2 0a1 1 0 1 0 -2 0zM306.5 633.9a1 1 0 1 0 2 0a1 1 0 1 0 -2 0zM308.5 633.9a1 1 0 1 0 2 0a1 1 0 1 0 -2 0zM290.7 652.0a1 1 0 1 0 2 0a1 1 0 1 0 -2 0zM292.7 652.0a1 1 0 1 0 2 0a1 1 0 1 0 -2 0zM344.8 642.9a1 1 0 1 0 2 0a1 1 0 1 0 -2 0zM346.8 642.9a1 1 0 1 0 2 0a1 1 0 1 0 -2 0zM341.7 647.1a1 1 0 1 0 2 0a1 1 0 1 0 -2 0zM343.6 647.1a1 1 0 1 0 2 0a1 1 0 1 0 -2 0zM350.8 658.3a1 1 0 1 0 2 0a1 1 0 1 0 -2 0zM352.8 658.3a1 1 0 1 0 2 0a1 1 0 1 0 -2 0zM278.8 687.5a1 1 0 1 0 2 0a1 1 0 1 0 -2 0zM323.4 694.2a1 1 0 1 0 2 0a1 1 0 1 0 -2 0zM361.2 682.5a1 1 0 1 0 2 0a1 1 0 1 0 -2 0zM363.2 682.5a1 1 0 1 0 2 0a1 1 0 1 0 -2 0zM365.1 682.5a1 1 0 1 0 2 0a1 1 0 1 0 -2 0zM367.1 682.5a1 1 0 1 0 2 0a1 1 0 1 0 -2 0zM358.8 691.7a1 1 0 1 0 2 0a1 1 0 1 0 -2 0zM360.7 691.7a1 1 0 1 0 2 0a1 1 0 1 0 -2 0zM362.7 691.7a1 1 0 1 0 2 0a1 1 0 1 0 -2 0zM366.0 727.7a1 1 0 1 0 2 0a1 1 0 1 0 -2 0zM368.0 727.7a1 1 0 1 0 2 0a1 1 0 1 0 -2 0zM341.2 750.1a1 1 0 1 0 2 0a1 1 0 1 0 -2 0zM358.9 754.7a1 1 0 1 0 2 0a1 1 0 1 0 -2 0zM352.4 768.2a1 1 0 1 0 2 0a1 1 0 1 0 -2 0zM367.8 764.5a1 1 0 1 0 2 0a1 1 0 1 0 -2 0zM376.9 780.6a1 1 0 1 0 2 0a1 1 0 1 0 -2 0z" fill="#231f20"/>
<ellipse cx="193.0" cy="360.2" rx="4" ry="4" fill="#f7941d" stroke="#1d2b3a" stroke-width="0.55"/>
<ellipse cx="184.0" cy="364.6" rx="4.3" ry="4.3" fill="#f7941d" stroke="#1d2b3a" stroke-width="0.55"/>
<ellipse cx="98.0" cy="367.5" rx="3.9" ry="3.9" fill="#f7941d" stroke="#1d2b3a" stroke-width="0.55"/>
<ellipse cx="153.2" cy="369.7" rx="4" ry="4" fill="#f7941d" stroke="#1d2b3a" stroke-width="0.55"/>
<ellipse cx="158.3" cy="377.7" rx="4" ry="4" fill="#f7941d" stroke="#1d2b3a" stroke-width="0.55"/>
<ellipse cx="154.0" cy="381.8" rx="4.5" ry="4.5" fill="#f7941d" stroke="#1d2b3a" stroke-width="0.55"/>
<ellipse cx="137.9" cy="374.4" rx="3.8" ry="3.8" fill="#3a8dce" stroke="#1d2b3a" stroke-width="0.55"/>
<ellipse cx="158.0" cy="371.9" rx="3.6" ry="3.6" fill="#3a8dce" stroke="#1d2b3a" stroke-width="0.55"/>
<ellipse cx="58.4" cy="386.2" rx="2.6" ry="2.6" fill="#3a8dce" stroke="#1d2b3a" stroke-width="0.55"/>
<ellipse cx="138.3" cy="389.4" rx="3.8" ry="4.8" fill="#3a8dce" stroke="#1d2b3a" stroke-width="0.55"/>
<ellipse cx="199.6" cy="396.2" rx="3" ry="4.3" fill="#3a8dce" stroke="#1d2b3a" stroke-width="0.55"/>
<ellipse cx="269.0" cy="393.0" rx="3" ry="3" fill="#3a8dce" stroke="#1d2b3a" stroke-width="0.55"/>
<ellipse cx="179.8" cy="403.6" rx="2.9" ry="2.9" fill="#3a8dce" stroke="#1d2b3a" stroke-width="0.55"/>
<ellipse cx="183.5" cy="401.9" rx="2.9" ry="2.9" fill="#3a8dce" stroke="#1d2b3a" stroke-width="0.55"/>
<ellipse cx="188.5" cy="399.9" rx="2.9" ry="2.9" fill="#3a8dce" stroke="#1d2b3a" stroke-width="0.55"/>
<ellipse cx="179.3" cy="408.6" rx="2.9" ry="2.9" fill="#3a8dce" stroke="#1d2b3a" stroke-width="0.55"/>
<ellipse cx="183.5" cy="411.0" rx="2.9" ry="2.9" fill="#3a8dce" stroke="#1d2b3a" stroke-width="0.55"/>
<ellipse cx="179.3" cy="413.5" rx="2.9" ry="2.9" fill="#3a8dce" stroke="#1d2b3a" stroke-width="0.55"/>
<ellipse cx="193.4" cy="418.0" rx="3" ry="4.5" fill="#3a8dce" stroke="#1d2b3a" stroke-width="0.55"/>
<ellipse cx="203.8" cy="425.2" rx="3" ry="3" fill="#3a8dce" stroke="#1d2b3a" stroke-width="0.55"/>
<ellipse cx="219.5" cy="430.2" rx="3" ry="3" fill="#3a8dce" stroke="#1d2b3a" stroke-width="0.55"/>
<ellipse cx="194.7" cy="433.4" rx="3" ry="4" fill="#3a8dce" stroke="#1d2b3a" stroke-width="0.55"/>
<ellipse cx="204.6" cy="437.9" rx="3" ry="4" fill="#3a8dce" stroke="#1d2b3a" stroke-width="0.55"/>
<ellipse cx="178.5" cy="423.0" rx="2.7" ry="2.7" fill="#3a8dce" stroke="#1d2b3a" stroke-width="0.55"/>
<ellipse cx="179.0" cy="428.0" rx="2.7" ry="2.7" fill="#3a8dce" stroke="#1d2b3a" stroke-width="0.55"/>
<ellipse cx="264.4" cy="444.6" rx="3" ry="3" fill="#3a8dce" stroke="#1d2b3a" stroke-width="0.55"/>
<ellipse cx="238.6" cy="441.8" rx="3" ry="3" fill="#3a8dce" stroke="#1d2b3a" stroke-width="0.55"/>
<ellipse cx="221.7" cy="444.0" rx="2.8" ry="2.8" fill="#3a8dce" stroke="#1d2b3a" stroke-width="0.55"/>
<ellipse cx="234.1" cy="449.8" rx="3" ry="4" fill="#3a8dce" stroke="#1d2b3a" stroke-width="0.55"/>
<ellipse cx="279.0" cy="452.5" rx="3" ry="3" fill="#3a8dce" stroke="#1d2b3a" stroke-width="0.55"/>
<ellipse cx="439.7" cy="456.0" rx="4.2" ry="4.2" fill="#3a8dce" stroke="#1d2b3a" stroke-width="0.55"/>
<ellipse cx="424.6" cy="457.7" rx="4.2" ry="4.2" fill="#3a8dce" stroke="#1d2b3a" stroke-width="0.55"/>
<ellipse cx="410.0" cy="460.2" rx="2.8" ry="2.8" fill="#c7c8ca" stroke="#1d2b3a" stroke-width="0.55"/>
<ellipse cx="399.0" cy="463.2" rx="4" ry="4" fill="#3a8dce" stroke="#1d2b3a" stroke-width="0.55"/>
<ellipse cx="388.8" cy="465.0" rx="3.8" ry="3.8" fill="#3a8dce" stroke="#1d2b3a" stroke-width="0.55"/>
<ellipse cx="379.0" cy="467.4" rx="3.8" ry="3.8" fill="#3a8dce" stroke="#1d2b3a" stroke-width="0.55"/>
<ellipse cx="368.7" cy="469.9" rx="3.8" ry="3.8" fill="#3a8dce" stroke="#1d2b3a" stroke-width="0.55"/>
<ellipse cx="364.0" cy="473.0" rx="3.8" ry="3.8" fill="#3a8dce" stroke="#1d2b3a" stroke-width="0.55"/>
<ellipse cx="264.0" cy="476.8" rx="3" ry="3" fill="#3a8dce" stroke="#1d2b3a" stroke-width="0.55"/>
<ellipse cx="249.3" cy="478.8" rx="2.9" ry="2.9" fill="#3a8dce" stroke="#1d2b3a" stroke-width="0.55"/>
<ellipse cx="244.3" cy="481.3" rx="2.8" ry="2.8" fill="#3a8dce" stroke="#1d2b3a" stroke-width="0.55"/>
<ellipse cx="238.8" cy="483.8" rx="2.8" ry="2.8" fill="#3a8dce" stroke="#1d2b3a" stroke-width="0.55"/>
<ellipse cx="279.0" cy="485.7" rx="3" ry="3" fill="#3a8dce" stroke="#1d2b3a" stroke-width="0.55"/>
<ellipse cx="249.3" cy="488.0" rx="2.9" ry="2.9" fill="#3a8dce" stroke="#1d2b3a" stroke-width="0.55"/>
<ellipse cx="238.0" cy="490.5" rx="2.9" ry="2.9" fill="#3a8dce" stroke="#1d2b3a" stroke-width="0.55"/>
<ellipse cx="233.1" cy="493.0" rx="2.8" ry="2.8" fill="#3a8dce" stroke="#1d2b3a" stroke-width="0.55"/>
<ellipse cx="274.0" cy="495.0" rx="3" ry="3" fill="#3a8dce" stroke="#1d2b3a" stroke-width="0.55"/>
<ellipse cx="238.8" cy="498.0" rx="2.9" ry="2.9" fill="#3a8dce" stroke="#1d2b3a" stroke-width="0.55"/>
<ellipse cx="289.0" cy="499.6" rx="3" ry="3" fill="#3a8dce" stroke="#1d2b3a" stroke-width="0.55"/>
<ellipse cx="268.0" cy="504.6" rx="2.9" ry="2.9" fill="#3a8dce" stroke="#1d2b3a" stroke-width="0.55"/>
<ellipse cx="444.0" cy="502.0" rx="2.9" ry="2.9" fill="#c7c8ca" stroke="#1d2b3a" stroke-width="0.55"/>
<ellipse cx="214.0" cy="507.0" rx="3" ry="3" fill="#3a8dce" stroke="#1d2b3a" stroke-width="0.55"/>
<ellipse cx="203.8" cy="510.4" rx="3" ry="4" fill="#3a8dce" stroke="#1d2b3a" stroke-width="0.55"/>
<ellipse cx="193.4" cy="514.4" rx="2.9" ry="2.9" fill="#3a8dce" stroke="#1d2b3a" stroke-width="0.55"/>
<ellipse cx="213.8" cy="516.4" rx="2.9" ry="2.9" fill="#3a8dce" stroke="#1d2b3a" stroke-width="0.55"/>
<ellipse cx="203.3" cy="519.9" rx="3" ry="4" fill="#3a8dce" stroke="#1d2b3a" stroke-width="0.55"/>
<ellipse cx="193.4" cy="523.0" rx="2.9" ry="2.9" fill="#3a8dce" stroke="#1d2b3a" stroke-width="0.55"/>
<ellipse cx="189.0" cy="526.6" rx="3" ry="3.8" fill="#3a8dce" stroke="#1d2b3a" stroke-width="0.55"/>
<ellipse cx="223.7" cy="530.3" rx="3" ry="3" fill="#3a8dce" stroke="#1d2b3a" stroke-width="0.55"/>
<ellipse cx="218.2" cy="532.3" rx="3" ry="3" fill="#3a8dce" stroke="#1d2b3a" stroke-width="0.55"/>
<ellipse cx="223.7" cy="534.7" rx="3" ry="3" fill="#3a8dce" stroke="#1d2b3a" stroke-width="0.55"/>
<ellipse cx="219.0" cy="538.5" rx="3" ry="3" fill="#3a8dce" stroke="#1d2b3a" stroke-width="0.55"/>
<ellipse cx="193.4" cy="544.0" rx="2.9" ry="2.9" fill="#3a8dce" stroke="#1d2b3a" stroke-width="0.55"/>
<ellipse cx="203.8" cy="541.7" rx="2.9" ry="2.9" fill="#3a8dce" stroke="#1d2b3a" stroke-width="0.55"/>
<ellipse cx="239.3" cy="548.9" rx="2.7" ry="2.7" fill="#3a8dce" stroke="#1d2b3a" stroke-width="0.55"/>
<ellipse cx="243.8" cy="546.4" rx="2.7" ry="2.7" fill="#3a8dce" stroke="#1d2b3a" stroke-width="0.55"/>
<ellipse cx="253.5" cy="560.3" rx="2.9" ry="2.9" fill="#3a8dce" stroke="#1d2b3a" stroke-width="0.55"/>
<ellipse cx="354.0" cy="552.0" rx="4" ry="5" fill="#3a8dce" stroke="#1d2b3a" stroke-width="0.55"/>
<ellipse cx="353.3" cy="557.6" rx="4" ry="5" fill="#3a8dce" stroke="#1d2b3a" stroke-width="0.55"/>
<ellipse cx="364.0" cy="553.3" rx="2.5" ry="2.5" fill="#3a8dce" stroke="#1d2b3a" stroke-width="0.55"/>
<ellipse cx="334.2" cy="562.0" rx="4.3" ry="4.3" fill="#3a8dce" stroke="#1d2b3a" stroke-width="0.55"/>
<ellipse cx="323.0" cy="565.0" rx="2.7" ry="2.7" fill="#c7c8ca" stroke="#1d2b3a" stroke-width="0.55"/>
<ellipse cx="404.7" cy="567.0" rx="3" ry="3" fill="#c7c8ca" stroke="#1d2b3a" stroke-width="0.55"/>
<ellipse cx="383.9" cy="570.0" rx="2.8" ry="2.8" fill="#c7c8ca" stroke="#1d2b3a" stroke-width="0.55"/>
<ellipse cx="360.8" cy="572.0" rx="2.8" ry="2.8" fill="#c7c8ca" stroke="#1d2b3a" stroke-width="0.55"/>
<ellipse cx="333.5" cy="574.0" rx="2.7" ry="2.7" fill="#3a8dce" stroke="#1d2b3a" stroke-width="0.55"/>
<ellipse cx="329.0" cy="577.0" rx="2.7" ry="2.7" fill="#c7c8ca" stroke="#1d2b3a" stroke-width="0.55"/>
<ellipse cx="369.5" cy="579.0" rx="3.6" ry="3.6" fill="#3a8dce" stroke="#1d2b3a" stroke-width="0.55"/>
<ellipse cx="365.0" cy="581.4" rx="3.6" ry="3.6" fill="#3a8dce" stroke="#1d2b3a" stroke-width="0.55"/>
<ellipse cx="389.8" cy="584.9" rx="4.3" ry="5" fill="#3a8dce" stroke="#1d2b3a" stroke-width="0.55"/>
<ellipse cx="363.8" cy="589.3" rx="4" ry="5" fill="#3a8dce" stroke="#1d2b3a" stroke-width="0.55"/>
<ellipse cx="354.6" cy="593.0" rx="3.6" ry="3.6" fill="#3a8dce" stroke="#1d2b3a" stroke-width="0.55"/>
<ellipse cx="394.3" cy="594.8" rx="4" ry="4" fill="#3a8dce" stroke="#1d2b3a" stroke-width="0.55"/>
<ellipse cx="369.5" cy="597.3" rx="3.6" ry="3.6" fill="#3a8dce" stroke="#1d2b3a" stroke-width="0.55"/>
<ellipse cx="409.2" cy="599.8" rx="4.3" ry="4.3" fill="#3a8dce" stroke="#1d2b3a" stroke-width="0.55"/>
<ellipse cx="374.4" cy="603.0" rx="4" ry="5" fill="#3a8dce" stroke="#1d2b3a" stroke-width="0.55"/>
<ellipse cx="398.8" cy="606.7" rx="4" ry="4" fill="#3a8dce" stroke="#1d2b3a" stroke-width="0.55"/>
<ellipse cx="378.9" cy="609.2" rx="2.8" ry="2.8" fill="#c7c8ca" stroke="#1d2b3a" stroke-width="0.55"/>
<ellipse cx="384.4" cy="611.7" rx="2.8" ry="2.8" fill="#c7c8ca" stroke="#1d2b3a" stroke-width="0.55"/>
<ellipse cx="389.8" cy="614.6" rx="4" ry="5" fill="#3a8dce" stroke="#1d2b3a" stroke-width="0.55"/>
<ellipse cx="410.9" cy="618.6" rx="2.5" ry="2.5" fill="#3a8dce" stroke="#1d2b3a" stroke-width="0.55"/>
<ellipse cx="384.4" cy="621.0" rx="3.6" ry="3.6" fill="#3a8dce" stroke="#1d2b3a" stroke-width="0.55"/>
<ellipse cx="373.0" cy="622.8" rx="3.6" ry="3.6" fill="#3a8dce" stroke="#1d2b3a" stroke-width="0.55"/>
<ellipse cx="369.5" cy="625.3" rx="3.6" ry="3.6" fill="#3a8dce" stroke="#1d2b3a" stroke-width="0.55"/>
<ellipse cx="340.0" cy="634.2" rx="3.6" ry="3.6" fill="#3a8dce" stroke="#1d2b3a" stroke-width="0.55"/>
<ellipse cx="360.3" cy="632.3" rx="4" ry="4" fill="#3a8dce" stroke="#1d2b3a" stroke-width="0.55"/>
<ellipse cx="366.5" cy="637.2" rx="4" ry="4" fill="#3a8dce" stroke="#1d2b3a" stroke-width="0.55"/>
<ellipse cx="393.0" cy="627.3" rx="3.8" ry="3.8" fill="#3a8dce" stroke="#1d2b3a" stroke-width="0.55"/>
<ellipse cx="372.7" cy="623.6" rx="3.8" ry="3.8" fill="#3a8dce" stroke="#1d2b3a" stroke-width="0.55"/>
<ellipse cx="383.8" cy="620.6" rx="3.8" ry="3.8" fill="#3a8dce" stroke="#1d2b3a" stroke-width="0.55"/>
<ellipse cx="390.0" cy="615.4" rx="3.8" ry="3.8" fill="#3a8dce" stroke="#1d2b3a" stroke-width="0.55"/>
<ellipse cx="389.3" cy="644.2" rx="4.3" ry="4.3" fill="#3a8dce" stroke="#1d2b3a" stroke-width="0.55"/>
<ellipse cx="369.0" cy="648.4" rx="3.8" ry="3.8" fill="#3a8dce" stroke="#1d2b3a" stroke-width="0.55"/>
<ellipse cx="351.6" cy="643.4" rx="4" ry="4" fill="#3a8dce" stroke="#1d2b3a" stroke-width="0.55"/>
<ellipse cx="348.6" cy="648.4" rx="4" ry="4" fill="#3a8dce" stroke="#1d2b3a" stroke-width="0.55"/>
<ellipse cx="347.9" cy="653.3" rx="4" ry="4" fill="#3a8dce" stroke="#1d2b3a" stroke-width="0.55"/>
<ellipse cx="358.5" cy="655.0" rx="4" ry="4" fill="#3a8dce" stroke="#1d2b3a" stroke-width="0.55"/>
<ellipse cx="364.0" cy="659.6" rx="4.3" ry="4.3" fill="#3a8dce" stroke="#1d2b3a" stroke-width="0.55"/>
<ellipse cx="343.4" cy="665.0" rx="3.8" ry="3.8" fill="#3a8dce" stroke="#1d2b3a" stroke-width="0.55"/>
<ellipse cx="383.8" cy="667.0" rx="4.3" ry="4.3" fill="#3a8dce" stroke="#1d2b3a" stroke-width="0.55"/>
<ellipse cx="364.0" cy="669.5" rx="4" ry="4" fill="#3a8dce" stroke="#1d2b3a" stroke-width="0.55"/>
<ellipse cx="357.8" cy="672.5" rx="4" ry="4" fill="#3a8dce" stroke="#1d2b3a" stroke-width="0.55"/>
<ellipse cx="351.6" cy="677.0" rx="4" ry="4" fill="#3a8dce" stroke="#1d2b3a" stroke-width="0.55"/>
<ellipse cx="363.0" cy="664.5" rx="4" ry="4" fill="#3a8dce" stroke="#1d2b3a" stroke-width="0.55"/>
<ellipse cx="354.5" cy="675.0" rx="3.8" ry="3.8" fill="#3a8dce" stroke="#1d2b3a" stroke-width="0.55"/>
<ellipse cx="352.8" cy="630.3" rx="2.7" ry="2.7" fill="#c7c8ca" stroke="#1d2b3a" stroke-width="0.55"/>
<ellipse cx="329.3" cy="681.1" rx="2.6" ry="2.6" fill="#3a8dce" stroke="#1d2b3a" stroke-width="0.55"/>
<ellipse cx="409.7" cy="683.8" rx="4.4" ry="4.4" fill="#3a8dce" stroke="#1d2b3a" stroke-width="0.55"/>
<ellipse cx="378.9" cy="688.0" rx="3.8" ry="3.8" fill="#3a8dce" stroke="#1d2b3a" stroke-width="0.55"/>
<ellipse cx="390.0" cy="686.0" rx="3.8" ry="3.8" fill="#3a8dce" stroke="#1d2b3a" stroke-width="0.55"/>
<ellipse cx="398.7" cy="689.8" rx="3.8" ry="3.8" fill="#3a8dce" stroke="#1d2b3a" stroke-width="0.55"/>
<ellipse cx="349.6" cy="695.0" rx="3.8" ry="3.8" fill="#3a8dce" stroke="#1d2b3a" stroke-width="0.55"/>
<ellipse cx="374.0" cy="697.5" rx="3.8" ry="3.8" fill="#3a8dce" stroke="#1d2b3a" stroke-width="0.55"/>
<ellipse cx="359.0" cy="700.5" rx="3.8" ry="3.8" fill="#3a8dce" stroke="#1d2b3a" stroke-width="0.55"/>
<ellipse cx="369.0" cy="702.0" rx="3.8" ry="3.8" fill="#3a8dce" stroke="#1d2b3a" stroke-width="0.55"/>
<ellipse cx="354.0" cy="706.7" rx="4" ry="4" fill="#3a8dce" stroke="#1d2b3a" stroke-width="0.55"/>
<ellipse cx="360.0" cy="707.5" rx="3.8" ry="3.8" fill="#3a8dce" stroke="#1d2b3a" stroke-width="0.55"/>
<ellipse cx="374.0" cy="711.7" rx="4" ry="4" fill="#3a8dce" stroke="#1d2b3a" stroke-width="0.55"/>
<ellipse cx="364.0" cy="714.0" rx="4" ry="4" fill="#3a8dce" stroke="#1d2b3a" stroke-width="0.55"/>
<ellipse cx="378.9" cy="716.0" rx="4.2" ry="4.2" fill="#3a8dce" stroke="#1d2b3a" stroke-width="0.55"/>
<ellipse cx="363.5" cy="721.0" rx="3.8" ry="3.8" fill="#3a8dce" stroke="#1d2b3a" stroke-width="0.55"/>
<ellipse cx="353.3" cy="722.8" rx="3.8" ry="3.8" fill="#3a8dce" stroke="#1d2b3a" stroke-width="0.55"/>
<ellipse cx="378.4" cy="729.8" rx="4" ry="4" fill="#3a8dce" stroke="#1d2b3a" stroke-width="0.55"/>
<ellipse cx="359.0" cy="732.0" rx="3.8" ry="3.8" fill="#3a8dce" stroke="#1d2b3a" stroke-width="0.55"/>
<ellipse cx="393.8" cy="734.7" rx="4.5" ry="4.5" fill="#3a8dce" stroke="#1d2b3a" stroke-width="0.55"/>
<ellipse cx="369.0" cy="736.5" rx="4" ry="4" fill="#3a8dce" stroke="#1d2b3a" stroke-width="0.55"/>
<ellipse cx="403.7" cy="709.4" rx="4.5" ry="4.5" fill="#3a8dce" stroke="#1d2b3a" stroke-width="0.55"/>
<ellipse cx="373.2" cy="711.2" rx="3.8" ry="3.8" fill="#3a8dce" stroke="#1d2b3a" stroke-width="0.55"/>
<ellipse cx="353.3" cy="727.0" rx="3.8" ry="3.8" fill="#3a8dce" stroke="#1d2b3a" stroke-width="0.55"/>
<ellipse cx="358.3" cy="732.3" rx="3.8" ry="3.8" fill="#3a8dce" stroke="#1d2b3a" stroke-width="0.55"/>
<ellipse cx="368.2" cy="737.2" rx="4" ry="4" fill="#3a8dce" stroke="#1d2b3a" stroke-width="0.55"/>
<ellipse cx="353.3" cy="741.7" rx="3.8" ry="3.8" fill="#3a8dce" stroke="#1d2b3a" stroke-width="0.55"/>
<ellipse cx="363.3" cy="742.2" rx="4" ry="4" fill="#3a8dce" stroke="#1d2b3a" stroke-width="0.55"/>
<ellipse cx="373.2" cy="745.9" rx="4" ry="4" fill="#3a8dce" stroke="#1d2b3a" stroke-width="0.55"/>
<ellipse cx="368.0" cy="748.0" rx="3.8" ry="3.8" fill="#3a8dce" stroke="#1d2b3a" stroke-width="0.55"/>
<ellipse cx="383.6" cy="751.4" rx="4" ry="4" fill="#3a8dce" stroke="#1d2b3a" stroke-width="0.55"/>
<ellipse cx="383.6" cy="755.0" rx="4" ry="4" fill="#3a8dce" stroke="#1d2b3a" stroke-width="0.55"/>
<ellipse cx="369.5" cy="758.3" rx="3.8" ry="3.8" fill="#3a8dce" stroke="#1d2b3a" stroke-width="0.55"/>
<ellipse cx="388.1" cy="760.3" rx="4" ry="4" fill="#3a8dce" stroke="#1d2b3a" stroke-width="0.55"/>
<ellipse cx="379.4" cy="763.3" rx="4" ry="4" fill="#3a8dce" stroke="#1d2b3a" stroke-width="0.55"/>
<ellipse cx="380.5" cy="767.0" rx="4" ry="4" fill="#3a8dce" stroke="#1d2b3a" stroke-width="0.55"/>
<ellipse cx="393.8" cy="769.5" rx="4" ry="4" fill="#3a8dce" stroke="#1d2b3a" stroke-width="0.55"/>
<ellipse cx="389.3" cy="773.2" rx="4" ry="4" fill="#3a8dce" stroke="#1d2b3a" stroke-width="0.55"/>
<ellipse cx="384.4" cy="778.9" rx="3.8" ry="3.8" fill="#3a8dce" stroke="#1d2b3a" stroke-width="0.55"/>
<ellipse cx="403.7" cy="776.9" rx="4" ry="4" fill="#3a8dce" stroke="#1d2b3a" stroke-width="0.55"/>
<ellipse cx="404.2" cy="783.1" rx="4" ry="4" fill="#3a8dce" stroke="#1d2b3a" stroke-width="0.55"/>
<ellipse cx="388.1" cy="785.6" rx="3.8" ry="3.8" fill="#3a8dce" stroke="#1d2b3a" stroke-width="0.55"/>
<ellipse cx="383.1" cy="788.0" rx="3.8" ry="3.8" fill="#3a8dce" stroke="#1d2b3a" stroke-width="0.55"/>
<ellipse cx="378.2" cy="791.8" rx="4" ry="4" fill="#3a8dce" stroke="#1d2b3a" stroke-width="0.55"/>
<ellipse cx="407.9" cy="794.8" rx="4" ry="4" fill="#3a8dce" stroke="#1d2b3a" stroke-width="0.55"/>
<ellipse cx="403.0" cy="798.0" rx="4" ry="4" fill="#3a8dce" stroke="#1d2b3a" stroke-width="0.55"/>
<ellipse cx="399.3" cy="804.2" rx="4" ry="4" fill="#3a8dce" stroke="#1d2b3a" stroke-width="0.55"/>
<ellipse cx="408.4" cy="808.0" rx="4.5" ry="4.5" fill="#3a8dce" stroke="#1d2b3a" stroke-width="0.55"/>
<ellipse cx="404.0" cy="801.0" rx="4" ry="4" fill="#3a8dce" stroke="#1d2b3a" stroke-width="0.55"/>
<ellipse cx="409.0" cy="799.0" rx="3.8" ry="3.8" fill="#3a8dce" stroke="#1d2b3a" stroke-width="0.55"/>
<ellipse cx="383.0" cy="693.0" rx="2.7" ry="2.7" fill="#c7c8ca" stroke="#1d2b3a" stroke-width="0.55"/>
<ellipse cx="351.6" cy="641.0" rx="3.9" ry="3.9" fill="#3a8dce" stroke="#1d2b3a" stroke-width="0.55"/>
<ellipse cx="350.3" cy="644.7" rx="3.9" ry="3.9" fill="#3a8dce" stroke="#1d2b3a" stroke-width="0.55"/>
<ellipse cx="348.6" cy="648.4" rx="3.9" ry="3.9" fill="#3a8dce" stroke="#1d2b3a" stroke-width="0.55"/>
<ellipse cx="347.9" cy="652.1" rx="3.9" ry="3.9" fill="#3a8dce" stroke="#1d2b3a" stroke-width="0.55"/>
<ellipse cx="357.8" cy="653.3" rx="3.9" ry="3.9" fill="#3a8dce" stroke="#1d2b3a" stroke-width="0.55"/>
<ellipse cx="361.5" cy="657.1" rx="3.9" ry="3.9" fill="#3a8dce" stroke="#1d2b3a" stroke-width="0.55"/>
<ellipse cx="364.0" cy="660.8" rx="3.9" ry="3.9" fill="#3a8dce" stroke="#1d2b3a" stroke-width="0.55"/>
<ellipse cx="364.0" cy="665.0" rx="3.9" ry="3.9" fill="#3a8dce" stroke="#1d2b3a" stroke-width="0.55"/>
<ellipse cx="362.8" cy="669.5" rx="3.9" ry="3.9" fill="#3a8dce" stroke="#1d2b3a" stroke-width="0.55"/>
<ellipse cx="359.0" cy="672.0" rx="3.9" ry="3.9" fill="#3a8dce" stroke="#1d2b3a" stroke-width="0.55"/>
<ellipse cx="355.3" cy="674.0" rx="3.9" ry="3.9" fill="#3a8dce" stroke="#1d2b3a" stroke-width="0.55"/>
<ellipse cx="351.6" cy="677.0" rx="3.9" ry="3.9" fill="#3a8dce" stroke="#1d2b3a" stroke-width="0.55"/>
<ellipse cx="350.3" cy="679.4" rx="3.9" ry="3.9" fill="#3a8dce" stroke="#1d2b3a" stroke-width="0.55"/>
<ellipse cx="369.0" cy="623.6" rx="3.9" ry="3.9" fill="#3a8dce" stroke="#1d2b3a" stroke-width="0.55"/>
<ellipse cx="357.8" cy="701.7" rx="3.9" ry="3.9" fill="#3a8dce" stroke="#1d2b3a" stroke-width="0.55"/>
<ellipse cx="360.3" cy="707.2" rx="3.9" ry="3.9" fill="#3a8dce" stroke="#1d2b3a" stroke-width="0.55"/>
<ellipse cx="374.0" cy="710.4" rx="3.9" ry="3.9" fill="#3a8dce" stroke="#1d2b3a" stroke-width="0.55"/>
<ellipse cx="376.4" cy="714.0" rx="3.9" ry="3.9" fill="#3a8dce" stroke="#1d2b3a" stroke-width="0.55"/>
<ellipse cx="354.0" cy="726.6" rx="3.9" ry="3.9" fill="#3a8dce" stroke="#1d2b3a" stroke-width="0.55"/>
<ellipse cx="357.8" cy="731.5" rx="3.9" ry="3.9" fill="#3a8dce" stroke="#1d2b3a" stroke-width="0.55"/>
<ellipse cx="364.0" cy="736.5" rx="3.9" ry="3.9" fill="#3a8dce" stroke="#1d2b3a" stroke-width="0.55"/>
<ellipse cx="353.3" cy="705.0" rx="3.9" ry="3.9" fill="#3a8dce" stroke="#1d2b3a" stroke-width="0.55"/>
<ellipse cx="357.0" cy="702.5" rx="3.9" ry="3.9" fill="#3a8dce" stroke="#1d2b3a" stroke-width="0.55"/>
<ellipse cx="360.8" cy="701.2" rx="3.9" ry="3.9" fill="#3a8dce" stroke="#1d2b3a" stroke-width="0.55"/>
<ellipse cx="354.6" cy="727.3" rx="3.9" ry="3.9" fill="#3a8dce" stroke="#1d2b3a" stroke-width="0.55"/>
<ellipse cx="365.8" cy="741.0" rx="3.9" ry="3.9" fill="#3a8dce" stroke="#1d2b3a" stroke-width="0.55"/>
<ellipse cx="368.2" cy="744.7" rx="3.9" ry="3.9" fill="#3a8dce" stroke="#1d2b3a" stroke-width="0.55"/>
<ellipse cx="372.0" cy="747.1" rx="3.9" ry="3.9" fill="#3a8dce" stroke="#1d2b3a" stroke-width="0.55"/>
<ellipse cx="383.6" cy="754.6" rx="3.9" ry="3.9" fill="#3a8dce" stroke="#1d2b3a" stroke-width="0.55"/>
<ellipse cx="385.6" cy="758.3" rx="3.9" ry="3.9" fill="#3a8dce" stroke="#1d2b3a" stroke-width="0.55"/>
<ellipse cx="379.4" cy="766.5" rx="3.9" ry="3.9" fill="#3a8dce" stroke="#1d2b3a" stroke-width="0.55"/>
<ellipse cx="383.1" cy="767.0" rx="3.9" ry="3.9" fill="#3a8dce" stroke="#1d2b3a" stroke-width="0.55"/>
<ellipse cx="391.8" cy="772.0" rx="3.9" ry="3.9" fill="#3a8dce" stroke="#1d2b3a" stroke-width="0.55"/>
<ellipse cx="386.8" cy="775.7" rx="3.9" ry="3.9" fill="#3a8dce" stroke="#1d2b3a" stroke-width="0.55"/>
<ellipse cx="404.2" cy="779.9" rx="3.9" ry="3.9" fill="#3a8dce" stroke="#1d2b3a" stroke-width="0.55"/>
<ellipse cx="385.6" cy="786.8" rx="3.9" ry="3.9" fill="#3a8dce" stroke="#1d2b3a" stroke-width="0.55"/>
<ellipse cx="379.9" cy="790.6" rx="3.9" ry="3.9" fill="#3a8dce" stroke="#1d2b3a" stroke-width="0.55"/>
<ellipse cx="409.2" cy="798.0" rx="3.9" ry="3.9" fill="#3a8dce" stroke="#1d2b3a" stroke-width="0.55"/>
<ellipse cx="406.7" cy="800.5" rx="3.9" ry="3.9" fill="#3a8dce" stroke="#1d2b3a" stroke-width="0.55"/>
<ellipse cx="400.5" cy="801.7" rx="3.9" ry="3.9" fill="#3a8dce" stroke="#1d2b3a" stroke-width="0.55"/>
<ellipse cx="404.2" cy="803.0" rx="3.9" ry="3.9" fill="#3a8dce" stroke="#1d2b3a" stroke-width="0.55"/>
<text x="-0.6" y="353.1" font-size="9.8" font-weight="bold" fill="#231f20">d</text>
<text x="62.7" y="388" font-size="6.5" fill="#231f20">KJ642617</text>
<text x="144" y="394" font-size="6.5" fill="#231f20">Zx</text>
<text x="117" y="467.3" font-size="6.5" fill="#231f20">Emergence</text>
<text x="221.5" y="420" font-size="6.5" fill="#231f20">A</text>
<text x="337.5" y="446.5" font-size="6.5" fill="#231f20">A.3</text>
<text x="297.5" y="492.7" font-size="6.5" fill="#231f20">A.1</text>
<text x="415.5" y="492.7" font-size="6.5" fill="#231f20">B.1</text>
<text x="373.5" y="554" font-size="6.5" fill="#231f20">A.2.1</text>
<text x="419.5" y="612" font-size="6.5" fill="#231f20">A.2.2</text>
<text x="252" y="624" font-size="6.5" fill="#231f20">A.2</text>
<text x="419.5" y="718.3" font-size="6.5" fill="#231f20">A.2.3</text>
<text x="199.5" y="772.3" font-size="6.5" fill="#231f20">hMPXV-1</text>
<line x1="7.3" y1="438.3" x2="56.7" y2="438.3" stroke="#231f20" stroke-width="1.5"/>
<text x="31" y="448.2" font-size="6.5" text-anchor="middle" fill="#231f20">5 × 10<tspan dy="-3" font-size="4">−5</tspan></text>
<text x="10.9" y="624.6" font-size="6.5" fill="#231f20">Mutation type</text>
<circle cx="9.1" cy="636.0" r="4.9" fill="#be1e2d" stroke="#231f20" stroke-width="0.6"/>
<text x="18.8" y="638.2" font-size="6.5" fill="#231f20">GA&gt;AA</text>
<circle cx="9.1" cy="647.6" r="4.9" fill="#f9d616" stroke="#231f20" stroke-width="0.6"/>
<text x="18.8" y="649.8000000000001" font-size="6.5" fill="#231f20">TC&gt;TT</text>
<circle cx="9.1" cy="659.3" r="4.9" fill="#231f20" stroke="#231f20" stroke-width="0.6"/>
<text x="18.8" y="661.5" font-size="6.5" fill="#231f20">Other</text>
<text x="10.9" y="729" font-size="6.5" fill="#231f20">Country of origin</text>
<circle cx="9.1" cy="740.3" r="4.9" fill="#3a8dce" stroke="#231f20" stroke-width="0.6"/>
<text x="18.8" y="742.5" font-size="6.5" fill="#231f20">Nigeria</text>
<circle cx="9.1" cy="752.0" r="4.9" fill="#f7941d" stroke="#231f20" stroke-width="0.6"/>
<text x="18.8" y="754.2" font-size="6.5" fill="#231f20">Cameroon</text>
<circle cx="9.1" cy="764.0" r="4.9" fill="#c7c8ca" stroke="#231f20" stroke-width="0.6"/>
<text x="18.8" y="766.2" font-size="6.5" fill="#231f20">Other</text>
</svg>
</body></html>
